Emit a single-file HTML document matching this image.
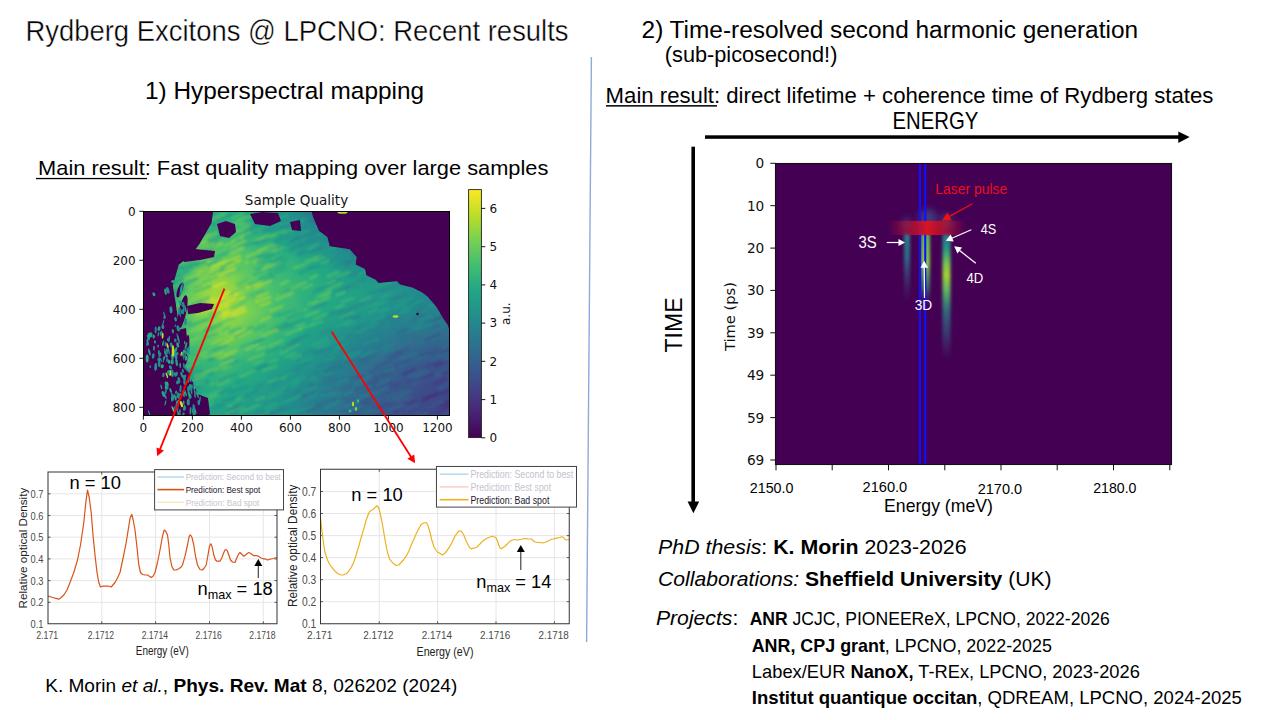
<!DOCTYPE html><html><head><meta charset="utf-8"><title>Rydberg Excitons @ LPCNO</title>
<style>html,body{margin:0;padding:0;background:#fff;overflow:hidden}svg{display:block}</style></head><body>
<svg width="1280" height="720" viewBox="0 0 1280 720" font-family="Liberation Sans, Arial, sans-serif">
<defs>
<linearGradient id="vir" x1="0" y1="1" x2="0" y2="0"><stop offset="0.0" stop-color="#440154"/><stop offset="0.1" stop-color="#482475"/><stop offset="0.2" stop-color="#414487"/><stop offset="0.3" stop-color="#355f8d"/><stop offset="0.4" stop-color="#2a788e"/><stop offset="0.5" stop-color="#21918c"/><stop offset="0.6" stop-color="#22a884"/><stop offset="0.7" stop-color="#44bf70"/><stop offset="0.8" stop-color="#7ad151"/><stop offset="0.9" stop-color="#bddf26"/><stop offset="1.0" stop-color="#fde725"/></linearGradient>
<linearGradient id="redband" x1="0" y1="0" x2="1" y2="0">
<stop offset="0" stop-color="#d0102a" stop-opacity="0"/><stop offset="0.25" stop-color="#c8102a" stop-opacity="0.55"/><stop offset="0.5" stop-color="#e0141e" stop-opacity="0.95"/><stop offset="0.72" stop-color="#c8102a" stop-opacity="0.7"/><stop offset="1" stop-color="#c8102a" stop-opacity="0"/></linearGradient>
<linearGradient id="st3s" x1="0" y1="0" x2="0" y2="1"><stop offset="0" stop-color="#2a8a8c" stop-opacity="0.9"/><stop offset="0.35" stop-color="#26828e" stop-opacity="0.8"/><stop offset="1" stop-color="#3b528b" stop-opacity="0"/></linearGradient>
<linearGradient id="st3d" x1="0" y1="0" x2="0" y2="1"><stop offset="0" stop-color="#5ec962" stop-opacity="0.9"/><stop offset="0.4" stop-color="#8fd744" stop-opacity="0.95"/><stop offset="0.75" stop-color="#35b779" stop-opacity="0.6"/><stop offset="1" stop-color="#31688e" stop-opacity="0"/></linearGradient>
<linearGradient id="st4" x1="0" y1="0" x2="0" y2="1"><stop offset="0" stop-color="#26828e" stop-opacity="0.85"/><stop offset="0.12" stop-color="#22a884" stop-opacity="0.9"/><stop offset="0.24" stop-color="#7ad151" stop-opacity="0.95"/><stop offset="0.33" stop-color="#a8db34" stop-opacity="0.95"/><stop offset="0.45" stop-color="#5ec962" stop-opacity="0.9"/><stop offset="0.6" stop-color="#2a9a8a" stop-opacity="0.7"/><stop offset="0.8" stop-color="#2a788e" stop-opacity="0.45"/><stop offset="1" stop-color="#3b528b" stop-opacity="0"/></linearGradient>
<filter id="blur07" x="-5%" y="-5%" width="110%" height="110%"><feGaussianBlur stdDeviation="1.0"/></filter>
<filter id="blur1" x="-50%" y="-50%" width="200%" height="200%"><feGaussianBlur stdDeviation="1.6"/></filter>
<filter id="blur4" x="-10%" y="-10%" width="120%" height="120%"><feGaussianBlur stdDeviation="4"/></filter>
<filter id="blur2" x="-50%" y="-50%" width="200%" height="200%"><feGaussianBlur stdDeviation="3"/></filter>
<clipPath id="hmclip"><rect x="143.5" y="211.5" width="306" height="204"/></clipPath>
<clipPath id="rclip"><rect x="775.5" y="163.5" width="396" height="301"/></clipPath>
<clipPath id="p1clip"><rect x="48" y="472" width="229" height="152"/></clipPath>
<clipPath id="p2clip"><rect x="320.5" y="469" width="249" height="155"/></clipPath>

</defs>
<text x="25.46" y="40.60" font-size="29.51" textLength="543.07" lengthAdjust="spacingAndGlyphs" id="title" stroke="#fff" stroke-width="0.4">Rydberg Excitons @ LPCNO: Recent results</text>
<text x="145.06" y="98.50" font-size="24.13" textLength="278.98" lengthAdjust="spacingAndGlyphs" id="h1">1) Hyperspectral mapping</text>
<text x="38.12" y="174.60" font-size="20.93" textLength="510.25" lengthAdjust="spacingAndGlyphs" id="mr1">Main result: Fast quality mapping over large samples</text>
<rect x="36" y="177.9" width="111" height="1.3" fill="#000"/>
<text x="641.57" y="37.75" font-size="23.98" textLength="496.47" lengthAdjust="spacingAndGlyphs" id="h2">2) Time-resolved second harmonic generation</text>
<text x="664.82" y="61.90" font-size="21.22" textLength="172.57" lengthAdjust="spacingAndGlyphs" id="sub">(sub-picosecond!)</text>
<text x="605.60" y="102.50" font-size="22.09" textLength="607.80" lengthAdjust="spacingAndGlyphs" id="mr2">Main result: direct lifetime + coherence time of Rydberg states</text>
<rect x="606" y="105.1" width="111" height="1.5" fill="#000"/>
<text x="892.56" y="128.90" font-size="23.55" textLength="85.87" lengthAdjust="spacingAndGlyphs" id="energy">ENERGY</text>
<rect x="705" y="135.3" width="474" height="3.5" fill="#000"/>
<polygon points="1178.3,131.6 1189.6,137.05 1178.3,142.9" fill="#000"/>
<rect x="691.4" y="146.7" width="3.6" height="356" fill="#000"/>
<polygon points="687.6,501.5 699.2,501.5 693.4,513.3" fill="#000"/>
<text x="682.20" y="352.50" font-size="23.40" textLength="55.00" lengthAdjust="spacingAndGlyphs" id="time" transform="rotate(-90 682.20 352.50)">TIME</text>
<line x1="591.4" y1="57" x2="586.6" y2="642" stroke="#8eaadb" stroke-width="1.4"/>
<text x="45.16" y="691.90" font-size="19.04" textLength="412.19" lengthAdjust="spacingAndGlyphs" id="cite">K. Morin <tspan font-style="italic">et al.</tspan>, <tspan font-weight="bold">Phys. Rev. Mat</tspan> 8, 026202 (2024)</text>
<text x="658.12" y="554.40" font-size="20.93" textLength="308.46" lengthAdjust="spacingAndGlyphs" id="phd"><tspan font-style="italic">PhD thesis</tspan>: <tspan font-weight="bold">K. Morin</tspan> 2023-2026</text>
<text x="658.12" y="586.25" font-size="20.93" textLength="393.46" lengthAdjust="spacingAndGlyphs" id="coll"><tspan font-style="italic">Collaborations:</tspan> <tspan font-weight="bold">Sheffield University</tspan> (UK)</text>
<text x="655.93" y="624.90" font-size="20.64" textLength="82.40" lengthAdjust="spacingAndGlyphs" id="proj"><tspan font-style="italic">Projects</tspan>:</text>
<text x="749.68" y="624.80" font-size="17.73" textLength="360.04" lengthAdjust="spacingAndGlyphs" id="pl1"><tspan font-weight="bold">ANR</tspan> JCJC, PIONEEReX, LPCNO, 2022-2026</text>
<text x="751.68" y="651.80" font-size="17.73" textLength="300.24" lengthAdjust="spacingAndGlyphs" id="pl2"><tspan font-weight="bold">ANR, CPJ grant</tspan>, LPCNO, 2022-2025</text>
<text x="751.88" y="678.20" font-size="17.73" textLength="387.94" lengthAdjust="spacingAndGlyphs" id="pl3">Labex/EUR <tspan font-weight="bold">NanoX,</tspan> T-REx, LPCNO, 2023-2026</text>
<text x="751.88" y="703.60" font-size="17.73" textLength="490.04" lengthAdjust="spacingAndGlyphs" id="pl4"><tspan font-weight="bold">Institut quantique occitan</tspan>, QDREAM, LPCNO, 2024-2025</text>
<g id="hmap">
<rect x="143.5" y="211.5" width="306" height="204" fill="#440154"/>
<clipPath id="mainclip"><polygon points="213.1,211.5 311.5,211.5 313.0,217.0 319.0,231.0 327.4,237.0 329.7,246.2 349.6,249.3 356.5,257.0 355.7,264.5 364.9,269.1 366.4,275.2 375.6,279.8 378.6,282.9 397.0,281.3 400.0,284.4 412.2,287.4 421.4,292.0 427.5,296.6 436.7,307.3 442.8,318.0 447.5,324.4 449.5,330.0 449.5,415.5 210.0,415.5 199.7,399.0 193.7,384.0 187.8,372.0 181.8,354.3 178.8,324.4 175.8,303.5 172.8,285.6 178.8,264.7 190.7,255.7 199.7,243.8 211.6,222.9"/></clipPath>
<g clip-path="url(#mainclip)">
<g filter="url(#blur4)">
<rect x="135.5" y="203.5" width="40.6" height="8.6" fill="#229c88"/>
<rect x="175.5" y="203.5" width="16.6" height="8.6" fill="#22a286"/>
<rect x="191.5" y="203.5" width="24.6" height="8.6" fill="#22a884"/>
<rect x="215.5" y="203.5" width="16.6" height="8.6" fill="#2aae7f"/>
<rect x="231.5" y="203.5" width="16.6" height="8.6" fill="#22a884"/>
<rect x="247.5" y="203.5" width="8.6" height="8.6" fill="#22a286"/>
<rect x="255.5" y="203.5" width="16.6" height="8.6" fill="#229c88"/>
<rect x="271.5" y="203.5" width="8.6" height="8.6" fill="#21978a"/>
<rect x="279.5" y="203.5" width="8.6" height="8.6" fill="#21918c"/>
<rect x="287.5" y="203.5" width="8.6" height="8.6" fill="#238b8c"/>
<rect x="295.5" y="203.5" width="16.6" height="8.6" fill="#26848d"/>
<rect x="311.5" y="203.5" width="152.6" height="8.6" fill="#287e8e"/>
<rect x="135.5" y="211.5" width="24.6" height="8.6" fill="#229c88"/>
<rect x="159.5" y="211.5" width="32.6" height="8.6" fill="#22a286"/>
<rect x="191.5" y="211.5" width="16.6" height="8.6" fill="#22a884"/>
<rect x="207.5" y="211.5" width="24.6" height="8.6" fill="#2aae7f"/>
<rect x="231.5" y="211.5" width="16.6" height="8.6" fill="#22a884"/>
<rect x="247.5" y="211.5" width="16.6" height="8.6" fill="#22a286"/>
<rect x="263.5" y="211.5" width="8.6" height="8.6" fill="#229c88"/>
<rect x="271.5" y="211.5" width="8.6" height="8.6" fill="#21978a"/>
<rect x="279.5" y="211.5" width="16.6" height="8.6" fill="#21918c"/>
<rect x="295.5" y="211.5" width="8.6" height="8.6" fill="#238b8c"/>
<rect x="303.5" y="211.5" width="16.6" height="8.6" fill="#26848d"/>
<rect x="319.5" y="211.5" width="144.6" height="8.6" fill="#287e8e"/>
<rect x="135.5" y="219.5" width="16.6" height="8.6" fill="#229c88"/>
<rect x="151.5" y="219.5" width="32.6" height="8.6" fill="#22a286"/>
<rect x="183.5" y="219.5" width="8.6" height="8.6" fill="#22a884"/>
<rect x="191.5" y="219.5" width="24.6" height="8.6" fill="#2aae7f"/>
<rect x="215.5" y="219.5" width="16.6" height="8.6" fill="#33b47a"/>
<rect x="231.5" y="219.5" width="16.6" height="8.6" fill="#2aae7f"/>
<rect x="247.5" y="219.5" width="16.6" height="8.6" fill="#22a884"/>
<rect x="263.5" y="219.5" width="8.6" height="8.6" fill="#22a286"/>
<rect x="271.5" y="219.5" width="8.6" height="8.6" fill="#229c88"/>
<rect x="279.5" y="219.5" width="16.6" height="8.6" fill="#21978a"/>
<rect x="295.5" y="219.5" width="8.6" height="8.6" fill="#21918c"/>
<rect x="303.5" y="219.5" width="16.6" height="8.6" fill="#238b8c"/>
<rect x="319.5" y="219.5" width="16.6" height="8.6" fill="#26848d"/>
<rect x="335.5" y="219.5" width="128.6" height="8.6" fill="#287e8e"/>
<rect x="135.5" y="227.5" width="8.6" height="8.6" fill="#229c88"/>
<rect x="143.5" y="227.5" width="24.6" height="8.6" fill="#22a286"/>
<rect x="167.5" y="227.5" width="16.6" height="8.6" fill="#22a884"/>
<rect x="183.5" y="227.5" width="16.6" height="8.6" fill="#2aae7f"/>
<rect x="199.5" y="227.5" width="24.6" height="8.6" fill="#33b47a"/>
<rect x="223.5" y="227.5" width="8.6" height="8.6" fill="#3cb975"/>
<rect x="231.5" y="227.5" width="16.6" height="8.6" fill="#33b47a"/>
<rect x="247.5" y="227.5" width="16.6" height="8.6" fill="#2aae7f"/>
<rect x="263.5" y="227.5" width="8.6" height="8.6" fill="#22a884"/>
<rect x="271.5" y="227.5" width="8.6" height="8.6" fill="#22a286"/>
<rect x="279.5" y="227.5" width="16.6" height="8.6" fill="#229c88"/>
<rect x="295.5" y="227.5" width="8.6" height="8.6" fill="#21978a"/>
<rect x="303.5" y="227.5" width="8.6" height="8.6" fill="#21918c"/>
<rect x="311.5" y="227.5" width="16.6" height="8.6" fill="#238b8c"/>
<rect x="327.5" y="227.5" width="16.6" height="8.6" fill="#26848d"/>
<rect x="343.5" y="227.5" width="120.6" height="8.6" fill="#287e8e"/>
<rect x="135.5" y="235.5" width="8.6" height="8.6" fill="#229c88"/>
<rect x="143.5" y="235.5" width="24.6" height="8.6" fill="#22a286"/>
<rect x="167.5" y="235.5" width="8.6" height="8.6" fill="#22a884"/>
<rect x="175.5" y="235.5" width="16.6" height="8.6" fill="#2aae7f"/>
<rect x="191.5" y="235.5" width="8.6" height="8.6" fill="#33b47a"/>
<rect x="199.5" y="235.5" width="48.6" height="8.6" fill="#3cb975"/>
<rect x="247.5" y="235.5" width="16.6" height="8.6" fill="#33b47a"/>
<rect x="263.5" y="235.5" width="8.6" height="8.6" fill="#2aae7f"/>
<rect x="271.5" y="235.5" width="8.6" height="8.6" fill="#22a884"/>
<rect x="279.5" y="235.5" width="16.6" height="8.6" fill="#22a286"/>
<rect x="295.5" y="235.5" width="8.6" height="8.6" fill="#229c88"/>
<rect x="303.5" y="235.5" width="8.6" height="8.6" fill="#21978a"/>
<rect x="311.5" y="235.5" width="8.6" height="8.6" fill="#21918c"/>
<rect x="319.5" y="235.5" width="16.6" height="8.6" fill="#238b8c"/>
<rect x="335.5" y="235.5" width="16.6" height="8.6" fill="#26848d"/>
<rect x="351.5" y="235.5" width="112.6" height="8.6" fill="#287e8e"/>
<rect x="135.5" y="243.5" width="8.6" height="8.6" fill="#229c88"/>
<rect x="143.5" y="243.5" width="16.6" height="8.6" fill="#22a286"/>
<rect x="159.5" y="243.5" width="16.6" height="8.6" fill="#22a884"/>
<rect x="175.5" y="243.5" width="8.6" height="8.6" fill="#2aae7f"/>
<rect x="183.5" y="243.5" width="8.6" height="8.6" fill="#33b47a"/>
<rect x="191.5" y="243.5" width="8.6" height="8.6" fill="#3cb975"/>
<rect x="199.5" y="243.5" width="24.6" height="8.6" fill="#44bf70"/>
<rect x="223.5" y="243.5" width="8.6" height="8.6" fill="#52c468"/>
<rect x="231.5" y="243.5" width="16.6" height="8.6" fill="#44bf70"/>
<rect x="247.5" y="243.5" width="8.6" height="8.6" fill="#3cb975"/>
<rect x="255.5" y="243.5" width="16.6" height="8.6" fill="#33b47a"/>
<rect x="271.5" y="243.5" width="8.6" height="8.6" fill="#2aae7f"/>
<rect x="279.5" y="243.5" width="16.6" height="8.6" fill="#22a884"/>
<rect x="295.5" y="243.5" width="8.6" height="8.6" fill="#22a286"/>
<rect x="303.5" y="243.5" width="8.6" height="8.6" fill="#229c88"/>
<rect x="311.5" y="243.5" width="16.6" height="8.6" fill="#21978a"/>
<rect x="327.5" y="243.5" width="8.6" height="8.6" fill="#21918c"/>
<rect x="335.5" y="243.5" width="16.6" height="8.6" fill="#238b8c"/>
<rect x="351.5" y="243.5" width="24.6" height="8.6" fill="#26848d"/>
<rect x="375.5" y="243.5" width="88.6" height="8.6" fill="#287e8e"/>
<rect x="135.5" y="251.5" width="8.6" height="8.6" fill="#229c88"/>
<rect x="143.5" y="251.5" width="16.6" height="8.6" fill="#22a286"/>
<rect x="159.5" y="251.5" width="8.6" height="8.6" fill="#22a884"/>
<rect x="167.5" y="251.5" width="8.6" height="8.6" fill="#2aae7f"/>
<rect x="175.5" y="251.5" width="8.6" height="8.6" fill="#33b47a"/>
<rect x="183.5" y="251.5" width="8.6" height="8.6" fill="#3cb975"/>
<rect x="191.5" y="251.5" width="8.6" height="8.6" fill="#44bf70"/>
<rect x="199.5" y="251.5" width="16.6" height="8.6" fill="#52c468"/>
<rect x="215.5" y="251.5" width="16.6" height="8.6" fill="#5fc860"/>
<rect x="231.5" y="251.5" width="16.6" height="8.6" fill="#52c468"/>
<rect x="247.5" y="251.5" width="8.6" height="8.6" fill="#44bf70"/>
<rect x="255.5" y="251.5" width="16.6" height="8.6" fill="#3cb975"/>
<rect x="271.5" y="251.5" width="8.6" height="8.6" fill="#33b47a"/>
<rect x="279.5" y="251.5" width="16.6" height="8.6" fill="#2aae7f"/>
<rect x="295.5" y="251.5" width="8.6" height="8.6" fill="#22a884"/>
<rect x="303.5" y="251.5" width="16.6" height="8.6" fill="#22a286"/>
<rect x="319.5" y="251.5" width="8.6" height="8.6" fill="#229c88"/>
<rect x="327.5" y="251.5" width="8.6" height="8.6" fill="#21978a"/>
<rect x="335.5" y="251.5" width="16.6" height="8.6" fill="#21918c"/>
<rect x="351.5" y="251.5" width="16.6" height="8.6" fill="#238b8c"/>
<rect x="367.5" y="251.5" width="24.6" height="8.6" fill="#26848d"/>
<rect x="391.5" y="251.5" width="72.6" height="8.6" fill="#287e8e"/>
<rect x="135.5" y="259.5" width="8.6" height="8.6" fill="#229c88"/>
<rect x="143.5" y="259.5" width="16.6" height="8.6" fill="#22a286"/>
<rect x="159.5" y="259.5" width="8.6" height="8.6" fill="#22a884"/>
<rect x="167.5" y="259.5" width="8.6" height="8.6" fill="#2aae7f"/>
<rect x="175.5" y="259.5" width="8.6" height="8.6" fill="#33b47a"/>
<rect x="183.5" y="259.5" width="8.6" height="8.6" fill="#44bf70"/>
<rect x="191.5" y="259.5" width="8.6" height="8.6" fill="#52c468"/>
<rect x="199.5" y="259.5" width="16.6" height="8.6" fill="#5fc860"/>
<rect x="215.5" y="259.5" width="16.6" height="8.6" fill="#6ccc59"/>
<rect x="231.5" y="259.5" width="8.6" height="8.6" fill="#5fc860"/>
<rect x="239.5" y="259.5" width="16.6" height="8.6" fill="#52c468"/>
<rect x="255.5" y="259.5" width="8.6" height="8.6" fill="#44bf70"/>
<rect x="263.5" y="259.5" width="16.6" height="8.6" fill="#3cb975"/>
<rect x="279.5" y="259.5" width="16.6" height="8.6" fill="#33b47a"/>
<rect x="295.5" y="259.5" width="8.6" height="8.6" fill="#2aae7f"/>
<rect x="303.5" y="259.5" width="16.6" height="8.6" fill="#22a884"/>
<rect x="319.5" y="259.5" width="8.6" height="8.6" fill="#22a286"/>
<rect x="327.5" y="259.5" width="8.6" height="8.6" fill="#229c88"/>
<rect x="335.5" y="259.5" width="8.6" height="8.6" fill="#21978a"/>
<rect x="343.5" y="259.5" width="16.6" height="8.6" fill="#21918c"/>
<rect x="359.5" y="259.5" width="16.6" height="8.6" fill="#238b8c"/>
<rect x="375.5" y="259.5" width="40.6" height="8.6" fill="#26848d"/>
<rect x="415.5" y="259.5" width="48.6" height="8.6" fill="#287e8e"/>
<rect x="135.5" y="267.5" width="16.6" height="8.6" fill="#22a286"/>
<rect x="151.5" y="267.5" width="16.6" height="8.6" fill="#22a884"/>
<rect x="167.5" y="267.5" width="8.6" height="8.6" fill="#2aae7f"/>
<rect x="175.5" y="267.5" width="8.6" height="8.6" fill="#33b47a"/>
<rect x="183.5" y="267.5" width="8.6" height="8.6" fill="#44bf70"/>
<rect x="191.5" y="267.5" width="8.6" height="8.6" fill="#5fc860"/>
<rect x="199.5" y="267.5" width="16.6" height="8.6" fill="#6ccc59"/>
<rect x="215.5" y="267.5" width="16.6" height="8.6" fill="#7ad151"/>
<rect x="231.5" y="267.5" width="8.6" height="8.6" fill="#6ccc59"/>
<rect x="239.5" y="267.5" width="8.6" height="8.6" fill="#5fc860"/>
<rect x="247.5" y="267.5" width="16.6" height="8.6" fill="#52c468"/>
<rect x="263.5" y="267.5" width="8.6" height="8.6" fill="#44bf70"/>
<rect x="271.5" y="267.5" width="8.6" height="8.6" fill="#3cb975"/>
<rect x="279.5" y="267.5" width="16.6" height="8.6" fill="#33b47a"/>
<rect x="295.5" y="267.5" width="16.6" height="8.6" fill="#2aae7f"/>
<rect x="311.5" y="267.5" width="16.6" height="8.6" fill="#22a884"/>
<rect x="327.5" y="267.5" width="8.6" height="8.6" fill="#22a286"/>
<rect x="335.5" y="267.5" width="8.6" height="8.6" fill="#229c88"/>
<rect x="343.5" y="267.5" width="16.6" height="8.6" fill="#21978a"/>
<rect x="359.5" y="267.5" width="16.6" height="8.6" fill="#21918c"/>
<rect x="375.5" y="267.5" width="32.6" height="8.6" fill="#238b8c"/>
<rect x="407.5" y="267.5" width="56.6" height="8.6" fill="#26848d"/>
<rect x="135.5" y="275.5" width="16.6" height="8.6" fill="#22a286"/>
<rect x="151.5" y="275.5" width="8.6" height="8.6" fill="#22a884"/>
<rect x="159.5" y="275.5" width="16.6" height="8.6" fill="#2aae7f"/>
<rect x="175.5" y="275.5" width="8.6" height="8.6" fill="#3cb975"/>
<rect x="183.5" y="275.5" width="8.6" height="8.6" fill="#52c468"/>
<rect x="191.5" y="275.5" width="8.6" height="8.6" fill="#6ccc59"/>
<rect x="199.5" y="275.5" width="8.6" height="8.6" fill="#7ad151"/>
<rect x="207.5" y="275.5" width="24.6" height="8.6" fill="#8bd446"/>
<rect x="231.5" y="275.5" width="8.6" height="8.6" fill="#7ad151"/>
<rect x="239.5" y="275.5" width="8.6" height="8.6" fill="#6ccc59"/>
<rect x="247.5" y="275.5" width="8.6" height="8.6" fill="#5fc860"/>
<rect x="255.5" y="275.5" width="8.6" height="8.6" fill="#52c468"/>
<rect x="263.5" y="275.5" width="8.6" height="8.6" fill="#44bf70"/>
<rect x="271.5" y="275.5" width="16.6" height="8.6" fill="#3cb975"/>
<rect x="287.5" y="275.5" width="16.6" height="8.6" fill="#33b47a"/>
<rect x="303.5" y="275.5" width="16.6" height="8.6" fill="#2aae7f"/>
<rect x="319.5" y="275.5" width="16.6" height="8.6" fill="#22a884"/>
<rect x="335.5" y="275.5" width="8.6" height="8.6" fill="#22a286"/>
<rect x="343.5" y="275.5" width="16.6" height="8.6" fill="#229c88"/>
<rect x="359.5" y="275.5" width="16.6" height="8.6" fill="#21978a"/>
<rect x="375.5" y="275.5" width="24.6" height="8.6" fill="#21918c"/>
<rect x="399.5" y="275.5" width="24.6" height="8.6" fill="#238b8c"/>
<rect x="423.5" y="275.5" width="40.6" height="8.6" fill="#26848d"/>
<rect x="135.5" y="283.5" width="16.6" height="8.6" fill="#22a286"/>
<rect x="151.5" y="283.5" width="8.6" height="8.6" fill="#22a884"/>
<rect x="159.5" y="283.5" width="8.6" height="8.6" fill="#2aae7f"/>
<rect x="167.5" y="283.5" width="8.6" height="8.6" fill="#33b47a"/>
<rect x="175.5" y="283.5" width="8.6" height="8.6" fill="#3cb975"/>
<rect x="183.5" y="283.5" width="8.6" height="8.6" fill="#52c468"/>
<rect x="191.5" y="283.5" width="8.6" height="8.6" fill="#7ad151"/>
<rect x="199.5" y="283.5" width="8.6" height="8.6" fill="#8bd446"/>
<rect x="207.5" y="283.5" width="24.6" height="8.6" fill="#9cd83c"/>
<rect x="231.5" y="283.5" width="8.6" height="8.6" fill="#8bd446"/>
<rect x="239.5" y="283.5" width="8.6" height="8.6" fill="#7ad151"/>
<rect x="247.5" y="283.5" width="8.6" height="8.6" fill="#6ccc59"/>
<rect x="255.5" y="283.5" width="8.6" height="8.6" fill="#5fc860"/>
<rect x="263.5" y="283.5" width="8.6" height="8.6" fill="#52c468"/>
<rect x="271.5" y="283.5" width="8.6" height="8.6" fill="#44bf70"/>
<rect x="279.5" y="283.5" width="16.6" height="8.6" fill="#3cb975"/>
<rect x="295.5" y="283.5" width="16.6" height="8.6" fill="#33b47a"/>
<rect x="311.5" y="283.5" width="16.6" height="8.6" fill="#2aae7f"/>
<rect x="327.5" y="283.5" width="16.6" height="8.6" fill="#22a884"/>
<rect x="343.5" y="283.5" width="16.6" height="8.6" fill="#22a286"/>
<rect x="359.5" y="283.5" width="16.6" height="8.6" fill="#229c88"/>
<rect x="375.5" y="283.5" width="24.6" height="8.6" fill="#21978a"/>
<rect x="399.5" y="283.5" width="16.6" height="8.6" fill="#21918c"/>
<rect x="415.5" y="283.5" width="16.6" height="8.6" fill="#238b8c"/>
<rect x="431.5" y="283.5" width="32.6" height="8.6" fill="#26848d"/>
<rect x="135.5" y="291.5" width="16.6" height="8.6" fill="#22a286"/>
<rect x="151.5" y="291.5" width="8.6" height="8.6" fill="#22a884"/>
<rect x="159.5" y="291.5" width="8.6" height="8.6" fill="#2aae7f"/>
<rect x="167.5" y="291.5" width="8.6" height="8.6" fill="#33b47a"/>
<rect x="175.5" y="291.5" width="8.6" height="8.6" fill="#3cb975"/>
<rect x="183.5" y="291.5" width="8.6" height="8.6" fill="#52c468"/>
<rect x="191.5" y="291.5" width="8.6" height="8.6" fill="#7ad151"/>
<rect x="199.5" y="291.5" width="8.6" height="8.6" fill="#8bd446"/>
<rect x="207.5" y="291.5" width="24.6" height="8.6" fill="#9cd83c"/>
<rect x="231.5" y="291.5" width="8.6" height="8.6" fill="#8bd446"/>
<rect x="239.5" y="291.5" width="8.6" height="8.6" fill="#7ad151"/>
<rect x="247.5" y="291.5" width="8.6" height="8.6" fill="#6ccc59"/>
<rect x="255.5" y="291.5" width="8.6" height="8.6" fill="#5fc860"/>
<rect x="263.5" y="291.5" width="8.6" height="8.6" fill="#52c468"/>
<rect x="271.5" y="291.5" width="8.6" height="8.6" fill="#44bf70"/>
<rect x="279.5" y="291.5" width="16.6" height="8.6" fill="#3cb975"/>
<rect x="295.5" y="291.5" width="8.6" height="8.6" fill="#33b47a"/>
<rect x="303.5" y="291.5" width="24.6" height="8.6" fill="#2aae7f"/>
<rect x="327.5" y="291.5" width="16.6" height="8.6" fill="#22a884"/>
<rect x="343.5" y="291.5" width="16.6" height="8.6" fill="#22a286"/>
<rect x="359.5" y="291.5" width="16.6" height="8.6" fill="#229c88"/>
<rect x="375.5" y="291.5" width="16.6" height="8.6" fill="#21978a"/>
<rect x="391.5" y="291.5" width="16.6" height="8.6" fill="#21918c"/>
<rect x="407.5" y="291.5" width="16.6" height="8.6" fill="#238b8c"/>
<rect x="423.5" y="291.5" width="40.6" height="8.6" fill="#26848d"/>
<rect x="135.5" y="299.5" width="16.6" height="8.6" fill="#22a286"/>
<rect x="151.5" y="299.5" width="8.6" height="8.6" fill="#22a884"/>
<rect x="159.5" y="299.5" width="8.6" height="8.6" fill="#2aae7f"/>
<rect x="167.5" y="299.5" width="8.6" height="8.6" fill="#33b47a"/>
<rect x="175.5" y="299.5" width="8.6" height="8.6" fill="#3cb975"/>
<rect x="183.5" y="299.5" width="8.6" height="8.6" fill="#52c468"/>
<rect x="191.5" y="299.5" width="8.6" height="8.6" fill="#7ad151"/>
<rect x="199.5" y="299.5" width="8.6" height="8.6" fill="#8bd446"/>
<rect x="207.5" y="299.5" width="24.6" height="8.6" fill="#9cd83c"/>
<rect x="231.5" y="299.5" width="8.6" height="8.6" fill="#8bd446"/>
<rect x="239.5" y="299.5" width="8.6" height="8.6" fill="#7ad151"/>
<rect x="247.5" y="299.5" width="8.6" height="8.6" fill="#6ccc59"/>
<rect x="255.5" y="299.5" width="8.6" height="8.6" fill="#5fc860"/>
<rect x="263.5" y="299.5" width="8.6" height="8.6" fill="#52c468"/>
<rect x="271.5" y="299.5" width="8.6" height="8.6" fill="#44bf70"/>
<rect x="279.5" y="299.5" width="16.6" height="8.6" fill="#3cb975"/>
<rect x="295.5" y="299.5" width="8.6" height="8.6" fill="#33b47a"/>
<rect x="303.5" y="299.5" width="16.6" height="8.6" fill="#2aae7f"/>
<rect x="319.5" y="299.5" width="16.6" height="8.6" fill="#22a884"/>
<rect x="335.5" y="299.5" width="16.6" height="8.6" fill="#22a286"/>
<rect x="351.5" y="299.5" width="16.6" height="8.6" fill="#229c88"/>
<rect x="367.5" y="299.5" width="16.6" height="8.6" fill="#21978a"/>
<rect x="383.5" y="299.5" width="16.6" height="8.6" fill="#21918c"/>
<rect x="399.5" y="299.5" width="24.6" height="8.6" fill="#238b8c"/>
<rect x="423.5" y="299.5" width="24.6" height="8.6" fill="#26848d"/>
<rect x="447.5" y="299.5" width="16.6" height="8.6" fill="#287e8e"/>
<rect x="135.5" y="307.5" width="16.6" height="8.6" fill="#22a286"/>
<rect x="151.5" y="307.5" width="8.6" height="8.6" fill="#22a884"/>
<rect x="159.5" y="307.5" width="8.6" height="8.6" fill="#2aae7f"/>
<rect x="167.5" y="307.5" width="8.6" height="8.6" fill="#33b47a"/>
<rect x="175.5" y="307.5" width="8.6" height="8.6" fill="#3cb975"/>
<rect x="183.5" y="307.5" width="8.6" height="8.6" fill="#52c468"/>
<rect x="191.5" y="307.5" width="8.6" height="8.6" fill="#7ad151"/>
<rect x="199.5" y="307.5" width="8.6" height="8.6" fill="#8bd446"/>
<rect x="207.5" y="307.5" width="24.6" height="8.6" fill="#9cd83c"/>
<rect x="231.5" y="307.5" width="16.6" height="8.6" fill="#8bd446"/>
<rect x="247.5" y="307.5" width="8.6" height="8.6" fill="#7ad151"/>
<rect x="255.5" y="307.5" width="8.6" height="8.6" fill="#6ccc59"/>
<rect x="263.5" y="307.5" width="8.6" height="8.6" fill="#52c468"/>
<rect x="271.5" y="307.5" width="8.6" height="8.6" fill="#44bf70"/>
<rect x="279.5" y="307.5" width="16.6" height="8.6" fill="#3cb975"/>
<rect x="295.5" y="307.5" width="8.6" height="8.6" fill="#33b47a"/>
<rect x="303.5" y="307.5" width="16.6" height="8.6" fill="#2aae7f"/>
<rect x="319.5" y="307.5" width="16.6" height="8.6" fill="#22a884"/>
<rect x="335.5" y="307.5" width="16.6" height="8.6" fill="#22a286"/>
<rect x="351.5" y="307.5" width="16.6" height="8.6" fill="#229c88"/>
<rect x="367.5" y="307.5" width="16.6" height="8.6" fill="#21978a"/>
<rect x="383.5" y="307.5" width="16.6" height="8.6" fill="#21918c"/>
<rect x="399.5" y="307.5" width="16.6" height="8.6" fill="#238b8c"/>
<rect x="415.5" y="307.5" width="24.6" height="8.6" fill="#26848d"/>
<rect x="439.5" y="307.5" width="24.6" height="8.6" fill="#287e8e"/>
<rect x="135.5" y="315.5" width="16.6" height="8.6" fill="#22a286"/>
<rect x="151.5" y="315.5" width="8.6" height="8.6" fill="#22a884"/>
<rect x="159.5" y="315.5" width="8.6" height="8.6" fill="#2aae7f"/>
<rect x="167.5" y="315.5" width="8.6" height="8.6" fill="#33b47a"/>
<rect x="175.5" y="315.5" width="8.6" height="8.6" fill="#3cb975"/>
<rect x="183.5" y="315.5" width="8.6" height="8.6" fill="#52c468"/>
<rect x="191.5" y="315.5" width="8.6" height="8.6" fill="#6ccc59"/>
<rect x="199.5" y="315.5" width="8.6" height="8.6" fill="#7ad151"/>
<rect x="207.5" y="315.5" width="32.6" height="8.6" fill="#8bd446"/>
<rect x="239.5" y="315.5" width="8.6" height="8.6" fill="#7ad151"/>
<rect x="247.5" y="315.5" width="8.6" height="8.6" fill="#6ccc59"/>
<rect x="255.5" y="315.5" width="8.6" height="8.6" fill="#5fc860"/>
<rect x="263.5" y="315.5" width="8.6" height="8.6" fill="#52c468"/>
<rect x="271.5" y="315.5" width="8.6" height="8.6" fill="#44bf70"/>
<rect x="279.5" y="315.5" width="8.6" height="8.6" fill="#3cb975"/>
<rect x="287.5" y="315.5" width="8.6" height="8.6" fill="#33b47a"/>
<rect x="295.5" y="315.5" width="8.6" height="8.6" fill="#2aae7f"/>
<rect x="303.5" y="315.5" width="16.6" height="8.6" fill="#22a884"/>
<rect x="319.5" y="315.5" width="16.6" height="8.6" fill="#22a286"/>
<rect x="335.5" y="315.5" width="16.6" height="8.6" fill="#229c88"/>
<rect x="351.5" y="315.5" width="16.6" height="8.6" fill="#21978a"/>
<rect x="367.5" y="315.5" width="8.6" height="8.6" fill="#21918c"/>
<rect x="375.5" y="315.5" width="16.6" height="8.6" fill="#238b8c"/>
<rect x="391.5" y="315.5" width="24.6" height="8.6" fill="#26848d"/>
<rect x="415.5" y="315.5" width="24.6" height="8.6" fill="#287e8e"/>
<rect x="439.5" y="315.5" width="24.6" height="8.6" fill="#2a788e"/>
<rect x="135.5" y="323.5" width="16.6" height="8.6" fill="#22a286"/>
<rect x="151.5" y="323.5" width="8.6" height="8.6" fill="#22a884"/>
<rect x="159.5" y="323.5" width="16.6" height="8.6" fill="#2aae7f"/>
<rect x="175.5" y="323.5" width="8.6" height="8.6" fill="#3cb975"/>
<rect x="183.5" y="323.5" width="8.6" height="8.6" fill="#44bf70"/>
<rect x="191.5" y="323.5" width="8.6" height="8.6" fill="#5fc860"/>
<rect x="199.5" y="323.5" width="8.6" height="8.6" fill="#6ccc59"/>
<rect x="207.5" y="323.5" width="32.6" height="8.6" fill="#7ad151"/>
<rect x="239.5" y="323.5" width="8.6" height="8.6" fill="#6ccc59"/>
<rect x="247.5" y="323.5" width="8.6" height="8.6" fill="#5fc860"/>
<rect x="255.5" y="323.5" width="8.6" height="8.6" fill="#52c468"/>
<rect x="263.5" y="323.5" width="8.6" height="8.6" fill="#44bf70"/>
<rect x="271.5" y="323.5" width="8.6" height="8.6" fill="#3cb975"/>
<rect x="279.5" y="323.5" width="8.6" height="8.6" fill="#33b47a"/>
<rect x="287.5" y="323.5" width="8.6" height="8.6" fill="#2aae7f"/>
<rect x="295.5" y="323.5" width="16.6" height="8.6" fill="#22a884"/>
<rect x="311.5" y="323.5" width="8.6" height="8.6" fill="#22a286"/>
<rect x="319.5" y="323.5" width="16.6" height="8.6" fill="#229c88"/>
<rect x="335.5" y="323.5" width="16.6" height="8.6" fill="#21978a"/>
<rect x="351.5" y="323.5" width="8.6" height="8.6" fill="#21918c"/>
<rect x="359.5" y="323.5" width="16.6" height="8.6" fill="#238b8c"/>
<rect x="375.5" y="323.5" width="16.6" height="8.6" fill="#26848d"/>
<rect x="391.5" y="323.5" width="16.6" height="8.6" fill="#287e8e"/>
<rect x="407.5" y="323.5" width="32.6" height="8.6" fill="#2a788e"/>
<rect x="439.5" y="323.5" width="24.6" height="8.6" fill="#2d728e"/>
<rect x="135.5" y="331.5" width="16.6" height="8.6" fill="#22a286"/>
<rect x="151.5" y="331.5" width="8.6" height="8.6" fill="#22a884"/>
<rect x="159.5" y="331.5" width="16.6" height="8.6" fill="#2aae7f"/>
<rect x="175.5" y="331.5" width="8.6" height="8.6" fill="#33b47a"/>
<rect x="183.5" y="331.5" width="8.6" height="8.6" fill="#44bf70"/>
<rect x="191.5" y="331.5" width="8.6" height="8.6" fill="#52c468"/>
<rect x="199.5" y="331.5" width="8.6" height="8.6" fill="#5fc860"/>
<rect x="207.5" y="331.5" width="16.6" height="8.6" fill="#6ccc59"/>
<rect x="223.5" y="331.5" width="8.6" height="8.6" fill="#7ad151"/>
<rect x="231.5" y="331.5" width="8.6" height="8.6" fill="#6ccc59"/>
<rect x="239.5" y="331.5" width="16.6" height="8.6" fill="#5fc860"/>
<rect x="255.5" y="331.5" width="8.6" height="8.6" fill="#52c468"/>
<rect x="263.5" y="331.5" width="8.6" height="8.6" fill="#3cb975"/>
<rect x="271.5" y="331.5" width="16.6" height="8.6" fill="#33b47a"/>
<rect x="287.5" y="331.5" width="8.6" height="8.6" fill="#2aae7f"/>
<rect x="295.5" y="331.5" width="8.6" height="8.6" fill="#22a884"/>
<rect x="303.5" y="331.5" width="8.6" height="8.6" fill="#22a286"/>
<rect x="311.5" y="331.5" width="16.6" height="8.6" fill="#229c88"/>
<rect x="327.5" y="331.5" width="8.6" height="8.6" fill="#21978a"/>
<rect x="335.5" y="331.5" width="16.6" height="8.6" fill="#21918c"/>
<rect x="351.5" y="331.5" width="8.6" height="8.6" fill="#238b8c"/>
<rect x="359.5" y="331.5" width="16.6" height="8.6" fill="#26848d"/>
<rect x="375.5" y="331.5" width="16.6" height="8.6" fill="#287e8e"/>
<rect x="391.5" y="331.5" width="16.6" height="8.6" fill="#2a788e"/>
<rect x="407.5" y="331.5" width="24.6" height="8.6" fill="#2d728e"/>
<rect x="431.5" y="331.5" width="32.6" height="8.6" fill="#306c8e"/>
<rect x="135.5" y="339.5" width="16.6" height="8.6" fill="#22a286"/>
<rect x="151.5" y="339.5" width="16.6" height="8.6" fill="#22a884"/>
<rect x="167.5" y="339.5" width="8.6" height="8.6" fill="#2aae7f"/>
<rect x="175.5" y="339.5" width="8.6" height="8.6" fill="#33b47a"/>
<rect x="183.5" y="339.5" width="8.6" height="8.6" fill="#3cb975"/>
<rect x="191.5" y="339.5" width="8.6" height="8.6" fill="#44bf70"/>
<rect x="199.5" y="339.5" width="16.6" height="8.6" fill="#52c468"/>
<rect x="215.5" y="339.5" width="24.6" height="8.6" fill="#5fc860"/>
<rect x="239.5" y="339.5" width="8.6" height="8.6" fill="#52c468"/>
<rect x="247.5" y="339.5" width="8.6" height="8.6" fill="#44bf70"/>
<rect x="255.5" y="339.5" width="16.6" height="8.6" fill="#3cb975"/>
<rect x="271.5" y="339.5" width="8.6" height="8.6" fill="#33b47a"/>
<rect x="279.5" y="339.5" width="8.6" height="8.6" fill="#2aae7f"/>
<rect x="287.5" y="339.5" width="8.6" height="8.6" fill="#22a884"/>
<rect x="295.5" y="339.5" width="8.6" height="8.6" fill="#22a286"/>
<rect x="303.5" y="339.5" width="16.6" height="8.6" fill="#229c88"/>
<rect x="319.5" y="339.5" width="8.6" height="8.6" fill="#21978a"/>
<rect x="327.5" y="339.5" width="8.6" height="8.6" fill="#21918c"/>
<rect x="335.5" y="339.5" width="16.6" height="8.6" fill="#238b8c"/>
<rect x="351.5" y="339.5" width="8.6" height="8.6" fill="#26848d"/>
<rect x="359.5" y="339.5" width="16.6" height="8.6" fill="#287e8e"/>
<rect x="375.5" y="339.5" width="16.6" height="8.6" fill="#2a788e"/>
<rect x="391.5" y="339.5" width="16.6" height="8.6" fill="#2d728e"/>
<rect x="407.5" y="339.5" width="16.6" height="8.6" fill="#306c8e"/>
<rect x="423.5" y="339.5" width="40.6" height="8.6" fill="#32658d"/>
<rect x="135.5" y="347.5" width="16.6" height="8.6" fill="#22a286"/>
<rect x="151.5" y="347.5" width="24.6" height="8.6" fill="#22a884"/>
<rect x="175.5" y="347.5" width="8.6" height="8.6" fill="#2aae7f"/>
<rect x="183.5" y="347.5" width="8.6" height="8.6" fill="#33b47a"/>
<rect x="191.5" y="347.5" width="8.6" height="8.6" fill="#3cb975"/>
<rect x="199.5" y="347.5" width="16.6" height="8.6" fill="#44bf70"/>
<rect x="215.5" y="347.5" width="16.6" height="8.6" fill="#52c468"/>
<rect x="231.5" y="347.5" width="16.6" height="8.6" fill="#44bf70"/>
<rect x="247.5" y="347.5" width="8.6" height="8.6" fill="#3cb975"/>
<rect x="255.5" y="347.5" width="16.6" height="8.6" fill="#33b47a"/>
<rect x="271.5" y="347.5" width="8.6" height="8.6" fill="#2aae7f"/>
<rect x="279.5" y="347.5" width="8.6" height="8.6" fill="#22a884"/>
<rect x="287.5" y="347.5" width="8.6" height="8.6" fill="#22a286"/>
<rect x="295.5" y="347.5" width="16.6" height="8.6" fill="#229c88"/>
<rect x="311.5" y="347.5" width="8.6" height="8.6" fill="#21978a"/>
<rect x="319.5" y="347.5" width="8.6" height="8.6" fill="#21918c"/>
<rect x="327.5" y="347.5" width="16.6" height="8.6" fill="#238b8c"/>
<rect x="343.5" y="347.5" width="8.6" height="8.6" fill="#26848d"/>
<rect x="351.5" y="347.5" width="16.6" height="8.6" fill="#287e8e"/>
<rect x="367.5" y="347.5" width="8.6" height="8.6" fill="#2a788e"/>
<rect x="375.5" y="347.5" width="16.6" height="8.6" fill="#2d728e"/>
<rect x="391.5" y="347.5" width="16.6" height="8.6" fill="#306c8e"/>
<rect x="407.5" y="347.5" width="16.6" height="8.6" fill="#32658d"/>
<rect x="423.5" y="347.5" width="40.6" height="8.6" fill="#355f8d"/>
<rect x="135.5" y="355.5" width="24.6" height="8.6" fill="#22a286"/>
<rect x="159.5" y="355.5" width="16.6" height="8.6" fill="#22a884"/>
<rect x="175.5" y="355.5" width="16.6" height="8.6" fill="#2aae7f"/>
<rect x="191.5" y="355.5" width="8.6" height="8.6" fill="#33b47a"/>
<rect x="199.5" y="355.5" width="40.6" height="8.6" fill="#3cb975"/>
<rect x="239.5" y="355.5" width="16.6" height="8.6" fill="#33b47a"/>
<rect x="255.5" y="355.5" width="16.6" height="8.6" fill="#2aae7f"/>
<rect x="271.5" y="355.5" width="8.6" height="8.6" fill="#22a884"/>
<rect x="279.5" y="355.5" width="8.6" height="8.6" fill="#22a286"/>
<rect x="287.5" y="355.5" width="8.6" height="8.6" fill="#229c88"/>
<rect x="295.5" y="355.5" width="16.6" height="8.6" fill="#21978a"/>
<rect x="311.5" y="355.5" width="16.6" height="8.6" fill="#21918c"/>
<rect x="327.5" y="355.5" width="8.6" height="8.6" fill="#238b8c"/>
<rect x="335.5" y="355.5" width="8.6" height="8.6" fill="#26848d"/>
<rect x="343.5" y="355.5" width="16.6" height="8.6" fill="#287e8e"/>
<rect x="359.5" y="355.5" width="8.6" height="8.6" fill="#2a788e"/>
<rect x="367.5" y="355.5" width="8.6" height="8.6" fill="#2d728e"/>
<rect x="375.5" y="355.5" width="16.6" height="8.6" fill="#306c8e"/>
<rect x="391.5" y="355.5" width="16.6" height="8.6" fill="#32658d"/>
<rect x="407.5" y="355.5" width="16.6" height="8.6" fill="#355f8d"/>
<rect x="423.5" y="355.5" width="24.6" height="8.6" fill="#38588c"/>
<rect x="447.5" y="355.5" width="16.6" height="8.6" fill="#3b528a"/>
<rect x="135.5" y="363.5" width="32.6" height="8.6" fill="#22a286"/>
<rect x="167.5" y="363.5" width="16.6" height="8.6" fill="#22a884"/>
<rect x="183.5" y="363.5" width="16.6" height="8.6" fill="#2aae7f"/>
<rect x="199.5" y="363.5" width="24.6" height="8.6" fill="#33b47a"/>
<rect x="223.5" y="363.5" width="8.6" height="8.6" fill="#3cb975"/>
<rect x="231.5" y="363.5" width="8.6" height="8.6" fill="#33b47a"/>
<rect x="239.5" y="363.5" width="16.6" height="8.6" fill="#2aae7f"/>
<rect x="255.5" y="363.5" width="16.6" height="8.6" fill="#22a884"/>
<rect x="271.5" y="363.5" width="8.6" height="8.6" fill="#22a286"/>
<rect x="279.5" y="363.5" width="16.6" height="8.6" fill="#229c88"/>
<rect x="295.5" y="363.5" width="8.6" height="8.6" fill="#21978a"/>
<rect x="303.5" y="363.5" width="16.6" height="8.6" fill="#21918c"/>
<rect x="319.5" y="363.5" width="8.6" height="8.6" fill="#238b8c"/>
<rect x="327.5" y="363.5" width="8.6" height="8.6" fill="#26848d"/>
<rect x="335.5" y="363.5" width="16.6" height="8.6" fill="#287e8e"/>
<rect x="351.5" y="363.5" width="8.6" height="8.6" fill="#2a788e"/>
<rect x="359.5" y="363.5" width="8.6" height="8.6" fill="#2d728e"/>
<rect x="367.5" y="363.5" width="16.6" height="8.6" fill="#306c8e"/>
<rect x="383.5" y="363.5" width="8.6" height="8.6" fill="#32658d"/>
<rect x="391.5" y="363.5" width="16.6" height="8.6" fill="#355f8d"/>
<rect x="407.5" y="363.5" width="16.6" height="8.6" fill="#38588c"/>
<rect x="423.5" y="363.5" width="40.6" height="8.6" fill="#3b528a"/>
<rect x="135.5" y="371.5" width="40.6" height="8.6" fill="#22a286"/>
<rect x="175.5" y="371.5" width="16.6" height="8.6" fill="#22a884"/>
<rect x="191.5" y="371.5" width="24.6" height="8.6" fill="#2aae7f"/>
<rect x="215.5" y="371.5" width="16.6" height="8.6" fill="#33b47a"/>
<rect x="231.5" y="371.5" width="16.6" height="8.6" fill="#2aae7f"/>
<rect x="247.5" y="371.5" width="16.6" height="8.6" fill="#22a884"/>
<rect x="263.5" y="371.5" width="8.6" height="8.6" fill="#22a286"/>
<rect x="271.5" y="371.5" width="16.6" height="8.6" fill="#229c88"/>
<rect x="287.5" y="371.5" width="8.6" height="8.6" fill="#21978a"/>
<rect x="295.5" y="371.5" width="16.6" height="8.6" fill="#21918c"/>
<rect x="311.5" y="371.5" width="8.6" height="8.6" fill="#238b8c"/>
<rect x="319.5" y="371.5" width="8.6" height="8.6" fill="#26848d"/>
<rect x="327.5" y="371.5" width="16.6" height="8.6" fill="#287e8e"/>
<rect x="343.5" y="371.5" width="8.6" height="8.6" fill="#2a788e"/>
<rect x="351.5" y="371.5" width="8.6" height="8.6" fill="#2d728e"/>
<rect x="359.5" y="371.5" width="16.6" height="8.6" fill="#306c8e"/>
<rect x="375.5" y="371.5" width="8.6" height="8.6" fill="#32658d"/>
<rect x="383.5" y="371.5" width="16.6" height="8.6" fill="#355f8d"/>
<rect x="399.5" y="371.5" width="16.6" height="8.6" fill="#38588c"/>
<rect x="415.5" y="371.5" width="32.6" height="8.6" fill="#3b528a"/>
<rect x="447.5" y="371.5" width="16.6" height="8.6" fill="#3e4b88"/>
<rect x="135.5" y="379.5" width="8.6" height="8.6" fill="#229c88"/>
<rect x="143.5" y="379.5" width="40.6" height="8.6" fill="#22a286"/>
<rect x="183.5" y="379.5" width="24.6" height="8.6" fill="#22a884"/>
<rect x="207.5" y="379.5" width="24.6" height="8.6" fill="#2aae7f"/>
<rect x="231.5" y="379.5" width="16.6" height="8.6" fill="#22a884"/>
<rect x="247.5" y="379.5" width="16.6" height="8.6" fill="#22a286"/>
<rect x="263.5" y="379.5" width="8.6" height="8.6" fill="#229c88"/>
<rect x="271.5" y="379.5" width="16.6" height="8.6" fill="#21978a"/>
<rect x="287.5" y="379.5" width="16.6" height="8.6" fill="#21918c"/>
<rect x="303.5" y="379.5" width="8.6" height="8.6" fill="#238b8c"/>
<rect x="311.5" y="379.5" width="16.6" height="8.6" fill="#26848d"/>
<rect x="327.5" y="379.5" width="8.6" height="8.6" fill="#287e8e"/>
<rect x="335.5" y="379.5" width="8.6" height="8.6" fill="#2a788e"/>
<rect x="343.5" y="379.5" width="16.6" height="8.6" fill="#2d728e"/>
<rect x="359.5" y="379.5" width="8.6" height="8.6" fill="#306c8e"/>
<rect x="367.5" y="379.5" width="8.6" height="8.6" fill="#32658d"/>
<rect x="375.5" y="379.5" width="16.6" height="8.6" fill="#355f8d"/>
<rect x="391.5" y="379.5" width="16.6" height="8.6" fill="#38588c"/>
<rect x="407.5" y="379.5" width="16.6" height="8.6" fill="#3b528a"/>
<rect x="423.5" y="379.5" width="40.6" height="8.6" fill="#3e4b88"/>
<rect x="135.5" y="387.5" width="16.6" height="8.6" fill="#229c88"/>
<rect x="151.5" y="387.5" width="40.6" height="8.6" fill="#22a286"/>
<rect x="191.5" y="387.5" width="48.6" height="8.6" fill="#22a884"/>
<rect x="239.5" y="387.5" width="16.6" height="8.6" fill="#22a286"/>
<rect x="255.5" y="387.5" width="16.6" height="8.6" fill="#229c88"/>
<rect x="271.5" y="387.5" width="8.6" height="8.6" fill="#21978a"/>
<rect x="279.5" y="387.5" width="16.6" height="8.6" fill="#21918c"/>
<rect x="295.5" y="387.5" width="8.6" height="8.6" fill="#238b8c"/>
<rect x="303.5" y="387.5" width="16.6" height="8.6" fill="#26848d"/>
<rect x="319.5" y="387.5" width="8.6" height="8.6" fill="#287e8e"/>
<rect x="327.5" y="387.5" width="16.6" height="8.6" fill="#2a788e"/>
<rect x="343.5" y="387.5" width="8.6" height="8.6" fill="#2d728e"/>
<rect x="351.5" y="387.5" width="8.6" height="8.6" fill="#306c8e"/>
<rect x="359.5" y="387.5" width="16.6" height="8.6" fill="#32658d"/>
<rect x="375.5" y="387.5" width="8.6" height="8.6" fill="#355f8d"/>
<rect x="383.5" y="387.5" width="16.6" height="8.6" fill="#38588c"/>
<rect x="399.5" y="387.5" width="16.6" height="8.6" fill="#3b528a"/>
<rect x="415.5" y="387.5" width="48.6" height="8.6" fill="#3e4b88"/>
<rect x="135.5" y="395.5" width="24.6" height="8.6" fill="#229c88"/>
<rect x="159.5" y="395.5" width="40.6" height="8.6" fill="#22a286"/>
<rect x="199.5" y="395.5" width="32.6" height="8.6" fill="#22a884"/>
<rect x="231.5" y="395.5" width="16.6" height="8.6" fill="#22a286"/>
<rect x="247.5" y="395.5" width="16.6" height="8.6" fill="#229c88"/>
<rect x="263.5" y="395.5" width="16.6" height="8.6" fill="#21978a"/>
<rect x="279.5" y="395.5" width="8.6" height="8.6" fill="#21918c"/>
<rect x="287.5" y="395.5" width="16.6" height="8.6" fill="#238b8c"/>
<rect x="303.5" y="395.5" width="8.6" height="8.6" fill="#26848d"/>
<rect x="311.5" y="395.5" width="16.6" height="8.6" fill="#287e8e"/>
<rect x="327.5" y="395.5" width="8.6" height="8.6" fill="#2a788e"/>
<rect x="335.5" y="395.5" width="16.6" height="8.6" fill="#2d728e"/>
<rect x="351.5" y="395.5" width="8.6" height="8.6" fill="#306c8e"/>
<rect x="359.5" y="395.5" width="8.6" height="8.6" fill="#32658d"/>
<rect x="367.5" y="395.5" width="16.6" height="8.6" fill="#355f8d"/>
<rect x="383.5" y="395.5" width="8.6" height="8.6" fill="#38588c"/>
<rect x="391.5" y="395.5" width="16.6" height="8.6" fill="#3b528a"/>
<rect x="407.5" y="395.5" width="40.6" height="8.6" fill="#3e4b88"/>
<rect x="447.5" y="395.5" width="16.6" height="8.6" fill="#414487"/>
<rect x="135.5" y="403.5" width="32.6" height="8.6" fill="#229c88"/>
<rect x="167.5" y="403.5" width="72.6" height="8.6" fill="#22a286"/>
<rect x="239.5" y="403.5" width="16.6" height="8.6" fill="#229c88"/>
<rect x="255.5" y="403.5" width="16.6" height="8.6" fill="#21978a"/>
<rect x="271.5" y="403.5" width="16.6" height="8.6" fill="#21918c"/>
<rect x="287.5" y="403.5" width="8.6" height="8.6" fill="#238b8c"/>
<rect x="295.5" y="403.5" width="16.6" height="8.6" fill="#26848d"/>
<rect x="311.5" y="403.5" width="8.6" height="8.6" fill="#287e8e"/>
<rect x="319.5" y="403.5" width="16.6" height="8.6" fill="#2a788e"/>
<rect x="335.5" y="403.5" width="8.6" height="8.6" fill="#2d728e"/>
<rect x="343.5" y="403.5" width="8.6" height="8.6" fill="#306c8e"/>
<rect x="351.5" y="403.5" width="16.6" height="8.6" fill="#32658d"/>
<rect x="367.5" y="403.5" width="8.6" height="8.6" fill="#355f8d"/>
<rect x="375.5" y="403.5" width="16.6" height="8.6" fill="#38588c"/>
<rect x="391.5" y="403.5" width="16.6" height="8.6" fill="#3b528a"/>
<rect x="407.5" y="403.5" width="24.6" height="8.6" fill="#3e4b88"/>
<rect x="431.5" y="403.5" width="32.6" height="8.6" fill="#414487"/>
<rect x="135.5" y="411.5" width="48.6" height="8.6" fill="#229c88"/>
<rect x="183.5" y="411.5" width="48.6" height="8.6" fill="#22a286"/>
<rect x="231.5" y="411.5" width="24.6" height="8.6" fill="#229c88"/>
<rect x="255.5" y="411.5" width="8.6" height="8.6" fill="#21978a"/>
<rect x="263.5" y="411.5" width="16.6" height="8.6" fill="#21918c"/>
<rect x="279.5" y="411.5" width="16.6" height="8.6" fill="#238b8c"/>
<rect x="295.5" y="411.5" width="8.6" height="8.6" fill="#26848d"/>
<rect x="303.5" y="411.5" width="16.6" height="8.6" fill="#287e8e"/>
<rect x="319.5" y="411.5" width="8.6" height="8.6" fill="#2a788e"/>
<rect x="327.5" y="411.5" width="16.6" height="8.6" fill="#2d728e"/>
<rect x="343.5" y="411.5" width="8.6" height="8.6" fill="#306c8e"/>
<rect x="351.5" y="411.5" width="8.6" height="8.6" fill="#32658d"/>
<rect x="359.5" y="411.5" width="16.6" height="8.6" fill="#355f8d"/>
<rect x="375.5" y="411.5" width="8.6" height="8.6" fill="#38588c"/>
<rect x="383.5" y="411.5" width="16.6" height="8.6" fill="#3b528a"/>
<rect x="399.5" y="411.5" width="24.6" height="8.6" fill="#3e4b88"/>
<rect x="423.5" y="411.5" width="40.6" height="8.6" fill="#414487"/>
<rect x="135.5" y="419.5" width="48.6" height="8.6" fill="#229c88"/>
<rect x="183.5" y="419.5" width="48.6" height="8.6" fill="#22a286"/>
<rect x="231.5" y="419.5" width="24.6" height="8.6" fill="#229c88"/>
<rect x="255.5" y="419.5" width="8.6" height="8.6" fill="#21978a"/>
<rect x="263.5" y="419.5" width="16.6" height="8.6" fill="#21918c"/>
<rect x="279.5" y="419.5" width="16.6" height="8.6" fill="#238b8c"/>
<rect x="295.5" y="419.5" width="8.6" height="8.6" fill="#26848d"/>
<rect x="303.5" y="419.5" width="16.6" height="8.6" fill="#287e8e"/>
<rect x="319.5" y="419.5" width="8.6" height="8.6" fill="#2a788e"/>
<rect x="327.5" y="419.5" width="16.6" height="8.6" fill="#2d728e"/>
<rect x="343.5" y="419.5" width="8.6" height="8.6" fill="#306c8e"/>
<rect x="351.5" y="419.5" width="8.6" height="8.6" fill="#32658d"/>
<rect x="359.5" y="419.5" width="16.6" height="8.6" fill="#355f8d"/>
<rect x="375.5" y="419.5" width="8.6" height="8.6" fill="#38588c"/>
<rect x="383.5" y="419.5" width="16.6" height="8.6" fill="#3b528a"/>
<rect x="399.5" y="419.5" width="24.6" height="8.6" fill="#3e4b88"/>
<rect x="423.5" y="419.5" width="40.6" height="8.6" fill="#414487"/>
</g>
<g filter="url(#blur07)">
<line x1="257.9" y1="243.4" x2="270.6" y2="237.1" stroke="#21968a" stroke-width="2.7" stroke-opacity="0.5" stroke-linecap="round"/>
<line x1="181.6" y1="317.5" x2="188.5" y2="314.7" stroke="#87d449" stroke-width="2.3" stroke-opacity="0.5" stroke-linecap="round"/>
<line x1="286.8" y1="384.0" x2="294.4" y2="380.5" stroke="#287e8e" stroke-width="3.5" stroke-opacity="0.5" stroke-linecap="round"/>
<line x1="330.6" y1="294.5" x2="346.5" y2="286.6" stroke="#238b8d" stroke-width="2.6" stroke-opacity="0.5" stroke-linecap="round"/>
<line x1="206.4" y1="236.5" x2="216.2" y2="233.1" stroke="#77d053" stroke-width="3.0" stroke-opacity="0.5" stroke-linecap="round"/>
<line x1="348.4" y1="289.5" x2="360.0" y2="283.7" stroke="#4ac16d" stroke-width="2.5" stroke-opacity="0.5" stroke-linecap="round"/>
<line x1="360.3" y1="300.9" x2="370.0" y2="297.2" stroke="#3ebb74" stroke-width="2.6" stroke-opacity="0.5" stroke-linecap="round"/>
<line x1="393.0" y1="357.4" x2="402.0" y2="353.9" stroke="#3b518a" stroke-width="3.4" stroke-opacity="0.5" stroke-linecap="round"/>
<line x1="374.4" y1="271.9" x2="390.4" y2="264.1" stroke="#22a485" stroke-width="3.3" stroke-opacity="0.5" stroke-linecap="round"/>
<line x1="208.6" y1="313.7" x2="215.6" y2="311.1" stroke="#44bf70" stroke-width="3.0" stroke-opacity="0.5" stroke-linecap="round"/>
<line x1="416.3" y1="277.3" x2="429.9" y2="272.0" stroke="#2d728e" stroke-width="2.8" stroke-opacity="0.5" stroke-linecap="round"/>
<line x1="406.1" y1="408.5" x2="417.5" y2="404.2" stroke="#32668d" stroke-width="3.2" stroke-opacity="0.5" stroke-linecap="round"/>
<line x1="350.7" y1="418.6" x2="365.4" y2="412.0" stroke="#277f8d" stroke-width="3.1" stroke-opacity="0.5" stroke-linecap="round"/>
<line x1="171.5" y1="308.0" x2="179.4" y2="304.2" stroke="#6bcc5a" stroke-width="3.3" stroke-opacity="0.5" stroke-linecap="round"/>
<line x1="202.1" y1="263.5" x2="212.9" y2="260.0" stroke="#aedc30" stroke-width="2.8" stroke-opacity="0.5" stroke-linecap="round"/>
<line x1="322.7" y1="395.7" x2="337.9" y2="390.7" stroke="#21958b" stroke-width="2.8" stroke-opacity="0.5" stroke-linecap="round"/>
<line x1="268.0" y1="395.9" x2="283.8" y2="388.4" stroke="#2aad7f" stroke-width="2.5" stroke-opacity="0.5" stroke-linecap="round"/>
<line x1="232.0" y1="312.9" x2="244.2" y2="307.3" stroke="#eae525" stroke-width="2.8" stroke-opacity="0.5" stroke-linecap="round"/>
<line x1="271.0" y1="329.8" x2="287.4" y2="323.8" stroke="#229e87" stroke-width="3.1" stroke-opacity="0.5" stroke-linecap="round"/>
<line x1="359.1" y1="223.2" x2="375.0" y2="217.7" stroke="#31678d" stroke-width="3.3" stroke-opacity="0.5" stroke-linecap="round"/>
<line x1="277.6" y1="295.0" x2="285.2" y2="292.1" stroke="#88d448" stroke-width="2.3" stroke-opacity="0.5" stroke-linecap="round"/>
<line x1="224.9" y1="245.8" x2="234.5" y2="241.0" stroke="#96d73f" stroke-width="2.4" stroke-opacity="0.5" stroke-linecap="round"/>
<line x1="194.1" y1="287.6" x2="201.0" y2="285.4" stroke="#33b47a" stroke-width="2.4" stroke-opacity="0.5" stroke-linecap="round"/>
<line x1="237.4" y1="284.3" x2="247.3" y2="279.5" stroke="#3cba74" stroke-width="3.6" stroke-opacity="0.5" stroke-linecap="round"/>
<line x1="298.7" y1="312.6" x2="305.9" y2="309.2" stroke="#6bcc5a" stroke-width="2.6" stroke-opacity="0.5" stroke-linecap="round"/>
<line x1="402.9" y1="245.6" x2="409.8" y2="243.4" stroke="#31688d" stroke-width="2.4" stroke-opacity="0.5" stroke-linecap="round"/>
<line x1="320.9" y1="217.6" x2="333.1" y2="213.8" stroke="#306b8d" stroke-width="3.2" stroke-opacity="0.5" stroke-linecap="round"/>
<line x1="239.9" y1="288.3" x2="248.3" y2="285.4" stroke="#3cba75" stroke-width="3.3" stroke-opacity="0.5" stroke-linecap="round"/>
<line x1="259.6" y1="258.4" x2="274.8" y2="253.7" stroke="#229f87" stroke-width="3.3" stroke-opacity="0.5" stroke-linecap="round"/>
<line x1="399.9" y1="365.9" x2="408.7" y2="362.4" stroke="#2b768e" stroke-width="2.2" stroke-opacity="0.5" stroke-linecap="round"/>
<line x1="173.0" y1="270.1" x2="182.3" y2="266.7" stroke="#21918c" stroke-width="2.8" stroke-opacity="0.5" stroke-linecap="round"/>
<line x1="433.9" y1="417.5" x2="450.0" y2="410.6" stroke="#355e8d" stroke-width="2.5" stroke-opacity="0.5" stroke-linecap="round"/>
<line x1="221.5" y1="254.5" x2="234.6" y2="250.2" stroke="#25aa82" stroke-width="2.9" stroke-opacity="0.5" stroke-linecap="round"/>
<line x1="352.4" y1="378.3" x2="359.8" y2="375.6" stroke="#365d8c" stroke-width="3.3" stroke-opacity="0.5" stroke-linecap="round"/>
<line x1="380.3" y1="311.4" x2="388.8" y2="308.5" stroke="#23a884" stroke-width="3.3" stroke-opacity="0.5" stroke-linecap="round"/>
<line x1="443.9" y1="294.3" x2="454.8" y2="290.9" stroke="#2f6e8e" stroke-width="2.4" stroke-opacity="0.5" stroke-linecap="round"/>
<line x1="201.5" y1="243.4" x2="217.5" y2="237.9" stroke="#82d34c" stroke-width="3.4" stroke-opacity="0.5" stroke-linecap="round"/>
<line x1="446.3" y1="348.7" x2="456.4" y2="344.7" stroke="#2b778e" stroke-width="2.2" stroke-opacity="0.5" stroke-linecap="round"/>
<line x1="443.6" y1="347.1" x2="455.8" y2="343.3" stroke="#2a798e" stroke-width="3.4" stroke-opacity="0.5" stroke-linecap="round"/>
<line x1="402.1" y1="255.9" x2="411.0" y2="251.9" stroke="#21978a" stroke-width="3.0" stroke-opacity="0.5" stroke-linecap="round"/>
<line x1="239.4" y1="299.2" x2="247.5" y2="296.6" stroke="#dbe326" stroke-width="2.8" stroke-opacity="0.5" stroke-linecap="round"/>
<line x1="332.4" y1="400.1" x2="343.5" y2="396.5" stroke="#34618d" stroke-width="2.9" stroke-opacity="0.5" stroke-linecap="round"/>
<line x1="315.2" y1="215.9" x2="326.0" y2="210.9" stroke="#219989" stroke-width="3.3" stroke-opacity="0.5" stroke-linecap="round"/>
<line x1="214.5" y1="310.5" x2="228.4" y2="305.0" stroke="#ece525" stroke-width="2.9" stroke-opacity="0.5" stroke-linecap="round"/>
<line x1="324.4" y1="375.1" x2="332.0" y2="372.1" stroke="#219b88" stroke-width="2.6" stroke-opacity="0.5" stroke-linecap="round"/>
<line x1="386.6" y1="317.6" x2="399.1" y2="313.2" stroke="#2b768e" stroke-width="2.8" stroke-opacity="0.5" stroke-linecap="round"/>
<line x1="340.8" y1="317.2" x2="352.7" y2="312.8" stroke="#40bc72" stroke-width="2.9" stroke-opacity="0.5" stroke-linecap="round"/>
<line x1="302.2" y1="407.8" x2="316.2" y2="403.2" stroke="#2e6f8e" stroke-width="2.6" stroke-opacity="0.5" stroke-linecap="round"/>
<line x1="325.6" y1="408.2" x2="340.2" y2="401.2" stroke="#21908c" stroke-width="2.8" stroke-opacity="0.5" stroke-linecap="round"/>
<line x1="185.8" y1="262.1" x2="193.1" y2="259.3" stroke="#219c88" stroke-width="3.5" stroke-opacity="0.5" stroke-linecap="round"/>
<line x1="209.3" y1="361.0" x2="222.2" y2="354.8" stroke="#219989" stroke-width="3.6" stroke-opacity="0.5" stroke-linecap="round"/>
<line x1="228.0" y1="410.1" x2="238.6" y2="405.8" stroke="#26838d" stroke-width="3.4" stroke-opacity="0.5" stroke-linecap="round"/>
<line x1="211.3" y1="301.8" x2="223.0" y2="296.7" stroke="#e9e425" stroke-width="2.6" stroke-opacity="0.5" stroke-linecap="round"/>
<line x1="372.3" y1="216.1" x2="384.3" y2="211.0" stroke="#21938b" stroke-width="2.7" stroke-opacity="0.5" stroke-linecap="round"/>
<line x1="344.1" y1="318.6" x2="351.4" y2="316.3" stroke="#25878d" stroke-width="3.6" stroke-opacity="0.5" stroke-linecap="round"/>
<line x1="195.1" y1="267.2" x2="202.1" y2="264.8" stroke="#a4da36" stroke-width="2.4" stroke-opacity="0.5" stroke-linecap="round"/>
<line x1="286.2" y1="401.6" x2="300.8" y2="395.0" stroke="#22a485" stroke-width="3.5" stroke-opacity="0.5" stroke-linecap="round"/>
<line x1="328.8" y1="357.7" x2="335.9" y2="354.1" stroke="#2b758e" stroke-width="2.8" stroke-opacity="0.5" stroke-linecap="round"/>
<line x1="185.8" y1="407.2" x2="199.0" y2="402.6" stroke="#45bf70" stroke-width="3.4" stroke-opacity="0.5" stroke-linecap="round"/>
<line x1="184.1" y1="391.5" x2="195.1" y2="386.7" stroke="#25858d" stroke-width="3.5" stroke-opacity="0.5" stroke-linecap="round"/>
<line x1="241.9" y1="238.9" x2="253.5" y2="233.5" stroke="#78d052" stroke-width="2.4" stroke-opacity="0.5" stroke-linecap="round"/>
<line x1="179.5" y1="254.0" x2="189.0" y2="249.7" stroke="#21938b" stroke-width="2.6" stroke-opacity="0.5" stroke-linecap="round"/>
<line x1="308.5" y1="249.0" x2="318.2" y2="244.1" stroke="#40bc72" stroke-width="2.2" stroke-opacity="0.5" stroke-linecap="round"/>
<line x1="375.4" y1="326.6" x2="383.8" y2="323.2" stroke="#2d728e" stroke-width="2.3" stroke-opacity="0.5" stroke-linecap="round"/>
<line x1="400.0" y1="301.9" x2="411.8" y2="297.9" stroke="#22a485" stroke-width="2.9" stroke-opacity="0.5" stroke-linecap="round"/>
<line x1="362.4" y1="416.3" x2="372.6" y2="412.9" stroke="#3f4988" stroke-width="3.1" stroke-opacity="0.5" stroke-linecap="round"/>
<line x1="281.1" y1="284.3" x2="288.0" y2="281.0" stroke="#7fd24e" stroke-width="3.2" stroke-opacity="0.5" stroke-linecap="round"/>
<line x1="238.4" y1="246.0" x2="245.9" y2="243.4" stroke="#229f87" stroke-width="3.1" stroke-opacity="0.5" stroke-linecap="round"/>
<line x1="245.9" y1="262.4" x2="255.4" y2="258.5" stroke="#a2d938" stroke-width="2.8" stroke-opacity="0.5" stroke-linecap="round"/>
<line x1="240.6" y1="412.1" x2="257.0" y2="405.6" stroke="#3fbc73" stroke-width="3.6" stroke-opacity="0.5" stroke-linecap="round"/>
<line x1="253.8" y1="286.2" x2="260.3" y2="283.4" stroke="#b4dd2c" stroke-width="2.9" stroke-opacity="0.5" stroke-linecap="round"/>
<line x1="222.7" y1="317.0" x2="229.1" y2="314.1" stroke="#ebe525" stroke-width="2.8" stroke-opacity="0.5" stroke-linecap="round"/>
<line x1="177.0" y1="216.7" x2="186.4" y2="212.4" stroke="#26828d" stroke-width="2.9" stroke-opacity="0.5" stroke-linecap="round"/>
<line x1="380.4" y1="348.8" x2="394.5" y2="344.1" stroke="#238b8c" stroke-width="2.7" stroke-opacity="0.5" stroke-linecap="round"/>
<line x1="447.6" y1="243.1" x2="461.6" y2="237.8" stroke="#21948b" stroke-width="3.4" stroke-opacity="0.5" stroke-linecap="round"/>
<line x1="421.0" y1="342.5" x2="435.2" y2="337.6" stroke="#27818d" stroke-width="2.9" stroke-opacity="0.5" stroke-linecap="round"/>
<line x1="309.8" y1="385.7" x2="324.8" y2="380.6" stroke="#2d718e" stroke-width="3.4" stroke-opacity="0.5" stroke-linecap="round"/>
<line x1="361.0" y1="356.2" x2="369.5" y2="351.9" stroke="#21918c" stroke-width="2.7" stroke-opacity="0.5" stroke-linecap="round"/>
<line x1="195.1" y1="385.9" x2="207.4" y2="381.2" stroke="#24898d" stroke-width="3.2" stroke-opacity="0.5" stroke-linecap="round"/>
<line x1="305.4" y1="212.7" x2="320.3" y2="207.4" stroke="#2e6f8e" stroke-width="2.9" stroke-opacity="0.5" stroke-linecap="round"/>
<line x1="354.2" y1="225.7" x2="368.0" y2="219.5" stroke="#21948b" stroke-width="2.6" stroke-opacity="0.5" stroke-linecap="round"/>
<line x1="374.3" y1="254.7" x2="388.8" y2="250.2" stroke="#219a89" stroke-width="2.7" stroke-opacity="0.5" stroke-linecap="round"/>
<line x1="302.5" y1="354.2" x2="316.9" y2="348.7" stroke="#25858d" stroke-width="2.3" stroke-opacity="0.5" stroke-linecap="round"/>
<line x1="207.3" y1="264.8" x2="221.2" y2="258.7" stroke="#2cae7e" stroke-width="2.2" stroke-opacity="0.5" stroke-linecap="round"/>
<line x1="182.4" y1="267.9" x2="195.9" y2="263.0" stroke="#219b89" stroke-width="2.6" stroke-opacity="0.5" stroke-linecap="round"/>
<line x1="313.2" y1="308.6" x2="324.2" y2="303.4" stroke="#228f8c" stroke-width="2.5" stroke-opacity="0.5" stroke-linecap="round"/>
<line x1="445.7" y1="406.7" x2="452.4" y2="404.0" stroke="#472a78" stroke-width="3.6" stroke-opacity="0.5" stroke-linecap="round"/>
<line x1="294.0" y1="267.9" x2="302.9" y2="265.1" stroke="#69cb5b" stroke-width="3.0" stroke-opacity="0.5" stroke-linecap="round"/>
<line x1="205.7" y1="321.0" x2="221.4" y2="313.4" stroke="#3ab876" stroke-width="2.9" stroke-opacity="0.5" stroke-linecap="round"/>
<line x1="419.5" y1="358.3" x2="428.6" y2="355.3" stroke="#2c738e" stroke-width="2.2" stroke-opacity="0.5" stroke-linecap="round"/>
<line x1="166.0" y1="314.3" x2="177.0" y2="309.4" stroke="#64ca5e" stroke-width="2.7" stroke-opacity="0.5" stroke-linecap="round"/>
<line x1="255.7" y1="386.8" x2="262.3" y2="384.4" stroke="#26828d" stroke-width="2.4" stroke-opacity="0.5" stroke-linecap="round"/>
<line x1="430.9" y1="360.3" x2="446.3" y2="353.4" stroke="#2e6e8e" stroke-width="2.8" stroke-opacity="0.5" stroke-linecap="round"/>
<line x1="451.7" y1="334.5" x2="461.8" y2="330.3" stroke="#26848d" stroke-width="2.3" stroke-opacity="0.5" stroke-linecap="round"/>
<line x1="194.2" y1="385.6" x2="203.9" y2="382.5" stroke="#53c467" stroke-width="2.6" stroke-opacity="0.5" stroke-linecap="round"/>
<line x1="311.6" y1="251.5" x2="322.2" y2="248.2" stroke="#277f8d" stroke-width="3.3" stroke-opacity="0.5" stroke-linecap="round"/>
<line x1="346.1" y1="402.0" x2="362.2" y2="395.6" stroke="#38588b" stroke-width="2.3" stroke-opacity="0.5" stroke-linecap="round"/>
<line x1="375.2" y1="305.8" x2="389.5" y2="300.4" stroke="#27ab81" stroke-width="2.3" stroke-opacity="0.5" stroke-linecap="round"/>
<line x1="431.0" y1="238.5" x2="442.2" y2="233.6" stroke="#21938b" stroke-width="3.2" stroke-opacity="0.5" stroke-linecap="round"/>
<line x1="445.2" y1="266.1" x2="458.2" y2="260.3" stroke="#306a8d" stroke-width="2.8" stroke-opacity="0.5" stroke-linecap="round"/>
<line x1="213.0" y1="245.6" x2="221.9" y2="242.8" stroke="#8ed544" stroke-width="2.5" stroke-opacity="0.5" stroke-linecap="round"/>
<line x1="425.1" y1="419.3" x2="435.9" y2="414.1" stroke="#355f8d" stroke-width="2.3" stroke-opacity="0.5" stroke-linecap="round"/>
<line x1="263.1" y1="230.9" x2="271.9" y2="227.0" stroke="#238b8c" stroke-width="3.4" stroke-opacity="0.5" stroke-linecap="round"/>
<line x1="380.2" y1="297.9" x2="390.9" y2="293.6" stroke="#27ab81" stroke-width="2.7" stroke-opacity="0.5" stroke-linecap="round"/>
<line x1="182.8" y1="269.7" x2="198.7" y2="262.1" stroke="#219c88" stroke-width="3.1" stroke-opacity="0.5" stroke-linecap="round"/>
<line x1="412.6" y1="256.9" x2="421.7" y2="252.8" stroke="#21968a" stroke-width="2.8" stroke-opacity="0.5" stroke-linecap="round"/>
<line x1="438.8" y1="388.5" x2="453.6" y2="381.0" stroke="#34628d" stroke-width="3.2" stroke-opacity="0.5" stroke-linecap="round"/>
<line x1="422.1" y1="310.4" x2="434.1" y2="304.3" stroke="#219b88" stroke-width="3.5" stroke-opacity="0.5" stroke-linecap="round"/>
<line x1="401.9" y1="389.9" x2="418.0" y2="382.6" stroke="#306a8d" stroke-width="2.4" stroke-opacity="0.5" stroke-linecap="round"/>
<line x1="314.9" y1="353.9" x2="331.3" y2="348.0" stroke="#287f8d" stroke-width="3.3" stroke-opacity="0.5" stroke-linecap="round"/>
<line x1="296.3" y1="326.7" x2="303.3" y2="324.3" stroke="#60c860" stroke-width="3.5" stroke-opacity="0.5" stroke-linecap="round"/>
<line x1="350.3" y1="275.2" x2="357.9" y2="271.7" stroke="#25858d" stroke-width="3.2" stroke-opacity="0.5" stroke-linecap="round"/>
<line x1="197.2" y1="226.6" x2="209.1" y2="222.0" stroke="#64ca5e" stroke-width="2.5" stroke-opacity="0.5" stroke-linecap="round"/>
<line x1="337.5" y1="214.2" x2="347.0" y2="210.2" stroke="#31678d" stroke-width="3.1" stroke-opacity="0.5" stroke-linecap="round"/>
<line x1="418.6" y1="310.9" x2="427.4" y2="306.9" stroke="#2d708e" stroke-width="3.2" stroke-opacity="0.5" stroke-linecap="round"/>
<line x1="253.2" y1="216.5" x2="264.9" y2="212.2" stroke="#4cc26b" stroke-width="2.6" stroke-opacity="0.5" stroke-linecap="round"/>
<line x1="356.5" y1="404.4" x2="365.0" y2="400.2" stroke="#287e8d" stroke-width="2.8" stroke-opacity="0.5" stroke-linecap="round"/>
<line x1="360.9" y1="253.2" x2="375.7" y2="247.9" stroke="#2d718e" stroke-width="2.5" stroke-opacity="0.5" stroke-linecap="round"/>
<line x1="443.3" y1="276.8" x2="457.9" y2="270.1" stroke="#219989" stroke-width="3.3" stroke-opacity="0.5" stroke-linecap="round"/>
<line x1="249.6" y1="410.0" x2="260.9" y2="404.7" stroke="#2fb17c" stroke-width="2.8" stroke-opacity="0.5" stroke-linecap="round"/>
<line x1="355.9" y1="409.3" x2="363.9" y2="406.0" stroke="#287d8e" stroke-width="3.6" stroke-opacity="0.5" stroke-linecap="round"/>
<line x1="205.7" y1="222.8" x2="212.8" y2="219.8" stroke="#21918c" stroke-width="3.4" stroke-opacity="0.5" stroke-linecap="round"/>
<line x1="375.3" y1="419.5" x2="391.1" y2="412.6" stroke="#2d708e" stroke-width="3.5" stroke-opacity="0.5" stroke-linecap="round"/>
<line x1="379.2" y1="218.6" x2="392.3" y2="213.0" stroke="#21938b" stroke-width="2.7" stroke-opacity="0.5" stroke-linecap="round"/>
<line x1="213.6" y1="212.6" x2="222.8" y2="208.6" stroke="#238d8c" stroke-width="2.4" stroke-opacity="0.5" stroke-linecap="round"/>
<line x1="441.7" y1="255.1" x2="452.1" y2="251.6" stroke="#31688d" stroke-width="2.8" stroke-opacity="0.5" stroke-linecap="round"/>
<line x1="179.1" y1="310.5" x2="189.7" y2="307.1" stroke="#7fd24e" stroke-width="2.7" stroke-opacity="0.5" stroke-linecap="round"/>
<line x1="422.4" y1="218.3" x2="433.3" y2="214.6" stroke="#32668d" stroke-width="2.3" stroke-opacity="0.5" stroke-linecap="round"/>
<line x1="175.0" y1="225.0" x2="190.6" y2="217.9" stroke="#25858d" stroke-width="3.5" stroke-opacity="0.5" stroke-linecap="round"/>
<line x1="262.3" y1="268.6" x2="278.7" y2="262.4" stroke="#91d642" stroke-width="3.2" stroke-opacity="0.5" stroke-linecap="round"/>
<line x1="255.8" y1="269.3" x2="262.5" y2="267.0" stroke="#22a685" stroke-width="3.1" stroke-opacity="0.5" stroke-linecap="round"/>
<line x1="435.7" y1="217.0" x2="444.6" y2="213.4" stroke="#32668d" stroke-width="3.5" stroke-opacity="0.5" stroke-linecap="round"/>
<line x1="275.9" y1="264.2" x2="286.8" y2="259.8" stroke="#219a89" stroke-width="2.5" stroke-opacity="0.5" stroke-linecap="round"/>
<line x1="395.3" y1="365.6" x2="410.5" y2="360.3" stroke="#3e4a88" stroke-width="2.7" stroke-opacity="0.5" stroke-linecap="round"/>
<line x1="256.7" y1="287.3" x2="270.7" y2="280.4" stroke="#afdc2f" stroke-width="3.3" stroke-opacity="0.5" stroke-linecap="round"/>
<line x1="236.0" y1="225.5" x2="242.8" y2="222.8" stroke="#68cb5b" stroke-width="3.6" stroke-opacity="0.5" stroke-linecap="round"/>
<line x1="418.6" y1="417.5" x2="427.5" y2="413.1" stroke="#34618d" stroke-width="2.9" stroke-opacity="0.5" stroke-linecap="round"/>
<line x1="368.7" y1="305.0" x2="377.5" y2="301.3" stroke="#26838d" stroke-width="3.1" stroke-opacity="0.5" stroke-linecap="round"/>
<line x1="379.7" y1="388.2" x2="392.6" y2="381.9" stroke="#404788" stroke-width="2.6" stroke-opacity="0.5" stroke-linecap="round"/>
<line x1="327.7" y1="289.6" x2="341.4" y2="283.2" stroke="#5cc762" stroke-width="2.5" stroke-opacity="0.5" stroke-linecap="round"/>
<line x1="209.0" y1="395.9" x2="221.2" y2="390.5" stroke="#52c468" stroke-width="3.6" stroke-opacity="0.5" stroke-linecap="round"/>
<line x1="310.6" y1="260.1" x2="325.5" y2="254.6" stroke="#24888d" stroke-width="2.3" stroke-opacity="0.5" stroke-linecap="round"/>
<line x1="301.3" y1="382.4" x2="316.7" y2="377.4" stroke="#22a386" stroke-width="2.6" stroke-opacity="0.5" stroke-linecap="round"/>
<line x1="199.2" y1="251.4" x2="215.7" y2="245.0" stroke="#22a286" stroke-width="2.7" stroke-opacity="0.5" stroke-linecap="round"/>
<line x1="413.6" y1="305.4" x2="422.9" y2="302.2" stroke="#2c738e" stroke-width="2.3" stroke-opacity="0.5" stroke-linecap="round"/>
<line x1="336.1" y1="340.9" x2="344.7" y2="337.2" stroke="#22a685" stroke-width="2.5" stroke-opacity="0.5" stroke-linecap="round"/>
<line x1="238.2" y1="336.7" x2="251.0" y2="330.7" stroke="#b9de28" stroke-width="2.7" stroke-opacity="0.5" stroke-linecap="round"/>
<line x1="359.7" y1="250.5" x2="369.1" y2="246.1" stroke="#2e708e" stroke-width="3.0" stroke-opacity="0.5" stroke-linecap="round"/>
<line x1="183.2" y1="233.1" x2="193.7" y2="228.9" stroke="#238d8c" stroke-width="2.3" stroke-opacity="0.5" stroke-linecap="round"/>
<line x1="212.0" y1="356.6" x2="222.5" y2="351.9" stroke="#85d34a" stroke-width="3.5" stroke-opacity="0.5" stroke-linecap="round"/>
<line x1="254.6" y1="329.8" x2="264.7" y2="325.6" stroke="#26ab82" stroke-width="3.6" stroke-opacity="0.5" stroke-linecap="round"/>
<line x1="269.4" y1="253.0" x2="283.0" y2="246.7" stroke="#72ce55" stroke-width="3.5" stroke-opacity="0.5" stroke-linecap="round"/>
<line x1="286.6" y1="382.6" x2="297.5" y2="379.1" stroke="#24a983" stroke-width="2.4" stroke-opacity="0.5" stroke-linecap="round"/>
<line x1="169.3" y1="326.7" x2="182.6" y2="322.4" stroke="#65ca5d" stroke-width="3.1" stroke-opacity="0.5" stroke-linecap="round"/>
<line x1="271.4" y1="316.9" x2="279.3" y2="313.4" stroke="#22a485" stroke-width="3.5" stroke-opacity="0.5" stroke-linecap="round"/>
<line x1="196.2" y1="314.0" x2="211.4" y2="309.3" stroke="#c9e026" stroke-width="2.4" stroke-opacity="0.5" stroke-linecap="round"/>
<line x1="435.7" y1="414.9" x2="446.7" y2="409.4" stroke="#472978" stroke-width="2.7" stroke-opacity="0.5" stroke-linecap="round"/>
<line x1="424.5" y1="341.0" x2="439.0" y2="334.1" stroke="#3a538a" stroke-width="2.5" stroke-opacity="0.5" stroke-linecap="round"/>
<line x1="281.1" y1="388.0" x2="295.7" y2="381.2" stroke="#24aa83" stroke-width="2.8" stroke-opacity="0.5" stroke-linecap="round"/>
<line x1="313.6" y1="291.8" x2="321.2" y2="288.3" stroke="#21918c" stroke-width="3.5" stroke-opacity="0.5" stroke-linecap="round"/>
<line x1="176.8" y1="329.0" x2="190.5" y2="322.1" stroke="#21968a" stroke-width="2.4" stroke-opacity="0.5" stroke-linecap="round"/>
<line x1="337.1" y1="326.4" x2="349.8" y2="320.8" stroke="#2bae7e" stroke-width="3.0" stroke-opacity="0.5" stroke-linecap="round"/>
<line x1="287.2" y1="349.0" x2="298.2" y2="344.5" stroke="#51c368" stroke-width="3.1" stroke-opacity="0.5" stroke-linecap="round"/>
<line x1="305.5" y1="260.9" x2="320.0" y2="255.9" stroke="#57c565" stroke-width="2.5" stroke-opacity="0.5" stroke-linecap="round"/>
<line x1="300.8" y1="234.3" x2="308.6" y2="231.0" stroke="#28ac80" stroke-width="2.8" stroke-opacity="0.5" stroke-linecap="round"/>
<line x1="311.4" y1="220.5" x2="324.0" y2="214.3" stroke="#2d728e" stroke-width="3.3" stroke-opacity="0.5" stroke-linecap="round"/>
<line x1="311.8" y1="223.3" x2="323.3" y2="218.3" stroke="#2c738e" stroke-width="2.4" stroke-opacity="0.5" stroke-linecap="round"/>
<line x1="411.0" y1="419.2" x2="425.2" y2="414.3" stroke="#33638d" stroke-width="3.6" stroke-opacity="0.5" stroke-linecap="round"/>
<line x1="306.2" y1="411.0" x2="321.6" y2="403.7" stroke="#2f6c8e" stroke-width="3.5" stroke-opacity="0.5" stroke-linecap="round"/>
<line x1="183.8" y1="285.0" x2="197.6" y2="278.4" stroke="#22a386" stroke-width="2.6" stroke-opacity="0.5" stroke-linecap="round"/>
<line x1="399.1" y1="241.9" x2="411.0" y2="238.0" stroke="#21948b" stroke-width="2.6" stroke-opacity="0.5" stroke-linecap="round"/>
<line x1="310.2" y1="278.4" x2="316.9" y2="275.2" stroke="#61c95f" stroke-width="3.5" stroke-opacity="0.5" stroke-linecap="round"/>
<line x1="360.1" y1="398.2" x2="368.4" y2="395.3" stroke="#287e8e" stroke-width="2.9" stroke-opacity="0.5" stroke-linecap="round"/>
<line x1="347.6" y1="286.8" x2="363.1" y2="280.8" stroke="#25858d" stroke-width="3.4" stroke-opacity="0.5" stroke-linecap="round"/>
<line x1="195.0" y1="418.5" x2="207.8" y2="413.1" stroke="#27828d" stroke-width="2.6" stroke-opacity="0.5" stroke-linecap="round"/>
<line x1="449.3" y1="332.1" x2="459.6" y2="328.5" stroke="#25868d" stroke-width="2.4" stroke-opacity="0.5" stroke-linecap="round"/>
<line x1="378.4" y1="222.0" x2="393.0" y2="215.4" stroke="#32668d" stroke-width="3.6" stroke-opacity="0.5" stroke-linecap="round"/>
<line x1="333.1" y1="350.0" x2="342.4" y2="345.3" stroke="#22a286" stroke-width="2.4" stroke-opacity="0.5" stroke-linecap="round"/>
<line x1="341.8" y1="301.9" x2="353.8" y2="298.0" stroke="#4ac16d" stroke-width="2.5" stroke-opacity="0.5" stroke-linecap="round"/>
<line x1="352.4" y1="216.6" x2="358.9" y2="213.8" stroke="#21948b" stroke-width="2.7" stroke-opacity="0.5" stroke-linecap="round"/>
<line x1="229.4" y1="333.4" x2="241.6" y2="327.7" stroke="#37b678" stroke-width="2.9" stroke-opacity="0.5" stroke-linecap="round"/>
<line x1="203.7" y1="406.8" x2="212.4" y2="402.6" stroke="#49c16d" stroke-width="3.1" stroke-opacity="0.5" stroke-linecap="round"/>
<line x1="415.1" y1="374.7" x2="425.5" y2="370.0" stroke="#2f6c8e" stroke-width="3.1" stroke-opacity="0.5" stroke-linecap="round"/>
<line x1="326.4" y1="284.9" x2="339.4" y2="279.5" stroke="#228d8c" stroke-width="3.2" stroke-opacity="0.5" stroke-linecap="round"/>
<line x1="236.3" y1="399.9" x2="243.3" y2="397.2" stroke="#4ac16d" stroke-width="2.5" stroke-opacity="0.5" stroke-linecap="round"/>
<line x1="181.8" y1="374.0" x2="188.4" y2="371.4" stroke="#248a8d" stroke-width="2.4" stroke-opacity="0.5" stroke-linecap="round"/>
<line x1="222.3" y1="338.5" x2="234.0" y2="334.1" stroke="#32b37a" stroke-width="2.4" stroke-opacity="0.5" stroke-linecap="round"/>
<line x1="253.8" y1="274.5" x2="261.0" y2="272.1" stroke="#24a983" stroke-width="3.2" stroke-opacity="0.5" stroke-linecap="round"/>
<line x1="166.8" y1="387.6" x2="180.9" y2="381.9" stroke="#26838d" stroke-width="2.8" stroke-opacity="0.5" stroke-linecap="round"/>
<line x1="229.8" y1="233.9" x2="238.4" y2="229.6" stroke="#78d052" stroke-width="3.2" stroke-opacity="0.5" stroke-linecap="round"/>
<line x1="364.5" y1="387.8" x2="378.0" y2="381.7" stroke="#3c508a" stroke-width="2.8" stroke-opacity="0.5" stroke-linecap="round"/>
<line x1="391.3" y1="320.8" x2="400.6" y2="317.3" stroke="#2d718e" stroke-width="2.5" stroke-opacity="0.5" stroke-linecap="round"/>
<line x1="417.6" y1="215.2" x2="426.5" y2="211.1" stroke="#32668d" stroke-width="3.5" stroke-opacity="0.5" stroke-linecap="round"/>
<line x1="379.1" y1="280.0" x2="394.4" y2="273.3" stroke="#23a983" stroke-width="3.5" stroke-opacity="0.5" stroke-linecap="round"/>
<line x1="346.0" y1="356.1" x2="359.7" y2="351.9" stroke="#219989" stroke-width="3.4" stroke-opacity="0.5" stroke-linecap="round"/>
<line x1="365.2" y1="390.4" x2="376.3" y2="386.4" stroke="#3c4f89" stroke-width="2.6" stroke-opacity="0.5" stroke-linecap="round"/>
<line x1="225.8" y1="341.5" x2="233.3" y2="339.1" stroke="#bcdf27" stroke-width="2.2" stroke-opacity="0.5" stroke-linecap="round"/>
<line x1="195.6" y1="405.2" x2="205.4" y2="400.6" stroke="#48c06d" stroke-width="2.3" stroke-opacity="0.5" stroke-linecap="round"/>
<line x1="363.8" y1="343.8" x2="377.6" y2="338.9" stroke="#21978a" stroke-width="3.0" stroke-opacity="0.5" stroke-linecap="round"/>
<line x1="269.3" y1="382.1" x2="284.5" y2="377.1" stroke="#3ebb73" stroke-width="3.4" stroke-opacity="0.5" stroke-linecap="round"/>
<line x1="427.4" y1="408.4" x2="434.9" y2="405.0" stroke="#35608d" stroke-width="2.2" stroke-opacity="0.5" stroke-linecap="round"/>
<line x1="408.3" y1="380.9" x2="421.5" y2="376.4" stroke="#433b82" stroke-width="2.6" stroke-opacity="0.5" stroke-linecap="round"/>
<line x1="193.7" y1="232.4" x2="207.6" y2="225.9" stroke="#67cb5c" stroke-width="2.8" stroke-opacity="0.5" stroke-linecap="round"/>
<line x1="171.0" y1="265.4" x2="180.5" y2="262.0" stroke="#61c95f" stroke-width="2.6" stroke-opacity="0.5" stroke-linecap="round"/>
<line x1="441.7" y1="316.8" x2="457.0" y2="311.0" stroke="#21938b" stroke-width="2.8" stroke-opacity="0.5" stroke-linecap="round"/>
<line x1="290.3" y1="372.8" x2="300.4" y2="369.1" stroke="#26828d" stroke-width="2.5" stroke-opacity="0.5" stroke-linecap="round"/>
<line x1="412.5" y1="230.9" x2="426.9" y2="224.1" stroke="#21938b" stroke-width="2.5" stroke-opacity="0.5" stroke-linecap="round"/>
<line x1="383.7" y1="415.4" x2="390.3" y2="412.7" stroke="#2f6d8e" stroke-width="3.3" stroke-opacity="0.5" stroke-linecap="round"/>
<line x1="218.0" y1="314.9" x2="228.2" y2="311.4" stroke="#eae525" stroke-width="3.5" stroke-opacity="0.5" stroke-linecap="round"/>
<line x1="246.4" y1="256.7" x2="260.1" y2="251.2" stroke="#96d73f" stroke-width="3.1" stroke-opacity="0.5" stroke-linecap="round"/>
<line x1="188.2" y1="375.9" x2="202.1" y2="371.1" stroke="#238b8c" stroke-width="2.7" stroke-opacity="0.5" stroke-linecap="round"/>
<line x1="280.2" y1="294.1" x2="295.2" y2="286.7" stroke="#229e88" stroke-width="2.2" stroke-opacity="0.5" stroke-linecap="round"/>
<line x1="224.2" y1="266.7" x2="239.8" y2="260.4" stroke="#c7e026" stroke-width="3.4" stroke-opacity="0.5" stroke-linecap="round"/>
<line x1="232.0" y1="307.9" x2="244.1" y2="303.6" stroke="#4ac16c" stroke-width="3.1" stroke-opacity="0.5" stroke-linecap="round"/>
<line x1="265.0" y1="279.9" x2="273.3" y2="277.2" stroke="#22a485" stroke-width="3.2" stroke-opacity="0.5" stroke-linecap="round"/>
<line x1="213.7" y1="303.3" x2="228.1" y2="297.7" stroke="#ebe525" stroke-width="2.8" stroke-opacity="0.5" stroke-linecap="round"/>
<line x1="419.0" y1="261.5" x2="427.4" y2="257.8" stroke="#306a8d" stroke-width="3.4" stroke-opacity="0.5" stroke-linecap="round"/>
<line x1="209.4" y1="244.4" x2="218.3" y2="240.5" stroke="#229f87" stroke-width="2.4" stroke-opacity="0.5" stroke-linecap="round"/>
<line x1="259.2" y1="251.4" x2="275.8" y2="245.4" stroke="#7bd150" stroke-width="3.5" stroke-opacity="0.5" stroke-linecap="round"/>
<line x1="194.2" y1="291.9" x2="211.0" y2="286.1" stroke="#33b47a" stroke-width="2.8" stroke-opacity="0.5" stroke-linecap="round"/>
<line x1="221.3" y1="344.7" x2="228.7" y2="341.3" stroke="#afdc2f" stroke-width="2.2" stroke-opacity="0.5" stroke-linecap="round"/>
<line x1="279.5" y1="376.5" x2="293.1" y2="371.1" stroke="#25868d" stroke-width="2.8" stroke-opacity="0.5" stroke-linecap="round"/>
<line x1="205.7" y1="337.6" x2="216.5" y2="333.7" stroke="#29ac80" stroke-width="2.8" stroke-opacity="0.5" stroke-linecap="round"/>
<line x1="329.7" y1="367.8" x2="340.3" y2="362.9" stroke="#2e708e" stroke-width="3.4" stroke-opacity="0.5" stroke-linecap="round"/>
<line x1="387.2" y1="357.6" x2="402.5" y2="352.0" stroke="#3a548b" stroke-width="2.8" stroke-opacity="0.5" stroke-linecap="round"/>
<line x1="254.8" y1="342.7" x2="262.3" y2="339.6" stroke="#22a286" stroke-width="3.2" stroke-opacity="0.5" stroke-linecap="round"/>
<line x1="345.7" y1="264.0" x2="356.5" y2="259.6" stroke="#277f8d" stroke-width="2.8" stroke-opacity="0.5" stroke-linecap="round"/>
<line x1="358.8" y1="405.5" x2="367.2" y2="402.3" stroke="#3c4f89" stroke-width="2.7" stroke-opacity="0.5" stroke-linecap="round"/>
<line x1="305.6" y1="414.7" x2="312.5" y2="412.0" stroke="#21988a" stroke-width="3.3" stroke-opacity="0.5" stroke-linecap="round"/>
<line x1="434.9" y1="320.0" x2="442.5" y2="317.1" stroke="#32658d" stroke-width="3.2" stroke-opacity="0.5" stroke-linecap="round"/>
<line x1="312.0" y1="345.0" x2="327.0" y2="339.0" stroke="#2db07d" stroke-width="3.5" stroke-opacity="0.5" stroke-linecap="round"/>
<line x1="225.3" y1="354.3" x2="236.0" y2="350.6" stroke="#97d73e" stroke-width="3.6" stroke-opacity="0.5" stroke-linecap="round"/>
<line x1="267.0" y1="223.8" x2="276.2" y2="219.9" stroke="#47c06e" stroke-width="2.8" stroke-opacity="0.5" stroke-linecap="round"/>
<line x1="285.7" y1="357.2" x2="295.6" y2="352.8" stroke="#48c06e" stroke-width="3.2" stroke-opacity="0.5" stroke-linecap="round"/>
<line x1="434.8" y1="321.6" x2="443.7" y2="318.6" stroke="#21918c" stroke-width="2.5" stroke-opacity="0.5" stroke-linecap="round"/>
<line x1="202.1" y1="373.5" x2="217.0" y2="367.9" stroke="#64ca5e" stroke-width="3.0" stroke-opacity="0.5" stroke-linecap="round"/>
<line x1="229.9" y1="412.5" x2="240.0" y2="408.7" stroke="#27828d" stroke-width="3.3" stroke-opacity="0.5" stroke-linecap="round"/>
<line x1="299.3" y1="273.2" x2="311.1" y2="267.6" stroke="#21928c" stroke-width="2.7" stroke-opacity="0.5" stroke-linecap="round"/>
<line x1="409.1" y1="267.6" x2="419.3" y2="263.0" stroke="#219a89" stroke-width="2.5" stroke-opacity="0.5" stroke-linecap="round"/>
<line x1="165.8" y1="362.1" x2="175.0" y2="357.9" stroke="#4fc36a" stroke-width="2.9" stroke-opacity="0.5" stroke-linecap="round"/>
<line x1="288.0" y1="344.6" x2="301.1" y2="338.9" stroke="#238b8d" stroke-width="3.4" stroke-opacity="0.5" stroke-linecap="round"/>
<line x1="181.4" y1="384.2" x2="197.4" y2="378.6" stroke="#4ec26a" stroke-width="3.4" stroke-opacity="0.5" stroke-linecap="round"/>
<line x1="346.7" y1="215.1" x2="353.5" y2="213.0" stroke="#31678d" stroke-width="2.6" stroke-opacity="0.5" stroke-linecap="round"/>
<line x1="194.1" y1="241.7" x2="203.2" y2="238.5" stroke="#74cf54" stroke-width="2.4" stroke-opacity="0.5" stroke-linecap="round"/>
<line x1="424.5" y1="376.7" x2="432.9" y2="373.9" stroke="#44367f" stroke-width="3.3" stroke-opacity="0.5" stroke-linecap="round"/>
<line x1="356.8" y1="397.9" x2="371.7" y2="392.9" stroke="#27808d" stroke-width="3.2" stroke-opacity="0.5" stroke-linecap="round"/>
<line x1="317.3" y1="366.3" x2="328.6" y2="362.6" stroke="#2a778e" stroke-width="2.6" stroke-opacity="0.5" stroke-linecap="round"/>
<line x1="232.2" y1="241.0" x2="243.3" y2="235.5" stroke="#84d34b" stroke-width="2.4" stroke-opacity="0.5" stroke-linecap="round"/>
<line x1="306.0" y1="315.6" x2="318.3" y2="311.5" stroke="#60c860" stroke-width="3.4" stroke-opacity="0.5" stroke-linecap="round"/>
<line x1="299.3" y1="329.0" x2="312.9" y2="324.4" stroke="#58c664" stroke-width="2.8" stroke-opacity="0.5" stroke-linecap="round"/>
<line x1="440.7" y1="227.7" x2="453.8" y2="222.7" stroke="#21938b" stroke-width="3.1" stroke-opacity="0.5" stroke-linecap="round"/>
<line x1="360.9" y1="405.8" x2="371.1" y2="402.6" stroke="#3d4d89" stroke-width="2.9" stroke-opacity="0.5" stroke-linecap="round"/>
<line x1="422.6" y1="219.1" x2="436.5" y2="213.8" stroke="#21938b" stroke-width="3.4" stroke-opacity="0.5" stroke-linecap="round"/>
<line x1="270.1" y1="310.7" x2="282.2" y2="306.5" stroke="#a0d939" stroke-width="2.8" stroke-opacity="0.5" stroke-linecap="round"/>
<line x1="286.2" y1="327.2" x2="300.9" y2="320.7" stroke="#21958b" stroke-width="2.8" stroke-opacity="0.5" stroke-linecap="round"/>
<line x1="309.6" y1="268.5" x2="321.6" y2="264.8" stroke="#238c8c" stroke-width="3.3" stroke-opacity="0.5" stroke-linecap="round"/>
<line x1="260.0" y1="278.0" x2="269.6" y2="274.2" stroke="#22a784" stroke-width="3.3" stroke-opacity="0.5" stroke-linecap="round"/>
<line x1="176.5" y1="362.3" x2="192.1" y2="356.2" stroke="#56c566" stroke-width="2.6" stroke-opacity="0.5" stroke-linecap="round"/>
<line x1="166.8" y1="251.5" x2="182.8" y2="245.4" stroke="#248a8d" stroke-width="3.3" stroke-opacity="0.5" stroke-linecap="round"/>
<line x1="426.1" y1="339.2" x2="439.0" y2="334.4" stroke="#3a558b" stroke-width="3.0" stroke-opacity="0.5" stroke-linecap="round"/>
<line x1="360.4" y1="256.2" x2="373.7" y2="250.7" stroke="#2c738e" stroke-width="2.3" stroke-opacity="0.5" stroke-linecap="round"/>
<line x1="217.0" y1="219.7" x2="231.8" y2="214.9" stroke="#21918c" stroke-width="2.7" stroke-opacity="0.5" stroke-linecap="round"/>
<line x1="401.1" y1="375.6" x2="413.1" y2="370.2" stroke="#2d718e" stroke-width="2.8" stroke-opacity="0.5" stroke-linecap="round"/>
<line x1="256.4" y1="301.6" x2="269.8" y2="297.3" stroke="#bade28" stroke-width="3.0" stroke-opacity="0.5" stroke-linecap="round"/>
<line x1="176.3" y1="236.7" x2="191.1" y2="231.0" stroke="#238a8d" stroke-width="2.8" stroke-opacity="0.5" stroke-linecap="round"/>
<line x1="169.1" y1="292.5" x2="181.9" y2="288.4" stroke="#21928c" stroke-width="2.9" stroke-opacity="0.5" stroke-linecap="round"/>
<line x1="283.4" y1="233.2" x2="296.1" y2="227.3" stroke="#43bf70" stroke-width="2.2" stroke-opacity="0.5" stroke-linecap="round"/>
<line x1="166.4" y1="354.2" x2="174.3" y2="351.7" stroke="#55c566" stroke-width="3.4" stroke-opacity="0.5" stroke-linecap="round"/>
<line x1="202.0" y1="215.7" x2="215.6" y2="209.5" stroke="#238c8c" stroke-width="2.5" stroke-opacity="0.5" stroke-linecap="round"/>
<line x1="179.4" y1="373.0" x2="193.5" y2="368.3" stroke="#24898d" stroke-width="2.3" stroke-opacity="0.5" stroke-linecap="round"/>
<line x1="345.4" y1="359.5" x2="356.9" y2="355.9" stroke="#21978a" stroke-width="3.6" stroke-opacity="0.5" stroke-linecap="round"/>
<line x1="370.8" y1="214.4" x2="377.5" y2="211.9" stroke="#32678d" stroke-width="2.3" stroke-opacity="0.5" stroke-linecap="round"/>
<line x1="254.3" y1="363.7" x2="262.7" y2="360.9" stroke="#63c95e" stroke-width="2.3" stroke-opacity="0.5" stroke-linecap="round"/>
<line x1="270.5" y1="331.6" x2="281.6" y2="327.5" stroke="#84d34a" stroke-width="3.3" stroke-opacity="0.5" stroke-linecap="round"/>
<line x1="269.3" y1="346.1" x2="282.1" y2="340.7" stroke="#6fcd57" stroke-width="3.3" stroke-opacity="0.5" stroke-linecap="round"/>
<line x1="436.2" y1="375.2" x2="448.3" y2="369.8" stroke="#31678d" stroke-width="3.6" stroke-opacity="0.5" stroke-linecap="round"/>
<line x1="366.8" y1="384.1" x2="376.8" y2="380.3" stroke="#3c508a" stroke-width="3.4" stroke-opacity="0.5" stroke-linecap="round"/>
<line x1="337.5" y1="276.2" x2="348.7" y2="272.5" stroke="#45bf6f" stroke-width="3.2" stroke-opacity="0.5" stroke-linecap="round"/>
<line x1="337.7" y1="398.4" x2="352.2" y2="391.9" stroke="#238b8c" stroke-width="2.6" stroke-opacity="0.5" stroke-linecap="round"/>
<line x1="286.3" y1="334.0" x2="301.4" y2="329.1" stroke="#67cb5c" stroke-width="3.4" stroke-opacity="0.5" stroke-linecap="round"/>
<line x1="398.0" y1="392.4" x2="410.1" y2="386.9" stroke="#433a82" stroke-width="3.3" stroke-opacity="0.5" stroke-linecap="round"/>
<line x1="361.5" y1="402.1" x2="371.2" y2="397.3" stroke="#3d4e89" stroke-width="3.3" stroke-opacity="0.5" stroke-linecap="round"/>
<line x1="222.5" y1="368.0" x2="238.2" y2="360.8" stroke="#219989" stroke-width="3.1" stroke-opacity="0.5" stroke-linecap="round"/>
<line x1="298.5" y1="255.0" x2="307.8" y2="251.7" stroke="#248a8d" stroke-width="2.8" stroke-opacity="0.5" stroke-linecap="round"/>
<line x1="190.2" y1="379.8" x2="204.2" y2="373.3" stroke="#238a8d" stroke-width="3.5" stroke-opacity="0.5" stroke-linecap="round"/>
<line x1="419.0" y1="320.5" x2="430.4" y2="316.1" stroke="#21958b" stroke-width="2.5" stroke-opacity="0.5" stroke-linecap="round"/>
<line x1="216.9" y1="357.8" x2="227.1" y2="353.8" stroke="#86d349" stroke-width="2.9" stroke-opacity="0.5" stroke-linecap="round"/>
<line x1="207.8" y1="221.3" x2="224.3" y2="214.2" stroke="#64ca5e" stroke-width="3.1" stroke-opacity="0.5" stroke-linecap="round"/>
<line x1="391.0" y1="244.5" x2="403.4" y2="239.1" stroke="#31698d" stroke-width="2.2" stroke-opacity="0.5" stroke-linecap="round"/>
<line x1="174.6" y1="418.0" x2="189.9" y2="411.8" stroke="#277f8d" stroke-width="2.6" stroke-opacity="0.5" stroke-linecap="round"/>
<line x1="388.6" y1="300.6" x2="405.1" y2="294.8" stroke="#287d8e" stroke-width="3.5" stroke-opacity="0.5" stroke-linecap="round"/>
<line x1="237.9" y1="219.9" x2="246.2" y2="216.0" stroke="#5fc861" stroke-width="2.3" stroke-opacity="0.5" stroke-linecap="round"/>
<line x1="325.0" y1="393.1" x2="336.5" y2="389.5" stroke="#31678d" stroke-width="2.3" stroke-opacity="0.5" stroke-linecap="round"/>
<line x1="336.6" y1="294.7" x2="344.6" y2="292.2" stroke="#52c468" stroke-width="3.0" stroke-opacity="0.5" stroke-linecap="round"/>
<line x1="348.9" y1="410.9" x2="362.1" y2="405.3" stroke="#27818d" stroke-width="2.4" stroke-opacity="0.5" stroke-linecap="round"/>
<line x1="442.2" y1="418.3" x2="450.6" y2="414.0" stroke="#365d8d" stroke-width="2.7" stroke-opacity="0.5" stroke-linecap="round"/>
<line x1="424.1" y1="400.2" x2="438.6" y2="392.9" stroke="#462e7b" stroke-width="3.2" stroke-opacity="0.5" stroke-linecap="round"/>
<line x1="350.6" y1="417.0" x2="357.5" y2="413.7" stroke="#3b518a" stroke-width="3.5" stroke-opacity="0.5" stroke-linecap="round"/>
<line x1="359.3" y1="274.1" x2="372.0" y2="269.7" stroke="#27ab81" stroke-width="2.7" stroke-opacity="0.5" stroke-linecap="round"/>
<line x1="238.8" y1="237.8" x2="249.9" y2="232.6" stroke="#78d052" stroke-width="2.4" stroke-opacity="0.5" stroke-linecap="round"/>
<line x1="359.5" y1="214.6" x2="373.0" y2="208.3" stroke="#21938b" stroke-width="3.5" stroke-opacity="0.5" stroke-linecap="round"/>
<line x1="228.3" y1="406.3" x2="244.0" y2="401.1" stroke="#4ac16d" stroke-width="2.8" stroke-opacity="0.5" stroke-linecap="round"/>
<line x1="192.8" y1="405.2" x2="208.0" y2="399.4" stroke="#48c06e" stroke-width="2.7" stroke-opacity="0.5" stroke-linecap="round"/>
<line x1="401.2" y1="311.3" x2="413.8" y2="305.3" stroke="#22a186" stroke-width="2.3" stroke-opacity="0.5" stroke-linecap="round"/>
<line x1="369.8" y1="327.1" x2="378.0" y2="324.4" stroke="#22a087" stroke-width="2.8" stroke-opacity="0.5" stroke-linecap="round"/>
<line x1="209.7" y1="268.4" x2="224.6" y2="261.9" stroke="#bfdf26" stroke-width="2.9" stroke-opacity="0.5" stroke-linecap="round"/>
<line x1="256.3" y1="399.9" x2="264.2" y2="397.4" stroke="#3dba74" stroke-width="3.5" stroke-opacity="0.5" stroke-linecap="round"/>
<line x1="356.8" y1="255.9" x2="368.0" y2="250.9" stroke="#22a087" stroke-width="2.5" stroke-opacity="0.5" stroke-linecap="round"/>
<line x1="269.5" y1="418.1" x2="286.7" y2="412.7" stroke="#22a884" stroke-width="2.6" stroke-opacity="0.5" stroke-linecap="round"/>
<line x1="422.2" y1="224.0" x2="435.9" y2="217.8" stroke="#32668d" stroke-width="2.2" stroke-opacity="0.5" stroke-linecap="round"/>
<line x1="396.6" y1="282.9" x2="404.2" y2="279.0" stroke="#297b8e" stroke-width="2.9" stroke-opacity="0.5" stroke-linecap="round"/>
<line x1="218.3" y1="302.5" x2="233.8" y2="295.4" stroke="#4ec26a" stroke-width="2.4" stroke-opacity="0.5" stroke-linecap="round"/>
<line x1="216.7" y1="372.3" x2="230.1" y2="366.0" stroke="#6dcd58" stroke-width="2.3" stroke-opacity="0.5" stroke-linecap="round"/>
<line x1="339.7" y1="315.1" x2="348.7" y2="310.8" stroke="#27818d" stroke-width="3.2" stroke-opacity="0.5" stroke-linecap="round"/>
<line x1="397.9" y1="333.3" x2="406.2" y2="329.2" stroke="#33638d" stroke-width="2.8" stroke-opacity="0.5" stroke-linecap="round"/>
<line x1="372.1" y1="223.5" x2="386.7" y2="217.1" stroke="#32678d" stroke-width="3.4" stroke-opacity="0.5" stroke-linecap="round"/>
<line x1="306.5" y1="215.2" x2="322.2" y2="208.8" stroke="#2d708e" stroke-width="2.6" stroke-opacity="0.5" stroke-linecap="round"/>
<line x1="218.4" y1="385.0" x2="228.4" y2="380.2" stroke="#5fc861" stroke-width="3.0" stroke-opacity="0.5" stroke-linecap="round"/>
<line x1="166.3" y1="320.1" x2="177.4" y2="315.7" stroke="#63c95e" stroke-width="3.2" stroke-opacity="0.5" stroke-linecap="round"/>
<line x1="399.3" y1="392.0" x2="409.2" y2="388.4" stroke="#306b8d" stroke-width="3.3" stroke-opacity="0.5" stroke-linecap="round"/>
<line x1="182.6" y1="393.5" x2="198.8" y2="387.0" stroke="#25858d" stroke-width="2.9" stroke-opacity="0.5" stroke-linecap="round"/>
<line x1="319.2" y1="216.3" x2="335.2" y2="208.9" stroke="#21988a" stroke-width="2.3" stroke-opacity="0.5" stroke-linecap="round"/>
<line x1="236.9" y1="382.0" x2="243.5" y2="378.8" stroke="#238d8c" stroke-width="2.5" stroke-opacity="0.5" stroke-linecap="round"/>
<line x1="170.1" y1="336.7" x2="182.5" y2="331.7" stroke="#21918c" stroke-width="2.3" stroke-opacity="0.5" stroke-linecap="round"/>
<line x1="414.6" y1="361.2" x2="421.3" y2="357.9" stroke="#2c738e" stroke-width="2.9" stroke-opacity="0.5" stroke-linecap="round"/>
<line x1="245.3" y1="237.4" x2="255.6" y2="232.4" stroke="#21978a" stroke-width="3.4" stroke-opacity="0.5" stroke-linecap="round"/>
<line x1="207.3" y1="331.2" x2="221.0" y2="324.6" stroke="#30b27b" stroke-width="3.5" stroke-opacity="0.5" stroke-linecap="round"/>
<line x1="276.6" y1="299.5" x2="291.7" y2="293.4" stroke="#8cd546" stroke-width="3.5" stroke-opacity="0.5" stroke-linecap="round"/>
<line x1="388.0" y1="282.4" x2="396.8" y2="278.5" stroke="#22a884" stroke-width="3.6" stroke-opacity="0.5" stroke-linecap="round"/>
<line x1="395.9" y1="401.9" x2="411.0" y2="396.8" stroke="#306b8d" stroke-width="2.9" stroke-opacity="0.5" stroke-linecap="round"/>
<line x1="439.9" y1="406.3" x2="448.9" y2="402.6" stroke="#472a79" stroke-width="2.7" stroke-opacity="0.5" stroke-linecap="round"/>
<line x1="317.3" y1="226.4" x2="328.2" y2="222.0" stroke="#229e87" stroke-width="2.4" stroke-opacity="0.5" stroke-linecap="round"/>
<line x1="443.3" y1="373.5" x2="459.5" y2="367.4" stroke="#44347e" stroke-width="3.4" stroke-opacity="0.5" stroke-linecap="round"/>
<line x1="418.9" y1="219.1" x2="431.7" y2="213.4" stroke="#32668d" stroke-width="2.6" stroke-opacity="0.5" stroke-linecap="round"/>
<line x1="320.6" y1="404.3" x2="333.2" y2="398.5" stroke="#32678d" stroke-width="2.8" stroke-opacity="0.5" stroke-linecap="round"/>
<line x1="437.9" y1="271.8" x2="447.6" y2="268.2" stroke="#219889" stroke-width="3.0" stroke-opacity="0.5" stroke-linecap="round"/>
<line x1="439.4" y1="318.9" x2="448.6" y2="315.1" stroke="#32658d" stroke-width="2.4" stroke-opacity="0.5" stroke-linecap="round"/>
<line x1="200.6" y1="239.3" x2="210.0" y2="235.3" stroke="#79d152" stroke-width="2.5" stroke-opacity="0.5" stroke-linecap="round"/>
<line x1="190.2" y1="325.6" x2="205.4" y2="319.8" stroke="#22a784" stroke-width="3.1" stroke-opacity="0.5" stroke-linecap="round"/>
<line x1="222.7" y1="359.8" x2="234.0" y2="355.3" stroke="#229e87" stroke-width="2.9" stroke-opacity="0.5" stroke-linecap="round"/>
<line x1="254.1" y1="262.4" x2="262.9" y2="258.9" stroke="#96d73f" stroke-width="3.0" stroke-opacity="0.5" stroke-linecap="round"/>
<line x1="168.4" y1="285.4" x2="183.4" y2="278.5" stroke="#21928c" stroke-width="2.9" stroke-opacity="0.5" stroke-linecap="round"/>
<line x1="246.7" y1="417.4" x2="256.4" y2="414.0" stroke="#2eb07d" stroke-width="2.3" stroke-opacity="0.5" stroke-linecap="round"/>
<line x1="415.1" y1="303.5" x2="422.1" y2="300.5" stroke="#229f87" stroke-width="3.2" stroke-opacity="0.5" stroke-linecap="round"/>
<line x1="196.4" y1="258.8" x2="212.9" y2="252.9" stroke="#98d73e" stroke-width="2.7" stroke-opacity="0.5" stroke-linecap="round"/>
<line x1="266.2" y1="352.5" x2="279.2" y2="348.1" stroke="#21938b" stroke-width="2.9" stroke-opacity="0.5" stroke-linecap="round"/>
<line x1="377.0" y1="366.6" x2="391.2" y2="360.8" stroke="#3a538a" stroke-width="3.2" stroke-opacity="0.5" stroke-linecap="round"/>
<line x1="427.5" y1="238.5" x2="442.3" y2="231.0" stroke="#32678d" stroke-width="3.0" stroke-opacity="0.5" stroke-linecap="round"/>
<line x1="307.9" y1="412.3" x2="320.1" y2="407.1" stroke="#306b8d" stroke-width="3.4" stroke-opacity="0.5" stroke-linecap="round"/>
<line x1="339.3" y1="290.9" x2="350.4" y2="286.4" stroke="#24888d" stroke-width="2.6" stroke-opacity="0.5" stroke-linecap="round"/>
<line x1="277.1" y1="327.5" x2="287.4" y2="323.0" stroke="#219b89" stroke-width="3.4" stroke-opacity="0.5" stroke-linecap="round"/>
<line x1="308.4" y1="304.4" x2="316.6" y2="300.7" stroke="#65ca5d" stroke-width="3.0" stroke-opacity="0.5" stroke-linecap="round"/>
<line x1="331.9" y1="230.3" x2="347.6" y2="223.4" stroke="#2f6e8e" stroke-width="3.4" stroke-opacity="0.5" stroke-linecap="round"/>
<line x1="440.2" y1="254.5" x2="451.3" y2="250.9" stroke="#21958b" stroke-width="2.3" stroke-opacity="0.5" stroke-linecap="round"/>
<line x1="327.1" y1="315.4" x2="343.3" y2="309.8" stroke="#25868d" stroke-width="3.6" stroke-opacity="0.5" stroke-linecap="round"/>
<line x1="313.5" y1="319.6" x2="326.9" y2="313.9" stroke="#54c467" stroke-width="3.0" stroke-opacity="0.5" stroke-linecap="round"/>
<line x1="265.8" y1="409.2" x2="279.2" y2="403.8" stroke="#26ab82" stroke-width="2.7" stroke-opacity="0.5" stroke-linecap="round"/>
<line x1="280.1" y1="328.8" x2="292.7" y2="324.6" stroke="#219889" stroke-width="2.9" stroke-opacity="0.5" stroke-linecap="round"/>
<line x1="291.3" y1="341.9" x2="307.8" y2="334.7" stroke="#248a8d" stroke-width="3.3" stroke-opacity="0.5" stroke-linecap="round"/>
<line x1="214.0" y1="278.2" x2="230.8" y2="272.5" stroke="#3ebb74" stroke-width="2.4" stroke-opacity="0.5" stroke-linecap="round"/>
<line x1="421.7" y1="355.5" x2="437.0" y2="350.8" stroke="#404687" stroke-width="2.8" stroke-opacity="0.5" stroke-linecap="round"/>
<line x1="209.9" y1="272.3" x2="221.6" y2="267.6" stroke="#c8e026" stroke-width="2.5" stroke-opacity="0.5" stroke-linecap="round"/>
<line x1="345.8" y1="337.5" x2="356.2" y2="334.3" stroke="#2a778e" stroke-width="2.3" stroke-opacity="0.5" stroke-linecap="round"/>
<line x1="283.1" y1="375.8" x2="292.8" y2="372.3" stroke="#2caf7e" stroke-width="2.6" stroke-opacity="0.5" stroke-linecap="round"/>
<line x1="406.7" y1="333.9" x2="419.7" y2="327.9" stroke="#238d8c" stroke-width="3.0" stroke-opacity="0.5" stroke-linecap="round"/>
<line x1="241.3" y1="346.5" x2="253.6" y2="342.8" stroke="#22a585" stroke-width="2.8" stroke-opacity="0.5" stroke-linecap="round"/>
<line x1="199.9" y1="244.6" x2="213.7" y2="237.9" stroke="#83d34b" stroke-width="2.4" stroke-opacity="0.5" stroke-linecap="round"/>
<line x1="315.0" y1="383.2" x2="328.0" y2="378.8" stroke="#219c88" stroke-width="2.2" stroke-opacity="0.5" stroke-linecap="round"/>
<line x1="386.2" y1="279.1" x2="399.8" y2="273.2" stroke="#22a685" stroke-width="2.6" stroke-opacity="0.5" stroke-linecap="round"/>
<line x1="193.5" y1="400.0" x2="205.8" y2="394.7" stroke="#4bc16c" stroke-width="2.7" stroke-opacity="0.5" stroke-linecap="round"/>
<line x1="180.7" y1="397.2" x2="193.5" y2="393.2" stroke="#47c06e" stroke-width="3.1" stroke-opacity="0.5" stroke-linecap="round"/>
<line x1="236.6" y1="221.1" x2="252.9" y2="215.7" stroke="#62c95f" stroke-width="3.5" stroke-opacity="0.5" stroke-linecap="round"/>
<line x1="399.2" y1="275.2" x2="412.2" y2="271.1" stroke="#22a187" stroke-width="3.5" stroke-opacity="0.5" stroke-linecap="round"/>
<line x1="234.7" y1="293.1" x2="248.3" y2="286.8" stroke="#e2e425" stroke-width="3.4" stroke-opacity="0.5" stroke-linecap="round"/>
<line x1="304.0" y1="376.9" x2="312.8" y2="372.8" stroke="#22a485" stroke-width="2.5" stroke-opacity="0.5" stroke-linecap="round"/>
<line x1="443.8" y1="272.5" x2="455.7" y2="266.7" stroke="#2f6c8e" stroke-width="2.7" stroke-opacity="0.5" stroke-linecap="round"/>
<line x1="280.7" y1="225.6" x2="288.6" y2="222.9" stroke="#30b17c" stroke-width="2.5" stroke-opacity="0.5" stroke-linecap="round"/>
<line x1="219.9" y1="271.0" x2="228.5" y2="266.7" stroke="#38b777" stroke-width="2.7" stroke-opacity="0.5" stroke-linecap="round"/>
<line x1="209.7" y1="358.8" x2="217.0" y2="355.5" stroke="#219b88" stroke-width="2.4" stroke-opacity="0.5" stroke-linecap="round"/>
<line x1="292.2" y1="386.0" x2="306.6" y2="379.2" stroke="#22a585" stroke-width="3.2" stroke-opacity="0.5" stroke-linecap="round"/>
<line x1="273.2" y1="411.3" x2="282.0" y2="408.6" stroke="#287c8e" stroke-width="2.5" stroke-opacity="0.5" stroke-linecap="round"/>
<line x1="294.9" y1="239.2" x2="308.4" y2="233.1" stroke="#277f8d" stroke-width="3.0" stroke-opacity="0.5" stroke-linecap="round"/>
<line x1="270.6" y1="263.2" x2="283.0" y2="257.5" stroke="#229d88" stroke-width="2.4" stroke-opacity="0.5" stroke-linecap="round"/>
<line x1="312.2" y1="324.9" x2="321.7" y2="321.6" stroke="#4fc36a" stroke-width="3.1" stroke-opacity="0.5" stroke-linecap="round"/>
<line x1="327.9" y1="276.6" x2="338.1" y2="271.7" stroke="#51c369" stroke-width="3.4" stroke-opacity="0.5" stroke-linecap="round"/>
<line x1="257.1" y1="349.9" x2="264.8" y2="346.9" stroke="#7ad151" stroke-width="2.9" stroke-opacity="0.5" stroke-linecap="round"/>
<line x1="250.2" y1="225.7" x2="259.7" y2="221.3" stroke="#5ec861" stroke-width="3.2" stroke-opacity="0.5" stroke-linecap="round"/>
<line x1="246.0" y1="295.9" x2="262.1" y2="290.3" stroke="#38b777" stroke-width="3.4" stroke-opacity="0.5" stroke-linecap="round"/>
<line x1="202.9" y1="269.5" x2="209.8" y2="267.0" stroke="#2fb17c" stroke-width="2.7" stroke-opacity="0.5" stroke-linecap="round"/>
<line x1="283.4" y1="349.1" x2="296.8" y2="343.0" stroke="#238b8d" stroke-width="2.7" stroke-opacity="0.5" stroke-linecap="round"/>
<line x1="345.5" y1="249.8" x2="353.3" y2="247.2" stroke="#2c748e" stroke-width="3.2" stroke-opacity="0.5" stroke-linecap="round"/>
<line x1="176.6" y1="220.3" x2="184.6" y2="216.6" stroke="#47c06e" stroke-width="2.7" stroke-opacity="0.5" stroke-linecap="round"/>
<line x1="176.3" y1="276.7" x2="188.9" y2="270.7" stroke="#21958a" stroke-width="3.0" stroke-opacity="0.5" stroke-linecap="round"/>
<line x1="370.7" y1="265.0" x2="381.7" y2="260.9" stroke="#22a087" stroke-width="2.2" stroke-opacity="0.5" stroke-linecap="round"/>
<line x1="404.4" y1="373.5" x2="413.5" y2="369.0" stroke="#424185" stroke-width="3.1" stroke-opacity="0.5" stroke-linecap="round"/>
<line x1="178.6" y1="262.8" x2="186.4" y2="260.2" stroke="#6dcd58" stroke-width="3.5" stroke-opacity="0.5" stroke-linecap="round"/>
<line x1="380.1" y1="229.9" x2="393.6" y2="224.2" stroke="#32678d" stroke-width="3.4" stroke-opacity="0.5" stroke-linecap="round"/>
<line x1="245.7" y1="230.7" x2="261.7" y2="224.0" stroke="#21938b" stroke-width="3.2" stroke-opacity="0.5" stroke-linecap="round"/>
<line x1="377.0" y1="384.6" x2="389.8" y2="379.3" stroke="#2a788e" stroke-width="3.2" stroke-opacity="0.5" stroke-linecap="round"/>
<line x1="287.9" y1="318.5" x2="303.4" y2="311.0" stroke="#21988a" stroke-width="2.3" stroke-opacity="0.5" stroke-linecap="round"/>
<line x1="366.7" y1="379.6" x2="375.9" y2="376.0" stroke="#3a538a" stroke-width="3.1" stroke-opacity="0.5" stroke-linecap="round"/>
<line x1="321.1" y1="263.9" x2="328.1" y2="260.9" stroke="#4ac16c" stroke-width="2.5" stroke-opacity="0.5" stroke-linecap="round"/>
<line x1="254.1" y1="240.4" x2="268.0" y2="235.3" stroke="#70ce57" stroke-width="2.5" stroke-opacity="0.5" stroke-linecap="round"/>
<line x1="312.9" y1="304.6" x2="328.8" y2="297.7" stroke="#61c95f" stroke-width="3.4" stroke-opacity="0.5" stroke-linecap="round"/>
<line x1="205.7" y1="329.2" x2="215.8" y2="325.7" stroke="#32b37b" stroke-width="3.3" stroke-opacity="0.5" stroke-linecap="round"/>
<line x1="213.6" y1="350.6" x2="226.1" y2="345.5" stroke="#22a485" stroke-width="3.4" stroke-opacity="0.5" stroke-linecap="round"/>
<line x1="197.9" y1="272.2" x2="207.8" y2="267.6" stroke="#b7de2a" stroke-width="2.6" stroke-opacity="0.5" stroke-linecap="round"/>
<line x1="221.6" y1="357.9" x2="232.3" y2="352.7" stroke="#8ad447" stroke-width="2.9" stroke-opacity="0.5" stroke-linecap="round"/>
<line x1="269.2" y1="247.0" x2="276.1" y2="243.4" stroke="#21938b" stroke-width="3.3" stroke-opacity="0.5" stroke-linecap="round"/>
<line x1="189.1" y1="361.2" x2="205.7" y2="354.7" stroke="#65ca5d" stroke-width="2.9" stroke-opacity="0.5" stroke-linecap="round"/>
<line x1="289.6" y1="251.5" x2="301.2" y2="245.6" stroke="#238c8c" stroke-width="3.1" stroke-opacity="0.5" stroke-linecap="round"/>
<line x1="345.2" y1="406.5" x2="358.1" y2="400.7" stroke="#25858d" stroke-width="2.4" stroke-opacity="0.5" stroke-linecap="round"/>
<line x1="172.9" y1="373.1" x2="187.8" y2="366.5" stroke="#4ec26a" stroke-width="3.1" stroke-opacity="0.5" stroke-linecap="round"/>
<line x1="407.7" y1="404.8" x2="416.1" y2="401.8" stroke="#45337e" stroke-width="3.2" stroke-opacity="0.5" stroke-linecap="round"/>
<line x1="258.8" y1="250.4" x2="273.5" y2="243.9" stroke="#7ad151" stroke-width="3.0" stroke-opacity="0.5" stroke-linecap="round"/>
<line x1="271.0" y1="384.9" x2="279.6" y2="380.6" stroke="#25858d" stroke-width="3.1" stroke-opacity="0.5" stroke-linecap="round"/>
<line x1="400.3" y1="358.8" x2="416.4" y2="353.6" stroke="#297a8e" stroke-width="2.9" stroke-opacity="0.5" stroke-linecap="round"/>
<line x1="210.2" y1="274.3" x2="222.2" y2="268.4" stroke="#38b777" stroke-width="2.4" stroke-opacity="0.5" stroke-linecap="round"/>
<line x1="292.2" y1="413.7" x2="299.3" y2="410.1" stroke="#229e87" stroke-width="2.5" stroke-opacity="0.5" stroke-linecap="round"/>
<line x1="372.5" y1="212.6" x2="387.9" y2="207.4" stroke="#32678d" stroke-width="2.8" stroke-opacity="0.5" stroke-linecap="round"/>
<line x1="246.3" y1="349.6" x2="258.0" y2="344.7" stroke="#8cd546" stroke-width="2.8" stroke-opacity="0.5" stroke-linecap="round"/>
<line x1="356.2" y1="383.8" x2="371.5" y2="376.6" stroke="#25858d" stroke-width="2.8" stroke-opacity="0.5" stroke-linecap="round"/>
<line x1="326.7" y1="284.4" x2="334.9" y2="280.4" stroke="#5bc763" stroke-width="2.8" stroke-opacity="0.5" stroke-linecap="round"/>
<line x1="443.8" y1="401.0" x2="459.5" y2="396.1" stroke="#462b79" stroke-width="3.1" stroke-opacity="0.5" stroke-linecap="round"/>
<line x1="397.8" y1="224.5" x2="411.3" y2="219.3" stroke="#21938b" stroke-width="3.0" stroke-opacity="0.5" stroke-linecap="round"/>
<line x1="438.5" y1="312.0" x2="451.4" y2="306.2" stroke="#21988a" stroke-width="3.4" stroke-opacity="0.5" stroke-linecap="round"/>
<line x1="173.0" y1="251.3" x2="186.4" y2="245.7" stroke="#5bc763" stroke-width="3.1" stroke-opacity="0.5" stroke-linecap="round"/>
<line x1="271.8" y1="332.8" x2="282.5" y2="328.5" stroke="#219c88" stroke-width="2.8" stroke-opacity="0.5" stroke-linecap="round"/>
<line x1="197.8" y1="249.5" x2="213.4" y2="243.4" stroke="#89d447" stroke-width="3.4" stroke-opacity="0.5" stroke-linecap="round"/>
<line x1="237.8" y1="231.8" x2="249.4" y2="226.4" stroke="#70ce57" stroke-width="3.0" stroke-opacity="0.5" stroke-linecap="round"/>
<line x1="230.0" y1="331.1" x2="237.7" y2="328.1" stroke="#38b777" stroke-width="2.3" stroke-opacity="0.5" stroke-linecap="round"/>
<line x1="282.1" y1="227.3" x2="293.3" y2="223.6" stroke="#287d8e" stroke-width="3.2" stroke-opacity="0.5" stroke-linecap="round"/>
<line x1="382.2" y1="235.8" x2="399.1" y2="229.8" stroke="#21938b" stroke-width="3.4" stroke-opacity="0.5" stroke-linecap="round"/>
<line x1="277.5" y1="247.6" x2="293.8" y2="241.2" stroke="#22908c" stroke-width="2.4" stroke-opacity="0.5" stroke-linecap="round"/>
<line x1="387.8" y1="224.0" x2="396.6" y2="220.2" stroke="#21938b" stroke-width="3.0" stroke-opacity="0.5" stroke-linecap="round"/>
<line x1="226.2" y1="274.4" x2="239.8" y2="268.7" stroke="#3ebb74" stroke-width="3.1" stroke-opacity="0.5" stroke-linecap="round"/>
<line x1="415.3" y1="329.1" x2="431.5" y2="323.7" stroke="#228f8c" stroke-width="3.2" stroke-opacity="0.5" stroke-linecap="round"/>
<line x1="263.0" y1="370.8" x2="276.7" y2="366.2" stroke="#50c369" stroke-width="2.7" stroke-opacity="0.5" stroke-linecap="round"/>
<line x1="376.6" y1="409.2" x2="390.0" y2="402.5" stroke="#414286" stroke-width="2.3" stroke-opacity="0.5" stroke-linecap="round"/>
<line x1="322.5" y1="379.0" x2="330.4" y2="376.5" stroke="#2e6e8e" stroke-width="2.6" stroke-opacity="0.5" stroke-linecap="round"/>
<line x1="220.4" y1="304.9" x2="235.6" y2="299.1" stroke="#f2e625" stroke-width="2.2" stroke-opacity="0.5" stroke-linecap="round"/>
<line x1="196.7" y1="378.5" x2="205.1" y2="375.2" stroke="#5bc763" stroke-width="3.2" stroke-opacity="0.5" stroke-linecap="round"/>
<line x1="274.3" y1="242.0" x2="289.8" y2="235.9" stroke="#228d8c" stroke-width="3.3" stroke-opacity="0.5" stroke-linecap="round"/>
<line x1="437.3" y1="214.9" x2="447.0" y2="210.2" stroke="#32668d" stroke-width="3.4" stroke-opacity="0.5" stroke-linecap="round"/>
<line x1="394.7" y1="219.4" x2="403.3" y2="216.5" stroke="#32668d" stroke-width="2.7" stroke-opacity="0.5" stroke-linecap="round"/>
<line x1="301.5" y1="244.9" x2="316.5" y2="238.5" stroke="#27808d" stroke-width="3.1" stroke-opacity="0.5" stroke-linecap="round"/>
<line x1="186.8" y1="280.5" x2="195.7" y2="277.6" stroke="#22a585" stroke-width="2.3" stroke-opacity="0.5" stroke-linecap="round"/>
<line x1="213.7" y1="287.1" x2="225.0" y2="282.7" stroke="#ebe525" stroke-width="2.7" stroke-opacity="0.5" stroke-linecap="round"/>
<line x1="166.7" y1="332.5" x2="176.2" y2="327.7" stroke="#62c95f" stroke-width="3.6" stroke-opacity="0.5" stroke-linecap="round"/>
<line x1="178.0" y1="242.3" x2="191.1" y2="236.4" stroke="#5cc762" stroke-width="2.9" stroke-opacity="0.5" stroke-linecap="round"/>
<line x1="240.2" y1="330.3" x2="252.4" y2="326.5" stroke="#32b37b" stroke-width="2.2" stroke-opacity="0.5" stroke-linecap="round"/>
<line x1="325.9" y1="372.3" x2="341.6" y2="366.9" stroke="#2e708e" stroke-width="3.1" stroke-opacity="0.5" stroke-linecap="round"/>
<line x1="269.2" y1="270.6" x2="284.1" y2="265.6" stroke="#229f87" stroke-width="3.2" stroke-opacity="0.5" stroke-linecap="round"/>
<line x1="252.2" y1="370.8" x2="266.3" y2="365.1" stroke="#228d8c" stroke-width="2.7" stroke-opacity="0.5" stroke-linecap="round"/>
<line x1="323.1" y1="296.4" x2="330.1" y2="293.4" stroke="#5cc762" stroke-width="3.6" stroke-opacity="0.5" stroke-linecap="round"/>
<line x1="303.2" y1="288.4" x2="312.0" y2="284.4" stroke="#6dcd59" stroke-width="2.4" stroke-opacity="0.5" stroke-linecap="round"/>
<line x1="167.1" y1="393.2" x2="178.1" y2="388.6" stroke="#26828d" stroke-width="2.6" stroke-opacity="0.5" stroke-linecap="round"/>
<line x1="213.5" y1="225.8" x2="222.9" y2="221.6" stroke="#21948b" stroke-width="3.0" stroke-opacity="0.5" stroke-linecap="round"/>
<line x1="434.0" y1="282.8" x2="450.0" y2="276.6" stroke="#219c88" stroke-width="2.5" stroke-opacity="0.5" stroke-linecap="round"/>
<line x1="331.6" y1="417.4" x2="341.9" y2="413.8" stroke="#238b8d" stroke-width="3.4" stroke-opacity="0.5" stroke-linecap="round"/>
<line x1="184.4" y1="312.8" x2="199.8" y2="305.8" stroke="#97d73e" stroke-width="2.2" stroke-opacity="0.5" stroke-linecap="round"/>
<line x1="212.2" y1="267.8" x2="225.6" y2="261.6" stroke="#c0df26" stroke-width="2.5" stroke-opacity="0.5" stroke-linecap="round"/>
<line x1="338.0" y1="391.7" x2="350.8" y2="385.7" stroke="#35608d" stroke-width="3.5" stroke-opacity="0.5" stroke-linecap="round"/>
<line x1="337.5" y1="228.5" x2="352.6" y2="223.5" stroke="#21988a" stroke-width="2.4" stroke-opacity="0.5" stroke-linecap="round"/>
<line x1="219.0" y1="323.7" x2="234.6" y2="317.8" stroke="#3fbc73" stroke-width="2.5" stroke-opacity="0.5" stroke-linecap="round"/>
<line x1="258.8" y1="367.9" x2="271.8" y2="362.3" stroke="#238c8c" stroke-width="2.7" stroke-opacity="0.5" stroke-linecap="round"/>
<line x1="181.5" y1="298.2" x2="188.5" y2="295.5" stroke="#8ad447" stroke-width="2.9" stroke-opacity="0.5" stroke-linecap="round"/>
<line x1="336.6" y1="265.5" x2="347.4" y2="260.0" stroke="#25868d" stroke-width="3.0" stroke-opacity="0.5" stroke-linecap="round"/>
<line x1="448.4" y1="223.7" x2="461.4" y2="219.0" stroke="#21938b" stroke-width="2.3" stroke-opacity="0.5" stroke-linecap="round"/>
<line x1="209.8" y1="241.7" x2="223.7" y2="234.9" stroke="#229d88" stroke-width="2.8" stroke-opacity="0.5" stroke-linecap="round"/>
<line x1="319.6" y1="334.4" x2="331.9" y2="329.8" stroke="#25878d" stroke-width="2.7" stroke-opacity="0.5" stroke-linecap="round"/>
<line x1="377.7" y1="265.6" x2="391.7" y2="260.7" stroke="#2c738e" stroke-width="2.6" stroke-opacity="0.5" stroke-linecap="round"/>
<line x1="386.7" y1="415.3" x2="397.7" y2="410.4" stroke="#433b82" stroke-width="3.5" stroke-opacity="0.5" stroke-linecap="round"/>
<line x1="202.8" y1="213.9" x2="214.3" y2="209.6" stroke="#238b8c" stroke-width="2.7" stroke-opacity="0.5" stroke-linecap="round"/>
<line x1="449.0" y1="259.5" x2="462.8" y2="252.7" stroke="#21958a" stroke-width="2.4" stroke-opacity="0.5" stroke-linecap="round"/>
<line x1="182.3" y1="316.4" x2="194.1" y2="310.8" stroke="#22a087" stroke-width="2.7" stroke-opacity="0.5" stroke-linecap="round"/>
<line x1="207.9" y1="248.9" x2="222.2" y2="244.3" stroke="#92d642" stroke-width="2.2" stroke-opacity="0.5" stroke-linecap="round"/>
<line x1="388.3" y1="262.5" x2="404.8" y2="255.8" stroke="#2e6e8e" stroke-width="2.7" stroke-opacity="0.5" stroke-linecap="round"/>
<line x1="394.8" y1="307.7" x2="404.8" y2="304.4" stroke="#22a485" stroke-width="3.2" stroke-opacity="0.5" stroke-linecap="round"/>
<line x1="183.8" y1="346.3" x2="194.6" y2="342.7" stroke="#71ce56" stroke-width="3.0" stroke-opacity="0.5" stroke-linecap="round"/>
<line x1="282.6" y1="403.2" x2="298.9" y2="397.0" stroke="#22a585" stroke-width="2.6" stroke-opacity="0.5" stroke-linecap="round"/>
<line x1="240.3" y1="302.2" x2="248.9" y2="298.2" stroke="#3fbc73" stroke-width="3.1" stroke-opacity="0.5" stroke-linecap="round"/>
<line x1="250.7" y1="418.8" x2="259.4" y2="415.4" stroke="#2caf7e" stroke-width="3.4" stroke-opacity="0.5" stroke-linecap="round"/>
<line x1="414.5" y1="267.6" x2="428.9" y2="262.7" stroke="#219989" stroke-width="2.7" stroke-opacity="0.5" stroke-linecap="round"/>
<line x1="304.4" y1="397.3" x2="312.6" y2="394.3" stroke="#2d718e" stroke-width="2.8" stroke-opacity="0.5" stroke-linecap="round"/>
<line x1="331.2" y1="395.6" x2="340.1" y2="392.7" stroke="#21908c" stroke-width="3.3" stroke-opacity="0.5" stroke-linecap="round"/>
<line x1="412.8" y1="249.9" x2="428.6" y2="245.1" stroke="#21958b" stroke-width="2.2" stroke-opacity="0.5" stroke-linecap="round"/>
<line x1="197.0" y1="414.7" x2="203.8" y2="412.5" stroke="#44bf70" stroke-width="3.2" stroke-opacity="0.5" stroke-linecap="round"/>
<line x1="193.0" y1="247.1" x2="206.0" y2="240.7" stroke="#7ad151" stroke-width="3.5" stroke-opacity="0.5" stroke-linecap="round"/>
<line x1="370.6" y1="395.4" x2="386.5" y2="387.5" stroke="#2a788e" stroke-width="3.3" stroke-opacity="0.5" stroke-linecap="round"/>
<line x1="362.9" y1="219.9" x2="374.3" y2="214.6" stroke="#21948b" stroke-width="2.3" stroke-opacity="0.5" stroke-linecap="round"/>
<line x1="170.7" y1="418.1" x2="180.7" y2="414.8" stroke="#40bc72" stroke-width="2.9" stroke-opacity="0.5" stroke-linecap="round"/>
<line x1="204.0" y1="301.1" x2="212.4" y2="298.0" stroke="#e1e425" stroke-width="3.2" stroke-opacity="0.5" stroke-linecap="round"/>
<line x1="308.7" y1="235.4" x2="318.8" y2="231.3" stroke="#287d8e" stroke-width="2.7" stroke-opacity="0.5" stroke-linecap="round"/>
<line x1="226.7" y1="413.2" x2="242.5" y2="407.6" stroke="#45bf70" stroke-width="2.4" stroke-opacity="0.5" stroke-linecap="round"/>
<line x1="241.0" y1="226.3" x2="247.9" y2="223.5" stroke="#66ca5d" stroke-width="3.0" stroke-opacity="0.5" stroke-linecap="round"/>
<line x1="269.1" y1="214.2" x2="282.7" y2="209.1" stroke="#25858d" stroke-width="3.0" stroke-opacity="0.5" stroke-linecap="round"/>
<line x1="363.1" y1="416.3" x2="378.7" y2="410.7" stroke="#2a788e" stroke-width="2.6" stroke-opacity="0.5" stroke-linecap="round"/>
<line x1="285.3" y1="414.4" x2="295.6" y2="409.9" stroke="#22a186" stroke-width="2.4" stroke-opacity="0.5" stroke-linecap="round"/>
<line x1="451.5" y1="213.1" x2="464.6" y2="208.9" stroke="#21938b" stroke-width="3.1" stroke-opacity="0.5" stroke-linecap="round"/>
<line x1="273.2" y1="262.1" x2="281.5" y2="258.1" stroke="#219b89" stroke-width="3.3" stroke-opacity="0.5" stroke-linecap="round"/>
<line x1="425.7" y1="222.3" x2="439.1" y2="216.4" stroke="#32668d" stroke-width="3.0" stroke-opacity="0.5" stroke-linecap="round"/>
<line x1="255.6" y1="414.1" x2="262.2" y2="411.8" stroke="#26838d" stroke-width="2.9" stroke-opacity="0.5" stroke-linecap="round"/>
<line x1="335.0" y1="418.9" x2="343.9" y2="415.5" stroke="#375b8c" stroke-width="2.7" stroke-opacity="0.5" stroke-linecap="round"/>
<line x1="369.4" y1="293.9" x2="381.3" y2="289.3" stroke="#25858d" stroke-width="2.7" stroke-opacity="0.5" stroke-linecap="round"/>
<line x1="345.5" y1="325.0" x2="354.3" y2="321.6" stroke="#28ac81" stroke-width="3.5" stroke-opacity="0.5" stroke-linecap="round"/>
<line x1="300.8" y1="362.1" x2="312.6" y2="357.3" stroke="#28ac80" stroke-width="2.4" stroke-opacity="0.5" stroke-linecap="round"/>
<line x1="431.1" y1="322.0" x2="443.0" y2="317.3" stroke="#33648d" stroke-width="2.5" stroke-opacity="0.5" stroke-linecap="round"/>
<line x1="214.5" y1="383.0" x2="225.8" y2="378.7" stroke="#228f8c" stroke-width="3.5" stroke-opacity="0.5" stroke-linecap="round"/>
<line x1="414.1" y1="221.0" x2="424.7" y2="217.4" stroke="#32668d" stroke-width="2.4" stroke-opacity="0.5" stroke-linecap="round"/>
<line x1="209.2" y1="264.3" x2="216.6" y2="261.1" stroke="#2caf7e" stroke-width="2.9" stroke-opacity="0.5" stroke-linecap="round"/>
<line x1="295.0" y1="230.3" x2="305.8" y2="227.0" stroke="#26828d" stroke-width="2.8" stroke-opacity="0.5" stroke-linecap="round"/>
<line x1="302.3" y1="378.0" x2="316.1" y2="371.4" stroke="#2a798e" stroke-width="2.7" stroke-opacity="0.5" stroke-linecap="round"/>
<line x1="314.4" y1="261.4" x2="324.6" y2="257.0" stroke="#4ec26a" stroke-width="2.2" stroke-opacity="0.5" stroke-linecap="round"/>
<line x1="222.6" y1="330.7" x2="229.6" y2="327.4" stroke="#3bb975" stroke-width="2.6" stroke-opacity="0.5" stroke-linecap="round"/>
<line x1="258.0" y1="262.3" x2="272.5" y2="255.2" stroke="#22a286" stroke-width="3.4" stroke-opacity="0.5" stroke-linecap="round"/>
<line x1="222.9" y1="300.0" x2="237.6" y2="294.4" stroke="#f4e625" stroke-width="2.3" stroke-opacity="0.5" stroke-linecap="round"/>
<line x1="292.0" y1="288.4" x2="305.6" y2="282.3" stroke="#76d053" stroke-width="3.1" stroke-opacity="0.5" stroke-linecap="round"/>
<line x1="397.7" y1="285.3" x2="408.2" y2="281.2" stroke="#287c8e" stroke-width="2.5" stroke-opacity="0.5" stroke-linecap="round"/>
<line x1="443.8" y1="360.1" x2="454.2" y2="356.2" stroke="#2f6c8e" stroke-width="2.3" stroke-opacity="0.5" stroke-linecap="round"/>
<line x1="382.0" y1="290.9" x2="393.8" y2="286.1" stroke="#27828d" stroke-width="3.3" stroke-opacity="0.5" stroke-linecap="round"/>
<line x1="172.3" y1="335.3" x2="183.5" y2="330.7" stroke="#21928c" stroke-width="2.8" stroke-opacity="0.5" stroke-linecap="round"/>
<line x1="300.9" y1="397.2" x2="311.9" y2="392.7" stroke="#2d728e" stroke-width="3.4" stroke-opacity="0.5" stroke-linecap="round"/>
<line x1="357.4" y1="366.0" x2="367.6" y2="360.9" stroke="#35608d" stroke-width="3.0" stroke-opacity="0.5" stroke-linecap="round"/>
<line x1="385.8" y1="372.1" x2="393.3" y2="368.7" stroke="#297a8e" stroke-width="3.3" stroke-opacity="0.5" stroke-linecap="round"/>
<line x1="194.2" y1="230.4" x2="208.4" y2="224.8" stroke="#65ca5d" stroke-width="3.2" stroke-opacity="0.5" stroke-linecap="round"/>
<line x1="369.1" y1="312.4" x2="376.2" y2="309.8" stroke="#28ac80" stroke-width="3.0" stroke-opacity="0.5" stroke-linecap="round"/>
<line x1="451.5" y1="381.9" x2="466.4" y2="374.8" stroke="#33638d" stroke-width="2.9" stroke-opacity="0.5" stroke-linecap="round"/>
<line x1="166.7" y1="417.6" x2="175.9" y2="413.5" stroke="#40bc73" stroke-width="2.6" stroke-opacity="0.5" stroke-linecap="round"/>
<line x1="411.5" y1="327.6" x2="423.1" y2="322.7" stroke="#21918c" stroke-width="2.6" stroke-opacity="0.5" stroke-linecap="round"/>
<line x1="413.8" y1="378.8" x2="428.7" y2="372.0" stroke="#306b8d" stroke-width="2.3" stroke-opacity="0.5" stroke-linecap="round"/>
<line x1="319.1" y1="289.8" x2="330.3" y2="285.2" stroke="#21908c" stroke-width="2.7" stroke-opacity="0.5" stroke-linecap="round"/>
<line x1="395.0" y1="253.7" x2="410.9" y2="247.4" stroke="#21978a" stroke-width="2.6" stroke-opacity="0.5" stroke-linecap="round"/>
<line x1="318.0" y1="297.1" x2="330.1" y2="291.7" stroke="#60c860" stroke-width="3.3" stroke-opacity="0.5" stroke-linecap="round"/>
<line x1="248.7" y1="359.8" x2="263.4" y2="354.1" stroke="#70ce57" stroke-width="3.5" stroke-opacity="0.5" stroke-linecap="round"/>
<line x1="292.7" y1="394.6" x2="299.7" y2="391.7" stroke="#2a778e" stroke-width="2.3" stroke-opacity="0.5" stroke-linecap="round"/>
<line x1="412.6" y1="227.0" x2="424.8" y2="221.2" stroke="#32668d" stroke-width="3.0" stroke-opacity="0.5" stroke-linecap="round"/>
<line x1="394.8" y1="315.6" x2="408.3" y2="310.6" stroke="#22a087" stroke-width="2.5" stroke-opacity="0.5" stroke-linecap="round"/>
<line x1="405.6" y1="242.3" x2="421.1" y2="235.1" stroke="#21948b" stroke-width="2.3" stroke-opacity="0.5" stroke-linecap="round"/>
<line x1="390.1" y1="409.8" x2="400.9" y2="405.7" stroke="#2f6c8e" stroke-width="3.5" stroke-opacity="0.5" stroke-linecap="round"/>
<line x1="361.9" y1="244.2" x2="369.0" y2="241.6" stroke="#219889" stroke-width="3.4" stroke-opacity="0.5" stroke-linecap="round"/>
<line x1="249.3" y1="260.4" x2="261.5" y2="255.0" stroke="#22a585" stroke-width="2.4" stroke-opacity="0.5" stroke-linecap="round"/>
<line x1="426.7" y1="279.5" x2="441.4" y2="272.5" stroke="#2e708e" stroke-width="3.6" stroke-opacity="0.5" stroke-linecap="round"/>
<line x1="277.4" y1="218.9" x2="287.8" y2="214.9" stroke="#2bae7f" stroke-width="3.0" stroke-opacity="0.5" stroke-linecap="round"/>
<line x1="191.9" y1="308.6" x2="205.7" y2="302.8" stroke="#2eb07d" stroke-width="2.4" stroke-opacity="0.5" stroke-linecap="round"/>
<line x1="402.8" y1="237.4" x2="419.2" y2="232.4" stroke="#32678d" stroke-width="2.9" stroke-opacity="0.5" stroke-linecap="round"/>
<line x1="248.4" y1="284.4" x2="262.6" y2="278.7" stroke="#30b17c" stroke-width="2.3" stroke-opacity="0.5" stroke-linecap="round"/>
<line x1="304.1" y1="391.7" x2="316.7" y2="386.7" stroke="#229e87" stroke-width="2.4" stroke-opacity="0.5" stroke-linecap="round"/>
<line x1="242.8" y1="397.8" x2="257.6" y2="390.9" stroke="#26838d" stroke-width="2.2" stroke-opacity="0.5" stroke-linecap="round"/>
<line x1="336.9" y1="413.2" x2="347.1" y2="410.0" stroke="#375b8c" stroke-width="2.3" stroke-opacity="0.5" stroke-linecap="round"/>
<line x1="260.6" y1="305.5" x2="269.8" y2="302.3" stroke="#b3dd2c" stroke-width="3.3" stroke-opacity="0.5" stroke-linecap="round"/>
<line x1="250.6" y1="226.4" x2="262.4" y2="220.7" stroke="#228e8c" stroke-width="3.3" stroke-opacity="0.5" stroke-linecap="round"/>
<line x1="335.9" y1="308.0" x2="342.8" y2="305.2" stroke="#4cc26b" stroke-width="3.1" stroke-opacity="0.5" stroke-linecap="round"/>
<line x1="202.9" y1="332.2" x2="212.9" y2="327.9" stroke="#2caf7e" stroke-width="2.4" stroke-opacity="0.5" stroke-linecap="round"/>
<line x1="213.7" y1="407.8" x2="223.8" y2="404.4" stroke="#25858d" stroke-width="2.9" stroke-opacity="0.5" stroke-linecap="round"/>
<line x1="207.8" y1="231.6" x2="222.8" y2="224.3" stroke="#71ce56" stroke-width="3.0" stroke-opacity="0.5" stroke-linecap="round"/>
<line x1="198.7" y1="309.3" x2="206.9" y2="306.1" stroke="#3ebb74" stroke-width="2.7" stroke-opacity="0.5" stroke-linecap="round"/>
<line x1="221.7" y1="296.0" x2="230.1" y2="292.0" stroke="#f3e625" stroke-width="3.4" stroke-opacity="0.5" stroke-linecap="round"/>
<line x1="309.0" y1="397.2" x2="315.8" y2="395.1" stroke="#219a89" stroke-width="3.3" stroke-opacity="0.5" stroke-linecap="round"/>
<line x1="328.7" y1="355.3" x2="337.7" y2="352.1" stroke="#22a286" stroke-width="2.6" stroke-opacity="0.5" stroke-linecap="round"/>
<line x1="173.9" y1="293.8" x2="185.5" y2="288.6" stroke="#21958b" stroke-width="2.3" stroke-opacity="0.5" stroke-linecap="round"/>
<line x1="331.0" y1="260.7" x2="343.8" y2="256.2" stroke="#25878d" stroke-width="2.3" stroke-opacity="0.5" stroke-linecap="round"/>
<line x1="235.5" y1="336.6" x2="251.5" y2="328.7" stroke="#30b17c" stroke-width="3.2" stroke-opacity="0.5" stroke-linecap="round"/>
<line x1="398.8" y1="283.2" x2="413.5" y2="277.1" stroke="#297b8e" stroke-width="2.2" stroke-opacity="0.5" stroke-linecap="round"/>
<line x1="434.9" y1="297.7" x2="445.2" y2="292.6" stroke="#219b89" stroke-width="3.2" stroke-opacity="0.5" stroke-linecap="round"/>
<line x1="359.8" y1="243.5" x2="369.5" y2="238.8" stroke="#21988a" stroke-width="2.5" stroke-opacity="0.5" stroke-linecap="round"/>
<line x1="260.0" y1="415.0" x2="277.0" y2="409.1" stroke="#27ab81" stroke-width="2.9" stroke-opacity="0.5" stroke-linecap="round"/>
<line x1="388.6" y1="400.9" x2="402.9" y2="395.5" stroke="#2e6e8e" stroke-width="3.1" stroke-opacity="0.5" stroke-linecap="round"/>
<line x1="407.7" y1="375.6" x2="415.3" y2="372.9" stroke="#2e6f8e" stroke-width="2.4" stroke-opacity="0.5" stroke-linecap="round"/>
<line x1="442.2" y1="351.9" x2="455.9" y2="345.3" stroke="#404587" stroke-width="3.5" stroke-opacity="0.5" stroke-linecap="round"/>
<line x1="424.7" y1="367.0" x2="440.0" y2="361.7" stroke="#433b82" stroke-width="2.8" stroke-opacity="0.5" stroke-linecap="round"/>
<line x1="401.8" y1="375.2" x2="417.0" y2="368.4" stroke="#424185" stroke-width="2.9" stroke-opacity="0.5" stroke-linecap="round"/>
<line x1="436.5" y1="236.1" x2="453.2" y2="230.3" stroke="#21938b" stroke-width="3.4" stroke-opacity="0.5" stroke-linecap="round"/>
<line x1="231.6" y1="253.2" x2="242.6" y2="248.2" stroke="#a0d939" stroke-width="3.5" stroke-opacity="0.5" stroke-linecap="round"/>
<line x1="361.7" y1="359.8" x2="372.4" y2="356.0" stroke="#34618d" stroke-width="3.2" stroke-opacity="0.5" stroke-linecap="round"/>
<line x1="435.3" y1="383.8" x2="445.6" y2="378.7" stroke="#45317c" stroke-width="3.4" stroke-opacity="0.5" stroke-linecap="round"/>
<line x1="262.5" y1="335.7" x2="277.8" y2="330.4" stroke="#90d643" stroke-width="2.9" stroke-opacity="0.5" stroke-linecap="round"/>
<line x1="169.7" y1="235.0" x2="184.4" y2="228.8" stroke="#25878d" stroke-width="2.8" stroke-opacity="0.5" stroke-linecap="round"/>
<line x1="261.3" y1="256.4" x2="271.6" y2="253.0" stroke="#229d88" stroke-width="2.6" stroke-opacity="0.5" stroke-linecap="round"/>
<line x1="190.2" y1="268.4" x2="203.8" y2="262.7" stroke="#22a485" stroke-width="3.3" stroke-opacity="0.5" stroke-linecap="round"/>
<line x1="199.6" y1="354.1" x2="206.7" y2="351.7" stroke="#7fd24e" stroke-width="2.6" stroke-opacity="0.5" stroke-linecap="round"/>
<line x1="439.9" y1="287.4" x2="448.9" y2="284.4" stroke="#2e708e" stroke-width="3.5" stroke-opacity="0.5" stroke-linecap="round"/>
<line x1="278.2" y1="315.9" x2="294.4" y2="309.4" stroke="#22a087" stroke-width="2.5" stroke-opacity="0.5" stroke-linecap="round"/>
<line x1="403.4" y1="245.7" x2="414.8" y2="239.9" stroke="#21958b" stroke-width="3.5" stroke-opacity="0.5" stroke-linecap="round"/>
<line x1="295.5" y1="380.4" x2="304.4" y2="376.5" stroke="#22a685" stroke-width="3.0" stroke-opacity="0.5" stroke-linecap="round"/>
<line x1="412.5" y1="318.9" x2="423.1" y2="315.5" stroke="#2f6c8e" stroke-width="3.1" stroke-opacity="0.5" stroke-linecap="round"/>
<line x1="186.8" y1="341.8" x2="198.1" y2="338.2" stroke="#7dd24f" stroke-width="3.1" stroke-opacity="0.5" stroke-linecap="round"/>
<line x1="346.4" y1="290.2" x2="358.3" y2="285.8" stroke="#25858d" stroke-width="2.9" stroke-opacity="0.5" stroke-linecap="round"/>
<line x1="269.4" y1="415.0" x2="276.6" y2="412.6" stroke="#287d8e" stroke-width="3.0" stroke-opacity="0.5" stroke-linecap="round"/>
<line x1="293.5" y1="368.2" x2="309.3" y2="362.6" stroke="#26838d" stroke-width="2.2" stroke-opacity="0.5" stroke-linecap="round"/>
<line x1="258.3" y1="240.5" x2="275.0" y2="235.1" stroke="#6bcc59" stroke-width="3.0" stroke-opacity="0.5" stroke-linecap="round"/>
<line x1="330.5" y1="221.7" x2="341.2" y2="217.9" stroke="#306a8d" stroke-width="2.6" stroke-opacity="0.5" stroke-linecap="round"/>
<line x1="383.8" y1="272.6" x2="395.8" y2="267.5" stroke="#2b778e" stroke-width="3.1" stroke-opacity="0.5" stroke-linecap="round"/>
<line x1="396.0" y1="352.7" x2="406.7" y2="349.4" stroke="#3a538a" stroke-width="3.2" stroke-opacity="0.5" stroke-linecap="round"/>
<line x1="244.6" y1="245.7" x2="257.3" y2="241.4" stroke="#229d88" stroke-width="2.7" stroke-opacity="0.5" stroke-linecap="round"/>
<line x1="205.1" y1="319.3" x2="220.2" y2="312.2" stroke="#3cb975" stroke-width="2.4" stroke-opacity="0.5" stroke-linecap="round"/>
<line x1="254.5" y1="223.1" x2="264.0" y2="219.1" stroke="#248a8d" stroke-width="3.5" stroke-opacity="0.5" stroke-linecap="round"/>
<line x1="218.7" y1="276.4" x2="234.5" y2="269.0" stroke="#d8e226" stroke-width="2.8" stroke-opacity="0.5" stroke-linecap="round"/>
<line x1="196.1" y1="266.1" x2="206.5" y2="261.7" stroke="#24a983" stroke-width="2.6" stroke-opacity="0.5" stroke-linecap="round"/>
<line x1="223.5" y1="401.0" x2="234.9" y2="397.2" stroke="#24888d" stroke-width="3.3" stroke-opacity="0.5" stroke-linecap="round"/>
<line x1="255.3" y1="243.6" x2="269.5" y2="237.8" stroke="#21978a" stroke-width="3.1" stroke-opacity="0.5" stroke-linecap="round"/>
<line x1="381.0" y1="269.3" x2="391.5" y2="265.9" stroke="#2b758e" stroke-width="2.6" stroke-opacity="0.5" stroke-linecap="round"/>
<line x1="345.9" y1="266.0" x2="359.7" y2="259.1" stroke="#27808d" stroke-width="3.0" stroke-opacity="0.5" stroke-linecap="round"/>
<line x1="266.5" y1="407.5" x2="275.5" y2="403.4" stroke="#26ab81" stroke-width="3.0" stroke-opacity="0.5" stroke-linecap="round"/>
<line x1="381.3" y1="353.0" x2="392.2" y2="349.3" stroke="#24888d" stroke-width="2.6" stroke-opacity="0.5" stroke-linecap="round"/>
<line x1="350.0" y1="413.2" x2="363.2" y2="408.4" stroke="#3b528a" stroke-width="2.8" stroke-opacity="0.5" stroke-linecap="round"/>
<line x1="434.9" y1="366.4" x2="444.8" y2="362.2" stroke="#433981" stroke-width="2.7" stroke-opacity="0.5" stroke-linecap="round"/>
<line x1="218.3" y1="393.3" x2="230.2" y2="388.5" stroke="#238b8d" stroke-width="3.5" stroke-opacity="0.5" stroke-linecap="round"/>
<line x1="203.3" y1="282.5" x2="210.5" y2="279.5" stroke="#3dbb74" stroke-width="3.4" stroke-opacity="0.5" stroke-linecap="round"/>
<line x1="356.7" y1="332.2" x2="367.3" y2="328.0" stroke="#22a286" stroke-width="3.4" stroke-opacity="0.5" stroke-linecap="round"/>
<line x1="391.3" y1="386.4" x2="399.4" y2="383.4" stroke="#424085" stroke-width="2.9" stroke-opacity="0.5" stroke-linecap="round"/>
<line x1="422.8" y1="399.0" x2="437.2" y2="394.1" stroke="#462f7b" stroke-width="3.4" stroke-opacity="0.5" stroke-linecap="round"/>
<line x1="202.7" y1="358.5" x2="216.5" y2="353.2" stroke="#78d052" stroke-width="2.3" stroke-opacity="0.5" stroke-linecap="round"/>
<line x1="338.2" y1="383.4" x2="347.2" y2="379.2" stroke="#21908c" stroke-width="2.3" stroke-opacity="0.5" stroke-linecap="round"/>
<line x1="359.0" y1="414.8" x2="373.5" y2="408.5" stroke="#3e4c89" stroke-width="2.3" stroke-opacity="0.5" stroke-linecap="round"/>
<line x1="405.7" y1="279.6" x2="412.3" y2="277.1" stroke="#22a286" stroke-width="2.6" stroke-opacity="0.5" stroke-linecap="round"/>
<line x1="182.0" y1="304.7" x2="194.4" y2="300.5" stroke="#8cd545" stroke-width="3.4" stroke-opacity="0.5" stroke-linecap="round"/>
<line x1="196.7" y1="258.7" x2="209.5" y2="253.1" stroke="#99d73d" stroke-width="3.0" stroke-opacity="0.5" stroke-linecap="round"/>
<line x1="227.5" y1="377.0" x2="236.3" y2="374.1" stroke="#21938b" stroke-width="3.0" stroke-opacity="0.5" stroke-linecap="round"/>
<line x1="173.8" y1="373.8" x2="180.5" y2="371.1" stroke="#4fc36a" stroke-width="2.3" stroke-opacity="0.5" stroke-linecap="round"/>
<line x1="345.8" y1="362.7" x2="358.2" y2="357.5" stroke="#31698d" stroke-width="3.0" stroke-opacity="0.5" stroke-linecap="round"/>
<line x1="229.9" y1="392.5" x2="246.9" y2="386.6" stroke="#238a8d" stroke-width="2.7" stroke-opacity="0.5" stroke-linecap="round"/>
<line x1="448.1" y1="226.8" x2="459.1" y2="221.5" stroke="#21938b" stroke-width="3.2" stroke-opacity="0.5" stroke-linecap="round"/>
<line x1="368.3" y1="306.6" x2="378.1" y2="302.0" stroke="#2bae7f" stroke-width="2.6" stroke-opacity="0.5" stroke-linecap="round"/>
<line x1="220.7" y1="365.1" x2="232.4" y2="360.2" stroke="#79d152" stroke-width="3.2" stroke-opacity="0.5" stroke-linecap="round"/>
<line x1="221.5" y1="267.2" x2="233.8" y2="262.7" stroke="#34b479" stroke-width="3.2" stroke-opacity="0.5" stroke-linecap="round"/>
<line x1="437.2" y1="403.3" x2="451.2" y2="398.3" stroke="#35608d" stroke-width="2.5" stroke-opacity="0.5" stroke-linecap="round"/>
<line x1="168.7" y1="391.6" x2="182.7" y2="386.3" stroke="#46c06f" stroke-width="2.7" stroke-opacity="0.5" stroke-linecap="round"/>
<line x1="212.0" y1="343.5" x2="228.3" y2="336.2" stroke="#a8db34" stroke-width="2.4" stroke-opacity="0.5" stroke-linecap="round"/>
<line x1="267.0" y1="399.0" x2="281.6" y2="392.9" stroke="#29ad80" stroke-width="2.3" stroke-opacity="0.5" stroke-linecap="round"/>
<line x1="209.2" y1="373.7" x2="220.8" y2="370.1" stroke="#21928c" stroke-width="3.3" stroke-opacity="0.5" stroke-linecap="round"/>
<line x1="301.7" y1="383.0" x2="309.2" y2="379.3" stroke="#2b778e" stroke-width="2.9" stroke-opacity="0.5" stroke-linecap="round"/>
<line x1="225.1" y1="264.4" x2="231.9" y2="262.2" stroke="#32b37a" stroke-width="3.5" stroke-opacity="0.5" stroke-linecap="round"/>
<line x1="446.4" y1="302.8" x2="460.3" y2="296.9" stroke="#2f6c8e" stroke-width="3.4" stroke-opacity="0.5" stroke-linecap="round"/>
<line x1="203.4" y1="214.7" x2="212.1" y2="211.3" stroke="#59c664" stroke-width="2.2" stroke-opacity="0.5" stroke-linecap="round"/>
<line x1="403.3" y1="375.5" x2="414.1" y2="370.1" stroke="#424085" stroke-width="2.9" stroke-opacity="0.5" stroke-linecap="round"/>
<line x1="185.4" y1="279.3" x2="198.6" y2="274.9" stroke="#93d641" stroke-width="3.1" stroke-opacity="0.5" stroke-linecap="round"/>
<line x1="224.0" y1="262.6" x2="239.6" y2="256.0" stroke="#bedf26" stroke-width="3.0" stroke-opacity="0.5" stroke-linecap="round"/>
<line x1="201.2" y1="253.6" x2="212.4" y2="249.2" stroke="#22a485" stroke-width="3.2" stroke-opacity="0.5" stroke-linecap="round"/>
<line x1="291.2" y1="226.1" x2="304.6" y2="219.4" stroke="#27ac81" stroke-width="2.8" stroke-opacity="0.5" stroke-linecap="round"/>
<line x1="358.1" y1="360.5" x2="367.1" y2="357.1" stroke="#33638d" stroke-width="2.9" stroke-opacity="0.5" stroke-linecap="round"/>
<line x1="205.7" y1="401.1" x2="217.9" y2="395.0" stroke="#4dc26b" stroke-width="3.6" stroke-opacity="0.5" stroke-linecap="round"/>
<line x1="230.6" y1="293.6" x2="245.5" y2="288.6" stroke="#4ac16c" stroke-width="3.2" stroke-opacity="0.5" stroke-linecap="round"/>
<line x1="176.0" y1="231.5" x2="192.8" y2="225.7" stroke="#51c369" stroke-width="2.3" stroke-opacity="0.5" stroke-linecap="round"/>
<line x1="234.0" y1="405.6" x2="242.8" y2="402.3" stroke="#26838d" stroke-width="3.1" stroke-opacity="0.5" stroke-linecap="round"/>
<line x1="428.8" y1="266.7" x2="436.6" y2="262.8" stroke="#306b8d" stroke-width="2.3" stroke-opacity="0.5" stroke-linecap="round"/>
<line x1="444.3" y1="359.7" x2="452.9" y2="356.7" stroke="#2f6c8e" stroke-width="2.9" stroke-opacity="0.5" stroke-linecap="round"/>
<line x1="195.4" y1="375.7" x2="211.3" y2="370.5" stroke="#5dc762" stroke-width="3.4" stroke-opacity="0.5" stroke-linecap="round"/>
<line x1="324.5" y1="382.8" x2="336.3" y2="378.4" stroke="#306b8d" stroke-width="3.3" stroke-opacity="0.5" stroke-linecap="round"/>
<line x1="187.3" y1="223.3" x2="199.1" y2="218.0" stroke="#55c566" stroke-width="2.2" stroke-opacity="0.5" stroke-linecap="round"/>
<line x1="378.8" y1="217.0" x2="394.1" y2="211.8" stroke="#21938b" stroke-width="2.4" stroke-opacity="0.5" stroke-linecap="round"/>
<line x1="351.6" y1="255.1" x2="362.1" y2="250.0" stroke="#2b758e" stroke-width="3.0" stroke-opacity="0.5" stroke-linecap="round"/>
<line x1="266.2" y1="231.6" x2="280.4" y2="226.8" stroke="#248a8d" stroke-width="2.3" stroke-opacity="0.5" stroke-linecap="round"/>
<line x1="270.5" y1="275.0" x2="284.4" y2="268.3" stroke="#229f87" stroke-width="3.6" stroke-opacity="0.5" stroke-linecap="round"/>
<line x1="385.6" y1="213.4" x2="392.7" y2="210.0" stroke="#32678d" stroke-width="3.0" stroke-opacity="0.5" stroke-linecap="round"/>
<line x1="314.3" y1="306.8" x2="325.0" y2="302.7" stroke="#228f8c" stroke-width="3.5" stroke-opacity="0.5" stroke-linecap="round"/>
<line x1="375.3" y1="377.7" x2="391.4" y2="372.2" stroke="#3c4e89" stroke-width="2.2" stroke-opacity="0.5" stroke-linecap="round"/>
<line x1="360.4" y1="388.8" x2="371.6" y2="385.1" stroke="#27808d" stroke-width="3.5" stroke-opacity="0.5" stroke-linecap="round"/>
<line x1="291.8" y1="359.0" x2="300.7" y2="355.0" stroke="#40bc73" stroke-width="2.7" stroke-opacity="0.5" stroke-linecap="round"/>
<line x1="192.2" y1="304.1" x2="208.9" y2="297.9" stroke="#2fb07d" stroke-width="3.3" stroke-opacity="0.5" stroke-linecap="round"/>
<line x1="405.2" y1="418.8" x2="419.1" y2="412.5" stroke="#32658d" stroke-width="2.8" stroke-opacity="0.5" stroke-linecap="round"/>
<line x1="171.0" y1="260.0" x2="187.0" y2="254.9" stroke="#5ec861" stroke-width="3.3" stroke-opacity="0.5" stroke-linecap="round"/>
<line x1="387.4" y1="397.1" x2="402.0" y2="391.3" stroke="#2e708e" stroke-width="3.4" stroke-opacity="0.5" stroke-linecap="round"/>
<line x1="255.0" y1="342.4" x2="265.3" y2="338.3" stroke="#22a286" stroke-width="2.4" stroke-opacity="0.5" stroke-linecap="round"/>
<line x1="317.4" y1="347.2" x2="329.7" y2="343.3" stroke="#28ac81" stroke-width="3.5" stroke-opacity="0.5" stroke-linecap="round"/>
<line x1="363.0" y1="413.2" x2="370.2" y2="409.9" stroke="#2a788e" stroke-width="3.5" stroke-opacity="0.5" stroke-linecap="round"/>
<line x1="168.9" y1="266.1" x2="183.1" y2="261.7" stroke="#5fc861" stroke-width="2.8" stroke-opacity="0.5" stroke-linecap="round"/>
<line x1="362.1" y1="355.7" x2="376.5" y2="350.6" stroke="#21908c" stroke-width="2.6" stroke-opacity="0.5" stroke-linecap="round"/>
<line x1="172.9" y1="355.8" x2="181.4" y2="351.9" stroke="#238b8c" stroke-width="3.1" stroke-opacity="0.5" stroke-linecap="round"/>
<line x1="334.7" y1="348.5" x2="347.4" y2="343.8" stroke="#22a286" stroke-width="2.3" stroke-opacity="0.5" stroke-linecap="round"/>
<line x1="184.2" y1="215.0" x2="194.1" y2="210.3" stroke="#4ac16d" stroke-width="2.9" stroke-opacity="0.5" stroke-linecap="round"/>
<line x1="443.3" y1="355.0" x2="452.7" y2="351.7" stroke="#2d718e" stroke-width="2.3" stroke-opacity="0.5" stroke-linecap="round"/>
<line x1="252.0" y1="297.1" x2="265.5" y2="291.5" stroke="#31b27b" stroke-width="2.3" stroke-opacity="0.5" stroke-linecap="round"/>
<line x1="432.6" y1="283.2" x2="447.0" y2="276.0" stroke="#2d708e" stroke-width="2.5" stroke-opacity="0.5" stroke-linecap="round"/>
<line x1="410.4" y1="379.0" x2="423.5" y2="373.1" stroke="#2f6c8e" stroke-width="2.5" stroke-opacity="0.5" stroke-linecap="round"/>
<line x1="424.7" y1="244.9" x2="438.0" y2="239.7" stroke="#31678d" stroke-width="2.5" stroke-opacity="0.5" stroke-linecap="round"/>
<line x1="206.2" y1="232.2" x2="222.6" y2="225.2" stroke="#21968a" stroke-width="3.0" stroke-opacity="0.5" stroke-linecap="round"/>
<line x1="229.1" y1="225.5" x2="235.9" y2="223.2" stroke="#6dcd58" stroke-width="3.5" stroke-opacity="0.5" stroke-linecap="round"/>
<line x1="269.4" y1="362.3" x2="277.4" y2="359.5" stroke="#54c467" stroke-width="2.7" stroke-opacity="0.5" stroke-linecap="round"/>
<line x1="315.1" y1="235.2" x2="324.3" y2="232.0" stroke="#22a485" stroke-width="2.7" stroke-opacity="0.5" stroke-linecap="round"/>
<line x1="384.5" y1="258.6" x2="392.8" y2="254.8" stroke="#219a89" stroke-width="2.7" stroke-opacity="0.5" stroke-linecap="round"/>
<line x1="349.1" y1="310.1" x2="363.9" y2="302.7" stroke="#27808d" stroke-width="3.4" stroke-opacity="0.5" stroke-linecap="round"/>
<line x1="232.4" y1="218.1" x2="243.0" y2="213.0" stroke="#61c95f" stroke-width="3.2" stroke-opacity="0.5" stroke-linecap="round"/>
<line x1="191.9" y1="236.5" x2="203.0" y2="231.3" stroke="#6acc5a" stroke-width="2.8" stroke-opacity="0.5" stroke-linecap="round"/>
<line x1="199.0" y1="226.1" x2="209.1" y2="222.0" stroke="#21918c" stroke-width="3.0" stroke-opacity="0.5" stroke-linecap="round"/>
<line x1="185.5" y1="258.3" x2="199.7" y2="252.7" stroke="#219a89" stroke-width="3.5" stroke-opacity="0.5" stroke-linecap="round"/>
<line x1="411.2" y1="234.9" x2="427.4" y2="228.4" stroke="#21938b" stroke-width="2.4" stroke-opacity="0.5" stroke-linecap="round"/>
<line x1="413.2" y1="256.2" x2="420.4" y2="252.9" stroke="#30698d" stroke-width="2.8" stroke-opacity="0.5" stroke-linecap="round"/>
<line x1="374.9" y1="227.5" x2="385.9" y2="222.6" stroke="#21938b" stroke-width="3.1" stroke-opacity="0.5" stroke-linecap="round"/>
<line x1="268.7" y1="236.9" x2="285.2" y2="230.2" stroke="#5bc763" stroke-width="2.2" stroke-opacity="0.5" stroke-linecap="round"/>
<line x1="352.4" y1="319.0" x2="359.1" y2="316.3" stroke="#26838d" stroke-width="3.0" stroke-opacity="0.5" stroke-linecap="round"/>
<line x1="232.2" y1="315.8" x2="245.0" y2="311.0" stroke="#e5e425" stroke-width="3.3" stroke-opacity="0.5" stroke-linecap="round"/>
<line x1="436.4" y1="366.0" x2="451.5" y2="359.5" stroke="#433981" stroke-width="2.5" stroke-opacity="0.5" stroke-linecap="round"/>
<line x1="230.1" y1="336.4" x2="245.3" y2="328.9" stroke="#c4e026" stroke-width="2.3" stroke-opacity="0.5" stroke-linecap="round"/>
<line x1="291.0" y1="241.2" x2="299.6" y2="238.2" stroke="#26838d" stroke-width="3.5" stroke-opacity="0.5" stroke-linecap="round"/>
<line x1="280.4" y1="353.3" x2="287.2" y2="351.1" stroke="#55c566" stroke-width="2.9" stroke-opacity="0.5" stroke-linecap="round"/>
<line x1="311.8" y1="409.2" x2="323.7" y2="405.6" stroke="#306a8d" stroke-width="2.5" stroke-opacity="0.5" stroke-linecap="round"/>
<line x1="404.3" y1="254.0" x2="421.0" y2="247.1" stroke="#21968a" stroke-width="3.5" stroke-opacity="0.5" stroke-linecap="round"/>
<line x1="257.4" y1="296.7" x2="267.5" y2="292.9" stroke="#b4dd2c" stroke-width="2.7" stroke-opacity="0.5" stroke-linecap="round"/>
<line x1="211.5" y1="384.2" x2="218.1" y2="381.7" stroke="#5cc762" stroke-width="2.8" stroke-opacity="0.5" stroke-linecap="round"/>
<line x1="326.3" y1="360.0" x2="334.0" y2="356.5" stroke="#22a186" stroke-width="3.5" stroke-opacity="0.5" stroke-linecap="round"/>
<line x1="207.8" y1="240.5" x2="219.7" y2="235.9" stroke="#219c88" stroke-width="2.3" stroke-opacity="0.5" stroke-linecap="round"/>
<line x1="232.2" y1="246.8" x2="244.7" y2="241.7" stroke="#91d642" stroke-width="3.4" stroke-opacity="0.5" stroke-linecap="round"/>
<line x1="354.9" y1="390.9" x2="370.9" y2="383.7" stroke="#39558b" stroke-width="2.8" stroke-opacity="0.5" stroke-linecap="round"/>
<line x1="179.8" y1="402.3" x2="187.1" y2="398.6" stroke="#45bf6f" stroke-width="2.6" stroke-opacity="0.5" stroke-linecap="round"/>
<line x1="442.5" y1="393.1" x2="453.3" y2="388.8" stroke="#462d7a" stroke-width="3.3" stroke-opacity="0.5" stroke-linecap="round"/>
<line x1="352.5" y1="318.7" x2="360.1" y2="315.2" stroke="#26838d" stroke-width="3.0" stroke-opacity="0.5" stroke-linecap="round"/>
<line x1="394.9" y1="398.9" x2="410.8" y2="391.5" stroke="#2f6c8e" stroke-width="3.5" stroke-opacity="0.5" stroke-linecap="round"/>
<line x1="328.7" y1="249.8" x2="342.0" y2="243.7" stroke="#23a983" stroke-width="2.7" stroke-opacity="0.5" stroke-linecap="round"/>
<line x1="315.3" y1="352.9" x2="322.7" y2="350.3" stroke="#277f8d" stroke-width="2.9" stroke-opacity="0.5" stroke-linecap="round"/>
<line x1="357.9" y1="378.3" x2="364.5" y2="375.6" stroke="#38598c" stroke-width="3.2" stroke-opacity="0.5" stroke-linecap="round"/>
<line x1="350.8" y1="249.5" x2="367.4" y2="243.7" stroke="#229d88" stroke-width="2.8" stroke-opacity="0.5" stroke-linecap="round"/>
<line x1="439.9" y1="255.1" x2="450.9" y2="251.7" stroke="#31688d" stroke-width="2.5" stroke-opacity="0.5" stroke-linecap="round"/>
<line x1="376.0" y1="286.8" x2="389.5" y2="282.1" stroke="#2cae7e" stroke-width="2.5" stroke-opacity="0.5" stroke-linecap="round"/>
<line x1="226.7" y1="267.3" x2="233.4" y2="264.1" stroke="#c7e026" stroke-width="2.8" stroke-opacity="0.5" stroke-linecap="round"/>
<line x1="187.3" y1="333.1" x2="203.5" y2="326.8" stroke="#8cd546" stroke-width="3.2" stroke-opacity="0.5" stroke-linecap="round"/>
<line x1="290.5" y1="248.5" x2="301.5" y2="242.9" stroke="#24898d" stroke-width="2.4" stroke-opacity="0.5" stroke-linecap="round"/>
<line x1="271.1" y1="412.2" x2="285.7" y2="407.3" stroke="#287d8e" stroke-width="3.1" stroke-opacity="0.5" stroke-linecap="round"/>
<line x1="367.3" y1="413.0" x2="375.9" y2="410.0" stroke="#2b768e" stroke-width="2.6" stroke-opacity="0.5" stroke-linecap="round"/>
<line x1="400.8" y1="337.0" x2="416.3" y2="331.9" stroke="#355f8d" stroke-width="2.5" stroke-opacity="0.5" stroke-linecap="round"/>
<line x1="169.3" y1="323.2" x2="183.0" y2="317.1" stroke="#66ca5c" stroke-width="2.2" stroke-opacity="0.5" stroke-linecap="round"/>
<line x1="214.7" y1="356.7" x2="221.1" y2="353.8" stroke="#87d449" stroke-width="3.2" stroke-opacity="0.5" stroke-linecap="round"/>
<line x1="448.3" y1="216.0" x2="456.2" y2="213.5" stroke="#32668d" stroke-width="2.4" stroke-opacity="0.5" stroke-linecap="round"/>
<line x1="261.2" y1="320.6" x2="270.9" y2="316.6" stroke="#a9db33" stroke-width="2.6" stroke-opacity="0.5" stroke-linecap="round"/>
<line x1="180.8" y1="229.5" x2="188.7" y2="225.6" stroke="#248a8d" stroke-width="3.2" stroke-opacity="0.5" stroke-linecap="round"/>
<line x1="240.5" y1="376.7" x2="254.2" y2="370.7" stroke="#5fc860" stroke-width="2.5" stroke-opacity="0.5" stroke-linecap="round"/>
<line x1="431.6" y1="328.6" x2="438.4" y2="325.3" stroke="#355e8d" stroke-width="2.7" stroke-opacity="0.5" stroke-linecap="round"/>
<line x1="370.8" y1="259.7" x2="385.7" y2="254.6" stroke="#229d88" stroke-width="3.0" stroke-opacity="0.5" stroke-linecap="round"/>
<line x1="219.9" y1="359.2" x2="234.9" y2="354.0" stroke="#85d34a" stroke-width="2.3" stroke-opacity="0.5" stroke-linecap="round"/>
<line x1="355.4" y1="329.5" x2="363.1" y2="325.9" stroke="#2a798e" stroke-width="2.4" stroke-opacity="0.5" stroke-linecap="round"/>
<line x1="346.9" y1="262.1" x2="356.0" y2="258.3" stroke="#287d8e" stroke-width="3.2" stroke-opacity="0.5" stroke-linecap="round"/>
<line x1="173.9" y1="362.7" x2="182.5" y2="358.8" stroke="#24898d" stroke-width="3.2" stroke-opacity="0.5" stroke-linecap="round"/>
<line x1="341.4" y1="399.6" x2="349.9" y2="395.8" stroke="#375c8c" stroke-width="2.6" stroke-opacity="0.5" stroke-linecap="round"/>
<line x1="210.2" y1="259.1" x2="224.8" y2="254.1" stroke="#26ab82" stroke-width="3.5" stroke-opacity="0.5" stroke-linecap="round"/>
<line x1="393.0" y1="276.4" x2="402.8" y2="272.9" stroke="#22a386" stroke-width="3.1" stroke-opacity="0.5" stroke-linecap="round"/>
<line x1="190.6" y1="222.2" x2="202.0" y2="216.8" stroke="#238b8c" stroke-width="3.4" stroke-opacity="0.5" stroke-linecap="round"/>
<line x1="297.5" y1="253.1" x2="305.2" y2="250.0" stroke="#24898d" stroke-width="2.7" stroke-opacity="0.5" stroke-linecap="round"/>
<line x1="370.6" y1="322.1" x2="384.5" y2="315.3" stroke="#22a485" stroke-width="2.7" stroke-opacity="0.5" stroke-linecap="round"/>
<line x1="303.8" y1="264.5" x2="316.8" y2="258.5" stroke="#5dc762" stroke-width="2.9" stroke-opacity="0.5" stroke-linecap="round"/>
<line x1="369.4" y1="372.2" x2="379.7" y2="368.0" stroke="#39558b" stroke-width="3.5" stroke-opacity="0.5" stroke-linecap="round"/>
<line x1="342.6" y1="233.8" x2="353.8" y2="229.6" stroke="#21988a" stroke-width="2.3" stroke-opacity="0.5" stroke-linecap="round"/>
<line x1="446.6" y1="401.2" x2="454.4" y2="398.0" stroke="#472b79" stroke-width="2.6" stroke-opacity="0.5" stroke-linecap="round"/>
<line x1="184.7" y1="368.1" x2="199.0" y2="362.2" stroke="#5ac663" stroke-width="2.8" stroke-opacity="0.5" stroke-linecap="round"/>
<line x1="192.0" y1="412.4" x2="198.9" y2="409.3" stroke="#26828d" stroke-width="2.4" stroke-opacity="0.5" stroke-linecap="round"/>
<line x1="195.6" y1="226.7" x2="203.8" y2="223.4" stroke="#21908c" stroke-width="2.4" stroke-opacity="0.5" stroke-linecap="round"/>
<line x1="214.8" y1="371.1" x2="225.6" y2="366.4" stroke="#6ecd58" stroke-width="2.5" stroke-opacity="0.5" stroke-linecap="round"/>
<line x1="443.9" y1="236.3" x2="453.2" y2="233.0" stroke="#32678d" stroke-width="3.5" stroke-opacity="0.5" stroke-linecap="round"/>
<line x1="300.7" y1="410.9" x2="313.1" y2="405.4" stroke="#219b89" stroke-width="3.2" stroke-opacity="0.5" stroke-linecap="round"/>
<line x1="375.7" y1="239.0" x2="384.4" y2="236.2" stroke="#21948b" stroke-width="3.3" stroke-opacity="0.5" stroke-linecap="round"/>
<line x1="262.3" y1="263.6" x2="271.3" y2="259.8" stroke="#22a187" stroke-width="2.4" stroke-opacity="0.5" stroke-linecap="round"/>
</g>
</g>
<polygon points="217.0,224.0 226.0,221.0 235.0,224.0 236.0,232.0 229.0,238.0 220.0,236.0" fill="#440154"/>
<polygon points="250.0,214.0 262.0,212.0 278.0,213.0 281.0,221.0 270.0,226.0 255.0,224.0" fill="#440154"/>
<polygon points="290.0,222.0 300.0,220.0 301.0,231.0 292.0,230.0" fill="#440154"/>
<polygon points="178.0,252.0 195.0,249.0 215.0,251.0 214.0,257.0 200.0,260.0 184.0,262.0" fill="#440154"/>
<polygon points="187.0,306.0 200.0,303.0 214.0,304.0 212.0,309.0 198.0,313.0 188.0,314.0" fill="#440154"/>
<polygon points="183.0,397.0 195.0,393.0 208.0,398.0 210.0,414.0 185.0,414.0" fill="#440154"/>
<polygon points="178.0,330.0 186.0,328.0 188.0,350.0 181.0,352.0" fill="#440154"/>
<polygon points="346.0,212.0 350.0,212.0 349.0,214.0" fill="#440154"/>
<ellipse cx="182.5" cy="312" rx="3.8" ry="17" fill="#440154" transform="rotate(12 182.5 312)"/>
<ellipse cx="186.5" cy="350" rx="2.4" ry="15" fill="#440154" transform="rotate(6 186.5 350)"/>
<ellipse cx="189" cy="384" rx="2" ry="12" fill="#440154" transform="rotate(0 189 384)"/>
<ellipse cx="180" cy="290" rx="2.5" ry="8" fill="#440154" transform="rotate(20 180 290)"/>
<g clip-path="url(#hmclip)"><ellipse cx="197.7" cy="394.4" rx="0.8" ry="3.8" fill="#28ac81" transform="rotate(-9 197.7 394.4)"/><ellipse cx="175.3" cy="340.4" rx="1.3" ry="1.8" fill="#24898d" transform="rotate(-8 175.3 340.4)"/><ellipse cx="177.8" cy="336.9" rx="0.6" ry="3.9" fill="#22a186" transform="rotate(-15 177.8 336.9)"/><ellipse cx="176.6" cy="362.2" rx="1.2" ry="4.0" fill="#22a286" transform="rotate(-9 176.6 362.2)"/><ellipse cx="177.7" cy="344.9" rx="1.3" ry="2.7" fill="#24a983" transform="rotate(-15 177.7 344.9)"/><ellipse cx="161.3" cy="386.9" rx="0.7" ry="2.6" fill="#22a685" transform="rotate(-16 161.3 386.9)"/><ellipse cx="188.3" cy="402.3" rx="1.5" ry="3.3" fill="#21978a" transform="rotate(0 188.3 402.3)"/><ellipse cx="195.0" cy="395.5" rx="0.7" ry="2.6" fill="#22a486" transform="rotate(-6 195.0 395.5)"/><ellipse cx="172.2" cy="361.7" rx="1.6" ry="2.8" fill="#22a585" transform="rotate(-2 172.2 361.7)"/><ellipse cx="171.5" cy="373.3" rx="1.1" ry="2.5" fill="#d6e226" transform="rotate(-14 171.5 373.3)"/><ellipse cx="167.2" cy="351.5" rx="0.8" ry="3.1" fill="#219a89" transform="rotate(9 167.2 351.5)"/><ellipse cx="178.3" cy="395.7" rx="1.3" ry="3.5" fill="#21928c" transform="rotate(-12 178.3 395.7)"/><ellipse cx="199.9" cy="399.8" rx="0.8" ry="3.3" fill="#24898d" transform="rotate(8 199.9 399.8)"/><ellipse cx="167.6" cy="386.6" rx="1.0" ry="3.2" fill="#228d8c" transform="rotate(2 167.6 386.6)"/><ellipse cx="195.0" cy="410.7" rx="1.1" ry="3.4" fill="#22a087" transform="rotate(-17 195.0 410.7)"/><ellipse cx="183.3" cy="394.0" rx="1.1" ry="3.3" fill="#238d8c" transform="rotate(-18 183.3 394.0)"/><ellipse cx="163.1" cy="343.3" rx="1.0" ry="3.1" fill="#228e8c" transform="rotate(13 163.1 343.3)"/><ellipse cx="158.4" cy="334.2" rx="0.8" ry="2.4" fill="#228f8c" transform="rotate(11 158.4 334.2)"/><ellipse cx="177.5" cy="382.5" rx="1.5" ry="1.9" fill="#238c8c" transform="rotate(-5 177.5 382.5)"/><ellipse cx="179.0" cy="341.5" rx="0.7" ry="2.8" fill="#21978a" transform="rotate(2 179.0 341.5)"/><ellipse cx="185.7" cy="393.2" rx="0.7" ry="3.5" fill="#22a486" transform="rotate(-16 185.7 393.2)"/><ellipse cx="171.2" cy="372.5" rx="1.4" ry="1.7" fill="#229f87" transform="rotate(-22 171.2 372.5)"/><ellipse cx="180.5" cy="388.6" rx="1.1" ry="3.5" fill="#24888d" transform="rotate(4 180.5 388.6)"/><ellipse cx="185.8" cy="367.6" rx="0.8" ry="3.4" fill="#22a386" transform="rotate(-9 185.8 367.6)"/><ellipse cx="171.0" cy="309.8" rx="1.5" ry="3.5" fill="#219a89" transform="rotate(-4 171.0 309.8)"/><ellipse cx="179.7" cy="414.1" rx="1.1" ry="1.9" fill="#25858d" transform="rotate(8 179.7 414.1)"/><ellipse cx="191.4" cy="391.0" rx="0.9" ry="3.3" fill="#219889" transform="rotate(-6 191.4 391.0)"/><ellipse cx="174.4" cy="351.0" rx="1.4" ry="2.3" fill="#24888d" transform="rotate(-13 174.4 351.0)"/><ellipse cx="165.1" cy="352.9" rx="0.9" ry="2.5" fill="#228f8c" transform="rotate(-17 165.1 352.9)"/><ellipse cx="151.0" cy="334.9" rx="1.5" ry="2.6" fill="#229f87" transform="rotate(6 151.0 334.9)"/><ellipse cx="162.6" cy="335.6" rx="1.0" ry="3.2" fill="#c9e026" transform="rotate(1 162.6 335.6)"/><ellipse cx="176.3" cy="374.1" rx="1.5" ry="2.4" fill="#248a8d" transform="rotate(14 176.3 374.1)"/><ellipse cx="175.4" cy="355.6" rx="1.5" ry="4.0" fill="#229d88" transform="rotate(-20 175.4 355.6)"/><ellipse cx="176.1" cy="392.2" rx="1.1" ry="1.7" fill="#238c8c" transform="rotate(14 176.1 392.2)"/><ellipse cx="161.1" cy="360.1" rx="0.7" ry="2.6" fill="#21958b" transform="rotate(-23 161.1 360.1)"/><ellipse cx="174.1" cy="408.4" rx="0.8" ry="2.2" fill="#25878d" transform="rotate(11 174.1 408.4)"/><ellipse cx="164.0" cy="359.0" rx="0.6" ry="3.7" fill="#219989" transform="rotate(12 164.0 359.0)"/><ellipse cx="183.8" cy="306.5" rx="0.8" ry="3.2" fill="#21948b" transform="rotate(1 183.8 306.5)"/><ellipse cx="173.6" cy="351.7" rx="1.2" ry="2.2" fill="#22a585" transform="rotate(-22 173.6 351.7)"/><ellipse cx="194.2" cy="413.3" rx="1.1" ry="3.4" fill="#25aa82" transform="rotate(-5 194.2 413.3)"/><ellipse cx="168.3" cy="339.6" rx="1.4" ry="1.7" fill="#219c88" transform="rotate(-3 168.3 339.6)"/><ellipse cx="158.8" cy="359.5" rx="1.4" ry="1.9" fill="#238b8c" transform="rotate(3 158.8 359.5)"/><ellipse cx="190.5" cy="386.2" rx="1.0" ry="2.4" fill="#27ab81" transform="rotate(-23 190.5 386.2)"/><ellipse cx="167.8" cy="290.3" rx="1.6" ry="3.4" fill="#228e8c" transform="rotate(-15 167.8 290.3)"/><ellipse cx="164.3" cy="317.1" rx="0.8" ry="2.2" fill="#24aa83" transform="rotate(4 164.3 317.1)"/><ellipse cx="159.0" cy="328.7" rx="1.5" ry="2.4" fill="#22a286" transform="rotate(11 159.0 328.7)"/><ellipse cx="187.2" cy="350.1" rx="1.0" ry="2.1" fill="#238b8c" transform="rotate(-1 187.2 350.1)"/><ellipse cx="165.6" cy="396.9" rx="0.9" ry="2.4" fill="#25868d" transform="rotate(-24 165.6 396.9)"/><ellipse cx="181.5" cy="404.1" rx="1.3" ry="3.2" fill="#d0e126" transform="rotate(-16 181.5 404.1)"/><ellipse cx="175.0" cy="374.5" rx="1.0" ry="2.4" fill="#21958b" transform="rotate(-23 175.0 374.5)"/><ellipse cx="165.4" cy="402.8" rx="0.7" ry="2.8" fill="#21948b" transform="rotate(14 165.4 402.8)"/><ellipse cx="182.1" cy="311.7" rx="1.1" ry="2.5" fill="#219989" transform="rotate(1 182.1 311.7)"/><ellipse cx="190.5" cy="410.8" rx="0.9" ry="3.7" fill="#22a186" transform="rotate(3 190.5 410.8)"/><ellipse cx="185.9" cy="352.1" rx="0.8" ry="2.3" fill="#219a89" transform="rotate(-20 185.9 352.1)"/><ellipse cx="190.5" cy="388.2" rx="1.0" ry="3.2" fill="#238c8c" transform="rotate(-24 190.5 388.2)"/><ellipse cx="188.8" cy="393.2" rx="1.0" ry="3.0" fill="#28ac81" transform="rotate(-9 188.8 393.2)"/><ellipse cx="158.1" cy="345.9" rx="0.9" ry="1.5" fill="#238b8d" transform="rotate(0 158.1 345.9)"/><ellipse cx="164.5" cy="315.0" rx="0.7" ry="3.7" fill="#24888d" transform="rotate(-18 164.5 315.0)"/><ellipse cx="172.8" cy="281.4" rx="1.6" ry="1.5" fill="#22a585" transform="rotate(7 172.8 281.4)"/><ellipse cx="182.1" cy="303.9" rx="0.7" ry="2.4" fill="#25858d" transform="rotate(-5 182.1 303.9)"/><ellipse cx="166.9" cy="375.3" rx="0.9" ry="3.2" fill="#9ad83c" transform="rotate(-18 166.9 375.3)"/><ellipse cx="172.3" cy="356.6" rx="1.4" ry="3.2" fill="#22a087" transform="rotate(-8 172.3 356.6)"/><ellipse cx="176.1" cy="349.6" rx="1.2" ry="2.6" fill="#229d88" transform="rotate(12 176.1 349.6)"/><ellipse cx="174.0" cy="396.8" rx="0.9" ry="3.1" fill="#219b88" transform="rotate(6 174.0 396.8)"/><ellipse cx="194.7" cy="387.6" rx="1.0" ry="1.8" fill="#21938b" transform="rotate(10 194.7 387.6)"/><ellipse cx="178.6" cy="401.7" rx="1.6" ry="2.0" fill="#22a884" transform="rotate(4 178.6 401.7)"/><ellipse cx="182.9" cy="304.4" rx="1.3" ry="2.7" fill="#24898d" transform="rotate(13 182.9 304.4)"/><ellipse cx="178.2" cy="328.3" rx="1.6" ry="3.2" fill="#21948b" transform="rotate(-13 178.2 328.3)"/><ellipse cx="163.4" cy="375.0" rx="1.2" ry="2.2" fill="#21918c" transform="rotate(9 163.4 375.0)"/><ellipse cx="182.9" cy="370.7" rx="1.0" ry="1.8" fill="#228f8c" transform="rotate(-8 182.9 370.7)"/><ellipse cx="177.1" cy="353.7" rx="1.5" ry="1.7" fill="#21948b" transform="rotate(4 177.1 353.7)"/><ellipse cx="183.3" cy="414.7" rx="1.1" ry="2.5" fill="#228e8c" transform="rotate(15 183.3 414.7)"/><ellipse cx="155.7" cy="329.9" rx="1.0" ry="3.4" fill="#238c8c" transform="rotate(1 155.7 329.9)"/><ellipse cx="178.9" cy="380.2" rx="1.4" ry="3.3" fill="#248a8d" transform="rotate(-6 178.9 380.2)"/><ellipse cx="185.1" cy="376.2" rx="1.1" ry="1.6" fill="#21918c" transform="rotate(14 185.1 376.2)"/><ellipse cx="180.0" cy="394.4" rx="1.0" ry="1.7" fill="#24898d" transform="rotate(12 180.0 394.4)"/><ellipse cx="186.0" cy="345.8" rx="1.0" ry="3.9" fill="#229d88" transform="rotate(13 186.0 345.8)"/><ellipse cx="186.2" cy="358.3" rx="1.3" ry="2.5" fill="#28ac81" transform="rotate(12 186.2 358.3)"/><ellipse cx="169.1" cy="339.0" rx="0.9" ry="3.3" fill="#24898d" transform="rotate(8 169.1 339.0)"/><ellipse cx="181.3" cy="354.0" rx="0.7" ry="2.3" fill="#b2dd2d" transform="rotate(12 181.3 354.0)"/><ellipse cx="183.1" cy="311.5" rx="1.3" ry="2.9" fill="#25878d" transform="rotate(8 183.1 311.5)"/><ellipse cx="172.5" cy="398.0" rx="1.5" ry="3.6" fill="#219b89" transform="rotate(4 172.5 398.0)"/><ellipse cx="181.3" cy="289.2" rx="1.2" ry="4.0" fill="#22a784" transform="rotate(6 181.3 289.2)"/><ellipse cx="167.4" cy="345.6" rx="1.1" ry="2.9" fill="#b2dd2d" transform="rotate(-20 167.4 345.6)"/><ellipse cx="173.1" cy="409.5" rx="0.7" ry="3.7" fill="#7cd24f" transform="rotate(-24 173.1 409.5)"/><ellipse cx="162.8" cy="326.8" rx="1.4" ry="2.2" fill="#219a89" transform="rotate(-12 162.8 326.8)"/><ellipse cx="188.3" cy="352.9" rx="1.4" ry="2.1" fill="#21968a" transform="rotate(15 188.3 352.9)"/><ellipse cx="170.6" cy="390.5" rx="1.1" ry="2.5" fill="#24a983" transform="rotate(-19 170.6 390.5)"/><ellipse cx="184.0" cy="407.7" rx="0.7" ry="3.2" fill="#22a286" transform="rotate(13 184.0 407.7)"/><ellipse cx="185.2" cy="308.6" rx="0.8" ry="3.5" fill="#229f87" transform="rotate(-6 185.2 308.6)"/><ellipse cx="172.8" cy="331.2" rx="1.1" ry="2.2" fill="#229e87" transform="rotate(-7 172.8 331.2)"/><ellipse cx="179.9" cy="411.0" rx="1.0" ry="1.7" fill="#228e8c" transform="rotate(8 179.9 411.0)"/><ellipse cx="171.4" cy="345.1" rx="1.4" ry="2.8" fill="#228d8c" transform="rotate(-16 171.4 345.1)"/><ellipse cx="184.3" cy="378.1" rx="1.4" ry="3.1" fill="#21978a" transform="rotate(-8 184.3 378.1)"/><ellipse cx="147.1" cy="343.9" rx="0.7" ry="2.5" fill="#24898d" transform="rotate(13 147.1 343.9)"/><ellipse cx="167.3" cy="383.5" rx="1.2" ry="2.1" fill="#28ac80" transform="rotate(-17 167.3 383.5)"/><ellipse cx="184.7" cy="408.3" rx="1.2" ry="2.8" fill="#238c8c" transform="rotate(0 184.7 408.3)"/><ellipse cx="188.5" cy="379.8" rx="1.1" ry="3.2" fill="#22a685" transform="rotate(9 188.5 379.8)"/><ellipse cx="178.1" cy="413.2" rx="0.8" ry="3.0" fill="#27ab81" transform="rotate(-11 178.1 413.2)"/><ellipse cx="177.6" cy="396.4" rx="0.7" ry="1.6" fill="#238c8c" transform="rotate(-14 177.6 396.4)"/><ellipse cx="181.4" cy="373.9" rx="1.1" ry="2.2" fill="#21938b" transform="rotate(-11 181.4 373.9)"/><ellipse cx="165.5" cy="351.7" rx="0.6" ry="4.0" fill="#21928c" transform="rotate(-19 165.5 351.7)"/><ellipse cx="177.2" cy="403.5" rx="1.1" ry="2.7" fill="#219c88" transform="rotate(-15 177.2 403.5)"/><ellipse cx="177.7" cy="403.7" rx="0.7" ry="2.2" fill="#24898d" transform="rotate(-17 177.7 403.7)"/><ellipse cx="179.9" cy="302.7" rx="1.1" ry="2.4" fill="#219c88" transform="rotate(-5 179.9 302.7)"/><ellipse cx="165.7" cy="344.0" rx="1.2" ry="2.0" fill="#25858d" transform="rotate(11 165.7 344.0)"/><ellipse cx="183.6" cy="402.6" rx="0.9" ry="2.2" fill="#22a485" transform="rotate(3 183.6 402.6)"/><ellipse cx="166.6" cy="356.2" rx="1.4" ry="1.7" fill="#21908c" transform="rotate(-12 166.6 356.2)"/><ellipse cx="175.2" cy="325.8" rx="0.6" ry="1.5" fill="#21908c" transform="rotate(15 175.2 325.8)"/><ellipse cx="150.3" cy="366.6" rx="0.8" ry="1.6" fill="#25878d" transform="rotate(-4 150.3 366.6)"/><ellipse cx="169.0" cy="361.7" rx="1.5" ry="2.3" fill="#22a485" transform="rotate(-21 169.0 361.7)"/><ellipse cx="194.4" cy="386.7" rx="0.6" ry="3.0" fill="#21918c" transform="rotate(12 194.4 386.7)"/><ellipse cx="155.7" cy="366.8" rx="1.5" ry="3.9" fill="#21928c" transform="rotate(4 155.7 366.8)"/><ellipse cx="194.6" cy="387.3" rx="1.1" ry="1.8" fill="#26ab82" transform="rotate(10 194.6 387.3)"/><ellipse cx="184.7" cy="342.6" rx="0.7" ry="1.9" fill="#219989" transform="rotate(1 184.7 342.6)"/><ellipse cx="193.1" cy="410.9" rx="1.2" ry="2.4" fill="#21948b" transform="rotate(1 193.1 410.9)"/><ellipse cx="180.0" cy="313.9" rx="0.7" ry="3.5" fill="#21918c" transform="rotate(-10 180.0 313.9)"/><ellipse cx="149.2" cy="335.4" rx="1.6" ry="2.9" fill="#26ab81" transform="rotate(5 149.2 335.4)"/><ellipse cx="191.4" cy="388.5" rx="1.1" ry="1.7" fill="#24878d" transform="rotate(-14 191.4 388.5)"/><ellipse cx="167.1" cy="350.3" rx="1.1" ry="2.1" fill="#24898d" transform="rotate(-19 167.1 350.3)"/><ellipse cx="182.4" cy="376.0" rx="1.2" ry="1.9" fill="#21958b" transform="rotate(-11 182.4 376.0)"/><ellipse cx="196.8" cy="393.1" rx="0.9" ry="2.4" fill="#238a8d" transform="rotate(-1 196.8 393.1)"/><ellipse cx="153.9" cy="294.2" rx="1.4" ry="2.1" fill="#22a485" transform="rotate(-22 153.9 294.2)"/><ellipse cx="175.6" cy="319.3" rx="1.3" ry="2.3" fill="#21948b" transform="rotate(-14 175.6 319.3)"/><ellipse cx="168.8" cy="351.0" rx="0.7" ry="3.5" fill="#219989" transform="rotate(-11 168.8 351.0)"/><ellipse cx="189.9" cy="395.8" rx="1.4" ry="3.0" fill="#23a983" transform="rotate(-23 189.9 395.8)"/><ellipse cx="153.2" cy="356.0" rx="1.4" ry="2.7" fill="#21928c" transform="rotate(10 153.2 356.0)"/><ellipse cx="193.2" cy="384.9" rx="0.7" ry="3.3" fill="#25878d" transform="rotate(12 193.2 384.9)"/><ellipse cx="193.6" cy="406.2" rx="1.0" ry="2.2" fill="#24898d" transform="rotate(-12 193.6 406.2)"/><ellipse cx="194.8" cy="391.9" rx="0.8" ry="2.6" fill="#229d88" transform="rotate(-11 194.8 391.9)"/><ellipse cx="184.9" cy="393.5" rx="0.8" ry="2.1" fill="#23a983" transform="rotate(-14 184.9 393.5)"/><ellipse cx="162.2" cy="366.3" rx="1.6" ry="2.0" fill="#27ab81" transform="rotate(13 162.2 366.3)"/><ellipse cx="194.0" cy="413.7" rx="1.3" ry="3.2" fill="#21948b" transform="rotate(1 194.0 413.7)"/><ellipse cx="161.1" cy="333.3" rx="1.2" ry="2.6" fill="#21938b" transform="rotate(14 161.1 333.3)"/><ellipse cx="158.9" cy="352.2" rx="0.9" ry="2.2" fill="#22a486" transform="rotate(3 158.9 352.2)"/><ellipse cx="184.2" cy="351.2" rx="1.4" ry="1.7" fill="#22a685" transform="rotate(-5 184.2 351.2)"/><ellipse cx="190.7" cy="378.2" rx="0.8" ry="3.9" fill="#24aa83" transform="rotate(-3 190.7 378.2)"/><ellipse cx="149.4" cy="352.1" rx="1.0" ry="3.5" fill="#22a685" transform="rotate(-15 149.4 352.1)"/><ellipse cx="166.0" cy="387.0" rx="1.2" ry="2.8" fill="#26ab82" transform="rotate(3 166.0 387.0)"/><ellipse cx="159.8" cy="354.7" rx="1.3" ry="2.5" fill="#248a8d" transform="rotate(12 159.8 354.7)"/><ellipse cx="184.7" cy="407.2" rx="0.6" ry="1.8" fill="#22a585" transform="rotate(-1 184.7 407.2)"/><ellipse cx="159.2" cy="363.3" rx="1.3" ry="3.9" fill="#238b8d" transform="rotate(-2 159.2 363.3)"/><ellipse cx="147.7" cy="342.3" rx="1.0" ry="3.5" fill="#22a784" transform="rotate(-7 147.7 342.3)"/><ellipse cx="148.4" cy="337.4" rx="1.4" ry="3.0" fill="#219b88" transform="rotate(-19 148.4 337.4)"/><ellipse cx="180.2" cy="365.4" rx="0.8" ry="2.6" fill="#26aa82" transform="rotate(-1 180.2 365.4)"/><ellipse cx="189.2" cy="397.6" rx="0.6" ry="2.9" fill="#229e88" transform="rotate(11 189.2 397.6)"/><ellipse cx="193.6" cy="407.8" rx="1.2" ry="2.8" fill="#238c8c" transform="rotate(7 193.6 407.8)"/><ellipse cx="170.0" cy="373.0" rx="1.3" ry="3.0" fill="#b8de29" transform="rotate(-3 170.0 373.0)"/><ellipse cx="165.5" cy="291.7" rx="1.2" ry="3.3" fill="#22a485" transform="rotate(-8 165.5 291.7)"/><ellipse cx="198.7" cy="402.6" rx="1.2" ry="2.6" fill="#21938b" transform="rotate(-7 198.7 402.6)"/><ellipse cx="188.6" cy="388.6" rx="1.6" ry="2.9" fill="#228f8c" transform="rotate(4 188.6 388.6)"/><ellipse cx="168.5" cy="372.3" rx="1.5" ry="2.2" fill="#21978a" transform="rotate(-9 168.5 372.3)"/><ellipse cx="149.2" cy="413.4" rx="0.7" ry="3.5" fill="#25868d" transform="rotate(-18 149.2 413.4)"/><ellipse cx="171.7" cy="393.9" rx="0.8" ry="1.5" fill="#21928c" transform="rotate(-5 171.7 393.9)"/><ellipse cx="159.3" cy="359.3" rx="0.8" ry="2.0" fill="#22a087" transform="rotate(-16 159.3 359.3)"/><ellipse cx="180.1" cy="293.9" rx="0.7" ry="2.9" fill="#21908c" transform="rotate(6 180.1 293.9)"/><ellipse cx="190.9" cy="386.1" rx="1.4" ry="1.8" fill="#219989" transform="rotate(-18 190.9 386.1)"/><ellipse cx="165.9" cy="384.3" rx="1.1" ry="2.8" fill="#22a286" transform="rotate(-15 165.9 384.3)"/><ellipse cx="187.9" cy="354.4" rx="1.1" ry="2.1" fill="#26ab82" transform="rotate(-6 187.9 354.4)"/><ellipse cx="178.0" cy="338.0" rx="0.9" ry="3.2" fill="#21928c" transform="rotate(-12 178.0 338.0)"/><ellipse cx="154.0" cy="348.1" rx="1.0" ry="2.7" fill="#21918c" transform="rotate(2 154.0 348.1)"/><ellipse cx="175.8" cy="397.9" rx="0.9" ry="2.9" fill="#26ab82" transform="rotate(2 175.8 397.9)"/><ellipse cx="163.7" cy="358.4" rx="0.9" ry="1.8" fill="#219a89" transform="rotate(5 163.7 358.4)"/><ellipse cx="163.5" cy="394.1" rx="1.6" ry="3.2" fill="#22a286" transform="rotate(-19 163.5 394.1)"/><ellipse cx="167.1" cy="360.0" rx="1.0" ry="2.3" fill="#25858d" transform="rotate(5 167.1 360.0)"/><ellipse cx="182.7" cy="371.1" rx="0.7" ry="1.9" fill="#238c8c" transform="rotate(-14 182.7 371.1)"/><ellipse cx="165.8" cy="391.6" rx="1.0" ry="2.8" fill="#24888d" transform="rotate(12 165.8 391.6)"/><ellipse cx="182.0" cy="285.7" rx="0.7" ry="3.4" fill="#21918c" transform="rotate(6 182.0 285.7)"/><ellipse cx="172.4" cy="373.4" rx="1.3" ry="3.8" fill="#219989" transform="rotate(-5 172.4 373.4)"/><ellipse cx="188.5" cy="349.6" rx="1.2" ry="3.6" fill="#238c8c" transform="rotate(13 188.5 349.6)"/><ellipse cx="185.5" cy="321.6" rx="1.3" ry="3.4" fill="#24898d" transform="rotate(5 185.5 321.6)"/><ellipse cx="179.3" cy="311.0" rx="1.4" ry="3.6" fill="#228d8c" transform="rotate(5 179.3 311.0)"/><ellipse cx="176.9" cy="407.0" rx="1.5" ry="3.7" fill="#25868d" transform="rotate(-1 176.9 407.0)"/><ellipse cx="184.5" cy="382.5" rx="1.3" ry="2.6" fill="#21908c" transform="rotate(-10 184.5 382.5)"/><ellipse cx="185.1" cy="354.5" rx="0.7" ry="3.5" fill="#22a685" transform="rotate(6 185.1 354.5)"/><ellipse cx="163.1" cy="323.3" rx="0.7" ry="3.7" fill="#25858d" transform="rotate(14 163.1 323.3)"/><ellipse cx="170.5" cy="367.4" rx="1.5" ry="2.3" fill="#24888d" transform="rotate(-22 170.5 367.4)"/><ellipse cx="155.0" cy="341.9" rx="1.1" ry="1.7" fill="#219989" transform="rotate(-3 155.0 341.9)"/><ellipse cx="147.2" cy="358.5" rx="1.5" ry="3.9" fill="#27ab81" transform="rotate(-0 147.2 358.5)"/><ellipse cx="153.7" cy="336.6" rx="1.3" ry="2.1" fill="#22a585" transform="rotate(-1 153.7 336.6)"/><ellipse cx="184.0" cy="365.9" rx="0.8" ry="3.0" fill="#22a087" transform="rotate(-6 184.0 365.9)"/></g>
<ellipse cx="173" cy="351" rx="1.3" ry="6" fill="#c8e020"/>
<ellipse cx="342.5" cy="212.5" rx="5" ry="1.3" fill="#a8db34"/>
<ellipse cx="395.5" cy="316.5" rx="3" ry="1.3" fill="#bddf26"/>
<circle cx="417.5" cy="314" r="1.3" fill="#2a0a40"/>
<ellipse cx="353" cy="404" rx="1" ry="2.5" fill="#c8e020"/>
<ellipse cx="356" cy="409" rx="1.2" ry="2" fill="#7ad151"/>
<ellipse cx="350" cy="411" rx="1.5" ry="1.5" fill="#35b779"/>
<ellipse cx="358" cy="401" rx="1" ry="1.8" fill="#44bf70"/>
</g>
<rect x="143.5" y="211.5" width="306" height="204" fill="none" stroke="#000" stroke-width="1"/>
<line x1="139.3" y1="211.3" x2="143.5" y2="211.3" stroke="#000" stroke-width="0.9"/>
<text x="135.60" y="215.60" font-size="12.00" font-family="DejaVu Sans, sans-serif" fill="#111" text-anchor="end">0</text>
<line x1="139.3" y1="260.3" x2="143.5" y2="260.3" stroke="#000" stroke-width="0.9"/>
<text x="135.60" y="264.60" font-size="12.00" font-family="DejaVu Sans, sans-serif" fill="#111" text-anchor="end">200</text>
<line x1="139.3" y1="309.3" x2="143.5" y2="309.3" stroke="#000" stroke-width="0.9"/>
<text x="135.60" y="313.60" font-size="12.00" font-family="DejaVu Sans, sans-serif" fill="#111" text-anchor="end">400</text>
<line x1="139.3" y1="358.3" x2="143.5" y2="358.3" stroke="#000" stroke-width="0.9"/>
<text x="135.60" y="362.60" font-size="12.00" font-family="DejaVu Sans, sans-serif" fill="#111" text-anchor="end">600</text>
<line x1="139.3" y1="407.3" x2="143.5" y2="407.3" stroke="#000" stroke-width="0.9"/>
<text x="135.60" y="411.60" font-size="12.00" font-family="DejaVu Sans, sans-serif" fill="#111" text-anchor="end">800</text>
<line x1="143.4" y1="415.5" x2="143.4" y2="419.7" stroke="#000" stroke-width="0.9"/>
<text x="143.40" y="432.30" font-size="12.00" font-family="DejaVu Sans, sans-serif" fill="#111" text-anchor="middle">0</text>
<line x1="192.4" y1="415.5" x2="192.4" y2="419.7" stroke="#000" stroke-width="0.9"/>
<text x="192.40" y="432.30" font-size="12.00" font-family="DejaVu Sans, sans-serif" fill="#111" text-anchor="middle">200</text>
<line x1="241.4" y1="415.5" x2="241.4" y2="419.7" stroke="#000" stroke-width="0.9"/>
<text x="241.40" y="432.30" font-size="12.00" font-family="DejaVu Sans, sans-serif" fill="#111" text-anchor="middle">400</text>
<line x1="290.4" y1="415.5" x2="290.4" y2="419.7" stroke="#000" stroke-width="0.9"/>
<text x="290.40" y="432.30" font-size="12.00" font-family="DejaVu Sans, sans-serif" fill="#111" text-anchor="middle">600</text>
<line x1="339.4" y1="415.5" x2="339.4" y2="419.7" stroke="#000" stroke-width="0.9"/>
<text x="339.40" y="432.30" font-size="12.00" font-family="DejaVu Sans, sans-serif" fill="#111" text-anchor="middle">800</text>
<line x1="388.4" y1="415.5" x2="388.4" y2="419.7" stroke="#000" stroke-width="0.9"/>
<text x="388.40" y="432.30" font-size="12.00" font-family="DejaVu Sans, sans-serif" fill="#111" text-anchor="middle">1000</text>
<line x1="437.4" y1="415.5" x2="437.4" y2="419.7" stroke="#000" stroke-width="0.9"/>
<text x="437.40" y="432.30" font-size="12.00" font-family="DejaVu Sans, sans-serif" fill="#111" text-anchor="middle">1200</text>
<text x="296.50" y="204.70" font-size="13.70" font-family="DejaVu Sans, sans-serif" fill="#111" text-anchor="middle" textLength="103.40" lengthAdjust="spacingAndGlyphs">Sample Quality</text>
<rect x="468.6" y="189.6" width="12.8" height="248" fill="url(#vir)" stroke="#222" stroke-width="0.9"/>
<line x1="481.4" y1="437.8" x2="485.3" y2="437.8" stroke="#000" stroke-width="0.9"/>
<text x="489.60" y="442.10" font-size="12.00" font-family="DejaVu Sans, sans-serif" fill="#111">0</text>
<line x1="481.4" y1="399.6" x2="485.3" y2="399.6" stroke="#000" stroke-width="0.9"/>
<text x="489.60" y="403.87" font-size="12.00" font-family="DejaVu Sans, sans-serif" fill="#111">1</text>
<line x1="481.4" y1="361.3" x2="485.3" y2="361.3" stroke="#000" stroke-width="0.9"/>
<text x="489.60" y="365.64" font-size="12.00" font-family="DejaVu Sans, sans-serif" fill="#111">2</text>
<line x1="481.4" y1="323.1" x2="485.3" y2="323.1" stroke="#000" stroke-width="0.9"/>
<text x="489.60" y="327.41" font-size="12.00" font-family="DejaVu Sans, sans-serif" fill="#111">3</text>
<line x1="481.4" y1="284.9" x2="485.3" y2="284.9" stroke="#000" stroke-width="0.9"/>
<text x="489.60" y="289.18" font-size="12.00" font-family="DejaVu Sans, sans-serif" fill="#111">4</text>
<line x1="481.4" y1="246.7" x2="485.3" y2="246.7" stroke="#000" stroke-width="0.9"/>
<text x="489.60" y="250.95" font-size="12.00" font-family="DejaVu Sans, sans-serif" fill="#111">5</text>
<line x1="481.4" y1="208.4" x2="485.3" y2="208.4" stroke="#000" stroke-width="0.9"/>
<text x="489.60" y="212.72" font-size="12.00" font-family="DejaVu Sans, sans-serif" fill="#111">6</text>
<text x="510.30" y="325.00" font-size="12.00" font-family="DejaVu Sans, sans-serif" fill="#111" transform="rotate(-90 510.30 325.00)">a.u.</text>
<line x1="224.4" y1="288.7" x2="160.0" y2="449.3" stroke="#f00" stroke-width="1.8"/>
<polygon points="157.2,456.3 156.5,447.4 163.9,450.4" fill="#f00"/>
<line x1="331.6" y1="331.6" x2="411.1" y2="457.0" stroke="#f00" stroke-width="1.8"/>
<polygon points="415.1,463.3 407.4,458.7 414.2,454.4" fill="#f00"/>
<rect x="48" y="472" width="229" height="151.75" fill="#fff"/>
<line x1="101.75" y1="472" x2="101.75" y2="623.75" stroke="#e3e3e3" stroke-width="0.9"/>
<line x1="155.60" y1="472" x2="155.60" y2="623.75" stroke="#e3e3e3" stroke-width="0.9"/>
<line x1="209.50" y1="472" x2="209.50" y2="623.75" stroke="#e3e3e3" stroke-width="0.9"/>
<line x1="263.30" y1="472" x2="263.30" y2="623.75" stroke="#e3e3e3" stroke-width="0.9"/>
<line x1="48" y1="602.30" x2="277" y2="602.30" stroke="#e3e3e3" stroke-width="0.9"/>
<line x1="48" y1="580.60" x2="277" y2="580.60" stroke="#e3e3e3" stroke-width="0.9"/>
<line x1="48" y1="558.90" x2="277" y2="558.90" stroke="#e3e3e3" stroke-width="0.9"/>
<line x1="48" y1="537.20" x2="277" y2="537.20" stroke="#e3e3e3" stroke-width="0.9"/>
<line x1="48" y1="515.50" x2="277" y2="515.50" stroke="#e3e3e3" stroke-width="0.9"/>
<line x1="48" y1="493.80" x2="277" y2="493.80" stroke="#e3e3e3" stroke-width="0.9"/>
<line x1="101.75" y1="623.75" x2="101.75" y2="621.25" stroke="#333" stroke-width="0.8"/>
<line x1="101.75" y1="472" x2="101.75" y2="474.5" stroke="#333" stroke-width="0.8"/>
<line x1="155.60" y1="623.75" x2="155.60" y2="621.25" stroke="#333" stroke-width="0.8"/>
<line x1="155.60" y1="472" x2="155.60" y2="474.5" stroke="#333" stroke-width="0.8"/>
<line x1="209.50" y1="623.75" x2="209.50" y2="621.25" stroke="#333" stroke-width="0.8"/>
<line x1="209.50" y1="472" x2="209.50" y2="474.5" stroke="#333" stroke-width="0.8"/>
<line x1="263.30" y1="623.75" x2="263.30" y2="621.25" stroke="#333" stroke-width="0.8"/>
<line x1="263.30" y1="472" x2="263.30" y2="474.5" stroke="#333" stroke-width="0.8"/>
<line x1="48" y1="602.30" x2="50.5" y2="602.30" stroke="#333" stroke-width="0.8"/>
<line x1="277" y1="602.30" x2="274.5" y2="602.30" stroke="#333" stroke-width="0.8"/>
<line x1="48" y1="580.60" x2="50.5" y2="580.60" stroke="#333" stroke-width="0.8"/>
<line x1="277" y1="580.60" x2="274.5" y2="580.60" stroke="#333" stroke-width="0.8"/>
<line x1="48" y1="558.90" x2="50.5" y2="558.90" stroke="#333" stroke-width="0.8"/>
<line x1="277" y1="558.90" x2="274.5" y2="558.90" stroke="#333" stroke-width="0.8"/>
<line x1="48" y1="537.20" x2="50.5" y2="537.20" stroke="#333" stroke-width="0.8"/>
<line x1="277" y1="537.20" x2="274.5" y2="537.20" stroke="#333" stroke-width="0.8"/>
<line x1="48" y1="515.50" x2="50.5" y2="515.50" stroke="#333" stroke-width="0.8"/>
<line x1="277" y1="515.50" x2="274.5" y2="515.50" stroke="#333" stroke-width="0.8"/>
<line x1="48" y1="493.80" x2="50.5" y2="493.80" stroke="#333" stroke-width="0.8"/>
<line x1="277" y1="493.80" x2="274.5" y2="493.80" stroke="#333" stroke-width="0.8"/>
<path d="M48.0,596.2 L51.2,597.0 L55.0,598.2 L58.8,599.2 L61.2,597.5 L63.8,595.0 L67.0,590.0 L70.0,582.5 L73.8,572.5 L77.5,560.0 L80.5,545.0 L83.8,522.5 L85.8,502.5 L87.5,490.0 L89.2,497.5 L91.2,512.5 L93.0,535.0 L95.0,555.0 L97.0,572.5 L98.8,582.5 L100.5,587.0 L102.5,586.2 L105.0,586.2 L108.0,586.0 L111.2,587.0 L115.0,582.5 L117.5,578.0 L120.0,572.5 L123.2,557.5 L126.2,542.5 L128.8,526.2 L130.2,517.5 L131.8,514.5 L133.2,520.0 L135.0,530.0 L137.0,547.5 L138.8,565.0 L140.5,572.5 L142.5,574.5 L145.0,575.0 L147.5,575.0 L151.2,577.5 L153.0,576.2 L155.0,572.5 L157.5,562.5 L160.0,550.0 L162.5,536.2 L164.2,530.0 L165.8,531.2 L167.5,535.0 L168.8,545.0 L170.0,557.5 L171.8,566.2 L173.8,570.0 L176.2,570.0 L178.8,568.8 L181.2,567.0 L182.5,565.0 L185.0,556.2 L187.5,545.0 L189.2,536.2 L190.5,535.0 L192.0,537.5 L193.8,545.0 L195.5,556.2 L197.5,565.0 L200.0,569.5 L202.5,570.0 L204.2,568.0 L206.2,565.0 L208.0,555.0 L209.5,546.2 L210.8,543.8 L212.0,546.2 L213.8,555.0 L215.5,560.0 L217.0,561.2 L220.0,561.2 L222.0,557.5 L223.8,552.5 L225.0,550.0 L226.2,549.5 L227.5,551.2 L228.8,555.0 L230.5,560.0 L232.5,562.0 L235.0,562.5 L237.5,556.2 L238.8,553.8 L240.0,552.5 L242.0,554.5 L243.8,556.2 L245.5,555.0 L247.0,553.8 L248.8,552.5 L250.5,553.2 L252.0,554.5 L253.8,555.8 L255.5,555.5 L257.5,555.8 L259.5,557.0 L261.2,558.0 L263.2,558.8 L265.0,558.8 L266.2,559.5 L267.5,560.0 L269.5,559.2 L271.2,559.0 L273.2,558.5 L275.0,558.0 L277.0,557.5" fill="none" stroke="#d95319" stroke-width="1.2" stroke-linejoin="round" clip-path="url(#p1clip)"/>
<rect x="48" y="472" width="229" height="151.75" fill="none" stroke="#333" stroke-width="1"/>
<text x="43.50" y="627.76" font-size="11.20" fill="#4a4a4a" text-anchor="end" textLength="12.90" lengthAdjust="spacingAndGlyphs">0.1</text>
<text x="43.50" y="606.31" font-size="11.20" fill="#4a4a4a" text-anchor="end" textLength="12.90" lengthAdjust="spacingAndGlyphs">0.2</text>
<text x="43.50" y="584.61" font-size="11.20" fill="#4a4a4a" text-anchor="end" textLength="12.90" lengthAdjust="spacingAndGlyphs">0.3</text>
<text x="43.50" y="562.91" font-size="11.20" fill="#4a4a4a" text-anchor="end" textLength="12.90" lengthAdjust="spacingAndGlyphs">0.4</text>
<text x="43.50" y="541.21" font-size="11.20" fill="#4a4a4a" text-anchor="end" textLength="12.90" lengthAdjust="spacingAndGlyphs">0.5</text>
<text x="43.50" y="519.51" font-size="11.20" fill="#4a4a4a" text-anchor="end" textLength="12.90" lengthAdjust="spacingAndGlyphs">0.6</text>
<text x="43.50" y="497.81" font-size="11.20" fill="#4a4a4a" text-anchor="end" textLength="12.90" lengthAdjust="spacingAndGlyphs">0.7</text>
<text x="47.20" y="639.45" font-size="10.90" fill="#4a4a4a" text-anchor="middle" textLength="22.09" lengthAdjust="spacingAndGlyphs">2.171</text>
<text x="100.95" y="639.45" font-size="10.90" fill="#4a4a4a" text-anchor="middle" textLength="26.30" lengthAdjust="spacingAndGlyphs">2.1712</text>
<text x="154.80" y="639.45" font-size="10.90" fill="#4a4a4a" text-anchor="middle" textLength="26.30" lengthAdjust="spacingAndGlyphs">2.1714</text>
<text x="208.70" y="639.45" font-size="10.90" fill="#4a4a4a" text-anchor="middle" textLength="26.30" lengthAdjust="spacingAndGlyphs">2.1716</text>
<text x="262.50" y="639.45" font-size="10.90" fill="#4a4a4a" text-anchor="middle" textLength="26.30" lengthAdjust="spacingAndGlyphs">2.1718</text>
<text x="135.80" y="655.10" font-size="11.90" fill="#222" textLength="53.00" lengthAdjust="spacingAndGlyphs">Energy (eV)</text>
<text x="26.90" y="548.10" font-size="11.20" fill="#222" text-anchor="middle" textLength="120.60" lengthAdjust="spacingAndGlyphs" transform="rotate(-90 26.90 548.10)">Relative optical Density</text>
<rect x="154.6" y="469.6" width="128.9" height="40.299999999999955" fill="#fff" stroke="#444" stroke-width="1"/>
<line x1="157.4" y1="477" x2="184.1" y2="477" stroke="#9ccbe9" stroke-width="1.1"/>
<text x="185.70" y="480.30" font-size="9.80" fill="#c4c0cc" textLength="94.90" lengthAdjust="spacingAndGlyphs">Prediction: Second to best</text>
<line x1="157.4" y1="489.6" x2="184.1" y2="489.6" stroke="#d95319" stroke-width="1.6"/>
<text x="185.70" y="493.20" font-size="9.80" fill="#1e1830" textLength="74.70" lengthAdjust="spacingAndGlyphs">Prediction: Best spot</text>
<line x1="157.4" y1="502.2" x2="184.1" y2="502.2" stroke="#f7e2a8" stroke-width="1.1"/>
<text x="185.70" y="505.70" font-size="9.80" fill="#c8c4ce" textLength="73.60" lengthAdjust="spacingAndGlyphs">Prediction: Bad spot</text>
<text x="69.50" y="488.80" font-size="18.90" textLength="51.50" lengthAdjust="spacingAndGlyphs">n = 10</text>
<text x="197.5" y="595" font-size="18.9" textLength="75.30000000000001" lengthAdjust="spacingAndGlyphs">n<tspan font-size="13" dy="4">max</tspan><tspan dy="-4"> = 18</tspan></text>
<line x1="258.3" y1="578" x2="258.3" y2="565" stroke="#333" stroke-width="1.1"/>
<polygon points="258.3,559 254.3,566 262.3,566" fill="#000"/>
<rect x="320.5" y="469.25" width="248.75" height="154.5" fill="#fff"/>
<line x1="379.25" y1="469.25" x2="379.25" y2="623.75" stroke="#e3e3e3" stroke-width="0.9"/>
<line x1="437.60" y1="469.25" x2="437.60" y2="623.75" stroke="#e3e3e3" stroke-width="0.9"/>
<line x1="496.00" y1="469.25" x2="496.00" y2="623.75" stroke="#e3e3e3" stroke-width="0.9"/>
<line x1="554.40" y1="469.25" x2="554.40" y2="623.75" stroke="#e3e3e3" stroke-width="0.9"/>
<line x1="320.5" y1="601.70" x2="569.25" y2="601.70" stroke="#e3e3e3" stroke-width="0.9"/>
<line x1="320.5" y1="579.70" x2="569.25" y2="579.70" stroke="#e3e3e3" stroke-width="0.9"/>
<line x1="320.5" y1="557.60" x2="569.25" y2="557.60" stroke="#e3e3e3" stroke-width="0.9"/>
<line x1="320.5" y1="535.60" x2="569.25" y2="535.60" stroke="#e3e3e3" stroke-width="0.9"/>
<line x1="320.5" y1="513.50" x2="569.25" y2="513.50" stroke="#e3e3e3" stroke-width="0.9"/>
<line x1="320.5" y1="491.50" x2="569.25" y2="491.50" stroke="#e3e3e3" stroke-width="0.9"/>
<line x1="379.25" y1="623.75" x2="379.25" y2="621.25" stroke="#333" stroke-width="0.8"/>
<line x1="379.25" y1="469.25" x2="379.25" y2="471.75" stroke="#333" stroke-width="0.8"/>
<line x1="437.60" y1="623.75" x2="437.60" y2="621.25" stroke="#333" stroke-width="0.8"/>
<line x1="437.60" y1="469.25" x2="437.60" y2="471.75" stroke="#333" stroke-width="0.8"/>
<line x1="496.00" y1="623.75" x2="496.00" y2="621.25" stroke="#333" stroke-width="0.8"/>
<line x1="496.00" y1="469.25" x2="496.00" y2="471.75" stroke="#333" stroke-width="0.8"/>
<line x1="554.40" y1="623.75" x2="554.40" y2="621.25" stroke="#333" stroke-width="0.8"/>
<line x1="554.40" y1="469.25" x2="554.40" y2="471.75" stroke="#333" stroke-width="0.8"/>
<line x1="320.5" y1="601.70" x2="323.0" y2="601.70" stroke="#333" stroke-width="0.8"/>
<line x1="569.25" y1="601.70" x2="566.75" y2="601.70" stroke="#333" stroke-width="0.8"/>
<line x1="320.5" y1="579.70" x2="323.0" y2="579.70" stroke="#333" stroke-width="0.8"/>
<line x1="569.25" y1="579.70" x2="566.75" y2="579.70" stroke="#333" stroke-width="0.8"/>
<line x1="320.5" y1="557.60" x2="323.0" y2="557.60" stroke="#333" stroke-width="0.8"/>
<line x1="569.25" y1="557.60" x2="566.75" y2="557.60" stroke="#333" stroke-width="0.8"/>
<line x1="320.5" y1="535.60" x2="323.0" y2="535.60" stroke="#333" stroke-width="0.8"/>
<line x1="569.25" y1="535.60" x2="566.75" y2="535.60" stroke="#333" stroke-width="0.8"/>
<line x1="320.5" y1="513.50" x2="323.0" y2="513.50" stroke="#333" stroke-width="0.8"/>
<line x1="569.25" y1="513.50" x2="566.75" y2="513.50" stroke="#333" stroke-width="0.8"/>
<line x1="320.5" y1="491.50" x2="323.0" y2="491.50" stroke="#333" stroke-width="0.8"/>
<line x1="569.25" y1="491.50" x2="566.75" y2="491.50" stroke="#333" stroke-width="0.8"/>
<path d="M320.5,517.5 L321.5,527.5 L322.5,535.0 L323.8,545.0 L325.0,552.5 L327.5,560.0 L330.0,565.0 L332.5,568.2 L335.0,571.2 L338.0,573.8 L341.2,575.0 L343.8,574.8 L346.2,573.8 L348.8,571.2 L351.2,567.5 L353.8,562.0 L356.2,555.0 L358.8,546.2 L361.2,537.5 L363.8,528.8 L366.2,520.0 L368.8,513.0 L370.0,511.2 L372.0,510.0 L373.8,508.8 L375.5,507.0 L377.0,505.8 L378.5,507.5 L380.0,512.5 L381.8,521.2 L383.8,532.5 L385.5,542.5 L387.5,552.5 L389.5,558.8 L391.2,561.2 L393.8,563.8 L396.2,565.5 L398.8,565.0 L401.2,562.5 L403.8,559.5 L406.2,556.2 L408.8,551.2 L411.2,545.0 L413.8,539.5 L416.2,533.8 L418.8,528.8 L421.2,524.5 L423.8,523.0 L426.2,522.5 L428.0,525.5 L430.0,532.5 L431.8,540.0 L433.8,546.2 L435.5,549.5 L437.5,552.0 L440.0,553.5 L442.5,555.0 L445.0,553.0 L447.5,550.0 L450.0,546.2 L452.5,541.2 L455.0,536.2 L457.5,532.5 L459.0,531.0 L460.0,530.8 L462.0,532.0 L463.8,535.0 L465.5,539.5 L467.5,543.8 L469.5,547.5 L471.2,548.8 L473.8,548.2 L476.2,547.5 L479.5,544.5 L482.5,541.2 L485.0,539.5 L487.5,538.0 L490.0,537.0 L492.5,536.2 L494.5,537.0 L496.2,538.0 L497.5,541.2 L498.8,545.0 L500.0,548.0 L501.2,548.8 L503.0,547.5 L505.0,546.2 L507.5,543.8 L510.0,541.2 L512.5,540.0 L515.0,539.5 L517.5,540.0 L520.0,539.5 L522.5,539.0 L525.0,538.5 L528.0,538.8 L531.2,539.0 L533.0,540.5 L535.0,542.0 L537.5,542.5 L540.0,542.5 L542.5,542.8 L545.0,542.5 L547.5,541.2 L550.0,540.0 L552.0,539.0 L553.8,538.8 L556.2,538.2 L560.0,537.5 L562.0,536.8 L563.5,537.5 L565.0,539.5 L567.0,540.0 L569.2,539.5" fill="none" stroke="#edb120" stroke-width="1.2" stroke-linejoin="round" clip-path="url(#p2clip)"/>
<rect x="320.5" y="469.25" width="248.75" height="154.5" fill="none" stroke="#333" stroke-width="1"/>
<text x="316.20" y="628.01" font-size="11.90" fill="#4a4a4a" text-anchor="end" textLength="14.20" lengthAdjust="spacingAndGlyphs">0.1</text>
<text x="316.20" y="605.96" font-size="11.90" fill="#4a4a4a" text-anchor="end" textLength="14.20" lengthAdjust="spacingAndGlyphs">0.2</text>
<text x="316.20" y="583.96" font-size="11.90" fill="#4a4a4a" text-anchor="end" textLength="14.20" lengthAdjust="spacingAndGlyphs">0.3</text>
<text x="316.20" y="561.86" font-size="11.90" fill="#4a4a4a" text-anchor="end" textLength="14.20" lengthAdjust="spacingAndGlyphs">0.4</text>
<text x="316.20" y="539.86" font-size="11.90" fill="#4a4a4a" text-anchor="end" textLength="14.20" lengthAdjust="spacingAndGlyphs">0.5</text>
<text x="316.20" y="517.76" font-size="11.90" fill="#4a4a4a" text-anchor="end" textLength="14.20" lengthAdjust="spacingAndGlyphs">0.6</text>
<text x="316.20" y="495.76" font-size="11.90" fill="#4a4a4a" text-anchor="end" textLength="14.20" lengthAdjust="spacingAndGlyphs">0.7</text>
<text x="319.70" y="639.45" font-size="11.60" fill="#4a4a4a" text-anchor="middle" textLength="25.37" lengthAdjust="spacingAndGlyphs">2.171</text>
<text x="378.45" y="639.45" font-size="11.60" fill="#4a4a4a" text-anchor="middle" textLength="30.20" lengthAdjust="spacingAndGlyphs">2.1712</text>
<text x="436.80" y="639.45" font-size="11.60" fill="#4a4a4a" text-anchor="middle" textLength="30.20" lengthAdjust="spacingAndGlyphs">2.1714</text>
<text x="495.20" y="639.45" font-size="11.60" fill="#4a4a4a" text-anchor="middle" textLength="30.20" lengthAdjust="spacingAndGlyphs">2.1716</text>
<text x="553.60" y="639.45" font-size="11.60" fill="#4a4a4a" text-anchor="middle" textLength="30.20" lengthAdjust="spacingAndGlyphs">2.1718</text>
<text x="416.50" y="655.90" font-size="12.20" fill="#222" textLength="57.00" lengthAdjust="spacingAndGlyphs">Energy (eV)</text>
<text x="297.20" y="545.80" font-size="12.00" fill="#222" text-anchor="middle" textLength="122.40" lengthAdjust="spacingAndGlyphs" transform="rotate(-90 297.20 545.80)">Relative optical Density</text>
<rect x="436.45" y="466.45" width="140.05" height="40.650000000000034" fill="#fff" stroke="#444" stroke-width="1"/>
<line x1="439.6" y1="474.1" x2="468.5" y2="474.1" stroke="#9ccbe9" stroke-width="1.1"/>
<text x="470.40" y="478.40" font-size="10.60" fill="#c4c0cc" textLength="102.80" lengthAdjust="spacingAndGlyphs">Prediction: Second to best</text>
<line x1="439.6" y1="486.9" x2="468.5" y2="486.9" stroke="#f4bfae" stroke-width="1.1"/>
<text x="470.40" y="491.10" font-size="10.60" fill="#c8c4ce" textLength="80.75" lengthAdjust="spacingAndGlyphs">Prediction: Best spot</text>
<line x1="439.6" y1="499.7" x2="468.5" y2="499.7" stroke="#edb120" stroke-width="1.6"/>
<text x="470.40" y="503.60" font-size="10.60" fill="#1e1830" textLength="79.00" lengthAdjust="spacingAndGlyphs">Prediction: Bad spot</text>
<text x="351.30" y="501.30" font-size="18.90" textLength="51.50" lengthAdjust="spacingAndGlyphs">n = 10</text>
<text x="476.3" y="588" font-size="18.9" textLength="74.99999999999994" lengthAdjust="spacingAndGlyphs">n<tspan font-size="13" dy="4">max</tspan><tspan dy="-4"> = 14</tspan></text>
<line x1="520.8" y1="570" x2="520.8" y2="551" stroke="#333" stroke-width="1.1"/>
<polygon points="520.8,545 516.8,552 524.8,552" fill="#000"/>
<rect x="775.5" y="163.5" width="396.0" height="301.0" fill="#440154"/>
<g clip-path="url(#rclip)">
<g filter="url(#blur2)">
<ellipse cx="928" cy="218" rx="9" ry="9" fill="#3b528b" opacity="0.7"/>
<ellipse cx="946" cy="222" rx="6" ry="9" fill="#3b528b" opacity="0.6"/>
<ellipse cx="907" cy="225" rx="5" ry="8" fill="#3b528b" opacity="0.5"/>
</g>
<g filter="url(#blur1)">
<rect x="904" y="234" width="6" height="68" fill="url(#st3s)"/>
<rect x="921" y="234" width="9" height="70" fill="url(#st3d)"/>
<rect x="942.5" y="234" width="8" height="126" fill="url(#st4)"/>
</g>
<rect x="918.9" y="163.5" width="2.1" height="301" fill="#1010ff"/>
<rect x="924.2" y="163.5" width="2.1" height="301" fill="#1010ff"/>
<rect x="888" y="220.8" width="78" height="14.2" fill="url(#redband)"/>
</g>
<rect x="775.5" y="163.5" width="396.0" height="301.0" fill="none" stroke="#111" stroke-width="1.1"/>
<line x1="770.3" y1="163.3" x2="775.5" y2="163.3" stroke="#111" stroke-width="1"/>
<text x="764.30" y="168.30" font-size="13.70" font-family="DejaVu Sans, sans-serif" fill="#111" text-anchor="end">0</text>
<line x1="770.3" y1="205.7" x2="775.5" y2="205.7" stroke="#111" stroke-width="1"/>
<text x="764.30" y="210.68" font-size="13.70" font-family="DejaVu Sans, sans-serif" fill="#111" text-anchor="end">10</text>
<line x1="770.3" y1="248.1" x2="775.5" y2="248.1" stroke="#111" stroke-width="1"/>
<text x="764.30" y="253.06" font-size="13.70" font-family="DejaVu Sans, sans-serif" fill="#111" text-anchor="end">20</text>
<line x1="770.3" y1="290.4" x2="775.5" y2="290.4" stroke="#111" stroke-width="1"/>
<text x="764.30" y="295.44" font-size="13.70" font-family="DejaVu Sans, sans-serif" fill="#111" text-anchor="end">30</text>
<line x1="770.3" y1="332.8" x2="775.5" y2="332.8" stroke="#111" stroke-width="1"/>
<text x="764.30" y="337.82" font-size="13.70" font-family="DejaVu Sans, sans-serif" fill="#111" text-anchor="end">39</text>
<line x1="770.3" y1="375.2" x2="775.5" y2="375.2" stroke="#111" stroke-width="1"/>
<text x="764.30" y="380.20" font-size="13.70" font-family="DejaVu Sans, sans-serif" fill="#111" text-anchor="end">49</text>
<line x1="770.3" y1="417.6" x2="775.5" y2="417.6" stroke="#111" stroke-width="1"/>
<text x="764.30" y="422.58" font-size="13.70" font-family="DejaVu Sans, sans-serif" fill="#111" text-anchor="end">59</text>
<line x1="770.3" y1="460.0" x2="775.5" y2="460.0" stroke="#111" stroke-width="1"/>
<text x="764.30" y="464.96" font-size="13.70" font-family="DejaVu Sans, sans-serif" fill="#111" text-anchor="end">69</text>
<text x="735.20" y="316.50" font-size="13.70" font-family="DejaVu Sans, sans-serif" fill="#111" text-anchor="middle" textLength="69.00" lengthAdjust="spacingAndGlyphs" transform="rotate(-90 735.20 316.50)">Time (ps)</text>
<line x1="776.0" y1="464.5" x2="776.0" y2="470.3" stroke="#111" stroke-width="1"/>
<line x1="832.2" y1="464.5" x2="832.2" y2="470.3" stroke="#111" stroke-width="1"/>
<line x1="888.5" y1="464.5" x2="888.5" y2="470.3" stroke="#111" stroke-width="1"/>
<line x1="944.8" y1="464.5" x2="944.8" y2="470.3" stroke="#111" stroke-width="1"/>
<line x1="1001.0" y1="464.5" x2="1001.0" y2="470.3" stroke="#111" stroke-width="1"/>
<line x1="1057.2" y1="464.5" x2="1057.2" y2="470.3" stroke="#111" stroke-width="1"/>
<line x1="1113.5" y1="464.5" x2="1113.5" y2="470.3" stroke="#111" stroke-width="1"/>
<line x1="1169.8" y1="464.5" x2="1169.8" y2="470.3" stroke="#111" stroke-width="1"/>
<text x="749.75" y="493.40" font-size="13.95" textLength="43.70" lengthAdjust="spacingAndGlyphs" id="xt2150">2150.0</text>
<text x="862.54" y="492.10" font-size="13.95" textLength="44.72" lengthAdjust="spacingAndGlyphs" id="xt2160">2160.0</text>
<text x="977.75" y="493.90" font-size="13.95" textLength="44.30" lengthAdjust="spacingAndGlyphs" id="xt2170">2170.0</text>
<text x="1093.15" y="493.40" font-size="13.95" textLength="43.30" lengthAdjust="spacingAndGlyphs" id="xt2180">2180.0</text>
<text x="884.06" y="511.70" font-size="17.88" textLength="108.88" lengthAdjust="spacingAndGlyphs" id="emev">Energy (meV)</text>
<text x="935.34" y="194.30" font-size="14.53" fill="#e8101a" textLength="71.93" lengthAdjust="spacingAndGlyphs" id="laser">Laser pulse</text>
<text x="858.61" y="247.80" font-size="15.99" fill="#fff" textLength="18.18" lengthAdjust="spacingAndGlyphs" id="l3s">3S</text>
<text x="980.74" y="234.40" font-size="14.53" fill="#fff" textLength="15.52" lengthAdjust="spacingAndGlyphs" id="l4s">4S</text>
<text x="966.45" y="282.70" font-size="13.95" fill="#fff" textLength="16.80" lengthAdjust="spacingAndGlyphs" id="l4d">4D</text>
<text x="914.75" y="310.00" font-size="13.95" fill="#fff" textLength="17.50" lengthAdjust="spacingAndGlyphs" id="l3d">3D</text>
<line x1="972.5" y1="203.7" x2="949.0" y2="216.6" stroke="#f01010" stroke-width="1.2"/>
<polygon points="942.0,220.4 947.3,212.4 951.6,220.3" fill="#f01010"/>
<line x1="886.7" y1="242.5" x2="899.0" y2="242.5" stroke="#fff" stroke-width="1.2"/>
<polygon points="905.0,242.5 898.5,246.1 898.5,238.9" fill="#fff"/>
<line x1="971.3" y1="229.7" x2="951.8" y2="238.2" stroke="#fff" stroke-width="1.2"/>
<polygon points="945.8,240.8 950.7,234.5 953.7,241.5" fill="#fff"/>
<line x1="975.8" y1="263.3" x2="959.3" y2="250.3" stroke="#fff" stroke-width="1.2"/>
<polygon points="954.2,246.3 962.1,247.6 957.4,253.6" fill="#fff"/>
<line x1="924.5" y1="298.0" x2="924.3" y2="267.3" stroke="#fff" stroke-width="1.2"/>
<polygon points="924.2,260.8 928.1,267.8 920.5,267.8" fill="#fff"/>
</svg></body></html>
